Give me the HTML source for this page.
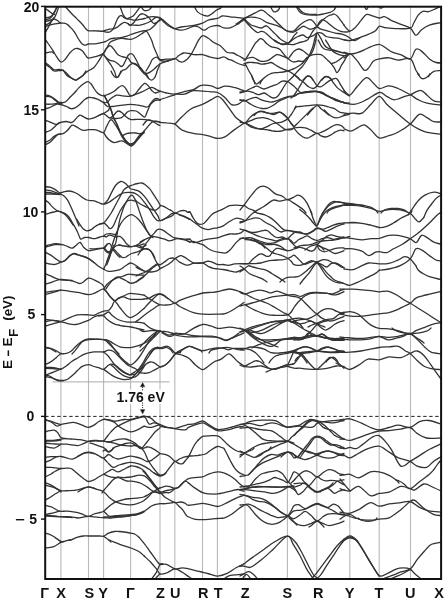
<!DOCTYPE html>
<html><head><meta charset="utf-8"><style>
html,body{margin:0;padding:0;background:#fff;-webkit-font-smoothing:antialiased;}
svg{display:block;filter:grayscale(1);}
text{font-family:"Liberation Sans",sans-serif;font-weight:bold;fill:#111;}
</style></head><body>
<svg width="445" height="605" viewBox="0 0 445 605" xmlns="http://www.w3.org/2000/svg">
<rect width="445" height="605" fill="#fff"/>
<g stroke="#b8b8b8" stroke-width="1.1"><line x1="60.9" y1="6.7" x2="60.9" y2="579.0"/><line x1="88.5" y1="6.7" x2="88.5" y2="579.0"/><line x1="103.6" y1="6.7" x2="103.6" y2="579.0"/><line x1="130.6" y1="6.7" x2="130.6" y2="579.0"/><line x1="160.0" y1="6.7" x2="160.0" y2="579.0"/><line x1="174.8" y1="6.7" x2="174.8" y2="579.0"/><line x1="202.5" y1="6.7" x2="202.5" y2="579.0"/><line x1="217.4" y1="6.7" x2="217.4" y2="579.0"/><line x1="245.0" y1="6.7" x2="245.0" y2="579.0"/><line x1="287.4" y1="6.7" x2="287.4" y2="579.0"/><line x1="316.8" y1="6.7" x2="316.8" y2="579.0"/><line x1="349.8" y1="6.7" x2="349.8" y2="579.0"/><line x1="379.2" y1="6.7" x2="379.2" y2="579.0"/><line x1="410.5" y1="6.7" x2="410.5" y2="579.0"/></g>
<line x1="52.5" y1="381.9" x2="169.5" y2="381.9" stroke="#aaa" stroke-width="1"/>
<defs><clipPath id="c"><rect x="45.2" y="6.7" width="395.90000000000003" height="572.3"/></clipPath></defs>
<g clip-path="url(#c)" fill="none" stroke="#333" stroke-width="1.3" stroke-linecap="round" stroke-linejoin="round">
<path d="M344.0 25.2 C344.9 26.2 347.7 30.5 349.6 30.8 C351.5 31.2 353.4 29.2 355.2 27.5 C357.1 25.8 359.0 22.9 360.9 20.7 C362.7 18.6 364.4 15.2 366.5 14.4 C368.5 13.7 371.1 15.6 373.2 16.2 C375.3 16.8 377.4 18.0 379.3 18.0 C381.2 18.1 382.5 16.3 384.4 16.7 C386.4 17.1 388.6 19.0 391.2 20.3 C393.8 21.5 397.0 22.8 400.2 24.1 C403.4 25.4 407.7 26.3 410.3 28.1 C412.9 30.0 414.0 35.1 415.9 35.3 C417.8 35.6 419.3 31.4 421.5 29.7 C423.8 28.0 426.6 26.3 429.4 25.2 C432.2 24.1 435.9 23.4 438.4 23.0 C440.8 22.5 443.1 22.6 444.0 22.5"/><path d="M344.0 39.8 C345.1 39.9 348.1 40.9 350.7 40.5 C353.4 40.1 356.7 38.6 359.7 37.6 C362.7 36.5 366.1 35.3 368.7 34.2 C371.3 33.1 373.7 32.2 375.5 30.8 C377.2 29.5 377.8 26.9 379.3 26.3 C380.8 25.8 381.7 27.1 384.4 27.5 C387.2 27.8 391.4 28.5 395.7 28.6 C400.0 28.7 407.3 29.1 410.3 28.1 C413.3 27.2 412.4 25.1 413.7 23.0 C415.0 20.8 416.7 17.1 418.2 15.1 C419.7 13.2 421.0 11.9 422.7 11.3 C424.3 10.7 426.4 12.0 428.3 11.7 C430.1 11.4 432.0 10.3 433.9 9.5 C435.8 8.7 438.6 7.2 439.5 6.8"/><path d="M344.0 52.2 C345.1 52.5 348.5 53.9 350.7 54.0 C353.0 54.1 355.2 53.3 357.5 52.6 C359.7 52.0 362.0 51.0 364.2 49.9 C366.5 48.9 368.5 47.5 371.0 46.6 C373.5 45.6 376.8 44.1 379.3 44.3 C381.7 44.5 383.4 46.4 385.6 47.7 C387.7 49.0 389.7 51.0 392.3 52.2 C394.9 53.4 398.3 53.8 401.3 54.9 C404.3 56.0 407.9 59.9 410.3 58.9 C412.7 58.0 414.0 50.6 415.9 49.3 C417.8 48.0 419.3 49.5 421.5 51.1 C423.8 52.7 427.0 57.0 429.4 58.9 C431.8 60.8 433.7 61.9 436.1 62.5 C438.6 63.2 442.7 62.9 444.0 63.0"/><path d="M344.0 57.8 C344.6 57.4 346.2 56.2 347.4 55.6 C348.5 54.9 349.1 53.1 350.7 54.0 C352.4 54.9 355.2 58.5 357.5 61.2 C359.7 63.9 362.4 69.0 364.2 70.2 C366.1 71.3 367.2 69.4 368.7 67.9 C370.2 66.4 371.5 62.7 373.2 61.2 C375.0 59.7 376.7 59.5 379.3 58.9 C381.9 58.4 385.8 57.6 388.9 57.8 C392.1 58.0 394.4 59.9 397.9 60.1 C401.5 60.2 407.3 57.2 410.3 58.9 C413.3 60.6 414.4 67.5 415.9 70.2 C417.4 72.9 418.7 74.3 419.3 75.1"/><path d="M428.3 76.5 C429.2 75.6 431.3 72.3 433.9 71.3 C436.5 70.2 442.3 70.4 444.0 70.2"/><path d="M363.8 5.0 C364.2 5.7 365.6 9.5 366.5 9.5 C367.4 9.5 368.7 5.7 369.2 5.0"/><path d="M377.3 5.0 C377.9 5.6 379.8 8.4 381.1 8.4 C382.4 8.4 384.3 5.6 384.9 5.0"/><path d="M160.0 91.2 C161.0 91.5 164.0 92.5 166.5 93.0 C169.0 93.5 172.2 94.3 175.0 94.1 C177.8 93.9 180.3 92.6 183.3 91.9 C186.4 91.1 190.8 90.5 193.4 89.6 C196.1 88.7 197.5 87.0 199.1 86.2 C200.6 85.5 200.8 85.2 202.9 85.1 C204.9 85.0 208.9 85.2 211.4 85.8 C213.9 86.3 215.5 88.4 217.7 88.5 C220.0 88.6 222.2 86.4 224.9 86.2 C227.6 86.0 230.7 86.6 233.9 87.4 C237.1 88.1 242.3 90.2 244.0 90.7"/><path d="M175.0 94.1 C176.6 94.1 181.4 94.7 184.4 94.1 C187.5 93.5 190.4 91.2 193.4 90.7 C196.5 90.2 199.9 91.0 202.9 91.2 C205.9 91.4 208.9 91.6 211.4 91.9 C213.9 92.1 215.5 91.6 217.7 92.5 C220.0 93.5 222.6 95.4 224.9 97.5 C227.2 99.5 229.4 103.5 231.6 104.7 C233.9 105.8 236.3 105.0 238.4 104.2 C240.4 103.4 243.1 100.5 244.0 99.7"/><path d="M160.0 99.7 C161.0 99.3 164.0 98.3 166.5 97.5 C169.0 96.6 173.6 95.2 175.0 94.8"/><path d="M160.0 122.6 C161.0 122.7 164.0 122.6 166.5 122.9 C169.0 123.1 173.6 123.8 175.0 124.0"/><path d="M144.0 131.2 C144.6 130.5 146.1 128.6 147.4 127.1 C148.7 125.6 150.4 123.2 151.9 122.2 C153.4 121.2 155.0 121.1 156.4 121.1 C157.7 121.1 159.4 122.0 160.0 122.2"/><path d="M175.0 124.0 C176.2 122.8 179.5 119.1 182.2 116.6 C184.9 114.0 187.7 110.8 191.2 108.7 C194.6 106.6 199.5 105.7 202.9 104.2 C206.2 102.7 208.9 101.0 211.4 99.7 C213.9 98.4 215.8 96.3 217.7 96.3 C219.6 96.3 220.7 97.7 222.7 99.7 C224.6 101.8 227.1 105.7 229.4 108.7 C231.6 111.7 233.7 115.3 236.1 117.7 C238.6 120.1 242.7 122.4 244.0 123.3"/><path d="M175.0 124.0 C176.2 125.0 179.1 128.5 182.2 130.1 C185.3 131.6 190.0 132.7 193.4 133.4 C196.9 134.2 199.9 134.0 202.9 134.6 C205.9 135.1 208.9 136.2 211.4 136.8 C213.9 137.4 215.5 138.4 217.7 138.4 C220.0 138.4 222.2 138.2 224.9 136.8 C227.6 135.4 230.7 132.3 233.9 130.1 C237.1 127.8 242.3 124.4 244.0 123.3"/><path d="M417.7 73.9 C418.3 74.6 420.3 77.6 421.5 78.4 C422.7 79.1 423.8 78.7 424.9 78.4 C426.0 78.0 427.4 76.9 428.3 76.1 C429.1 75.4 429.6 74.3 429.8 73.9"/><path d="M344.0 90.7 C344.9 91.5 347.4 96.0 349.6 95.2 C351.9 94.5 354.7 89.2 357.5 86.2 C360.3 83.3 363.9 78.3 366.5 77.7 C369.1 77.1 371.1 81.1 373.2 82.9 C375.3 84.7 376.7 88.0 379.3 88.5 C381.9 89.0 385.8 85.8 388.9 85.8 C392.1 85.8 394.4 87.0 397.9 88.5 C401.5 90.0 406.9 92.9 410.3 94.8 C413.7 96.6 415.3 98.3 418.2 99.7 C421.0 101.1 422.8 102.2 427.1 103.1 C431.5 104.0 441.2 105.0 444.0 105.3"/><path d="M344.0 103.1 C345.9 103.3 351.5 104.8 355.2 104.2 C359.0 103.7 362.5 101.7 366.5 99.7 C370.5 97.8 375.9 93.1 379.3 92.5 C382.7 92.0 384.3 95.1 386.7 96.3 C389.1 97.5 391.4 99.3 393.4 99.7 C395.5 100.1 397.2 99.2 399.1 98.6 C400.9 98.0 402.8 97.0 404.7 96.3 C406.5 95.7 407.7 95.8 410.3 94.8 C412.9 93.8 417.6 90.2 420.4 90.3 C423.2 90.4 424.9 93.5 427.1 95.2 C429.4 97.0 431.1 99.7 433.9 100.8 C436.7 102.0 442.3 101.8 444.0 102.0"/><path d="M344.0 114.3 C345.5 114.1 350.0 113.4 353.0 113.2 C356.0 113.0 359.0 114.7 362.0 113.2 C365.0 111.7 368.1 107.0 371.0 104.2 C373.9 101.4 376.7 96.3 379.3 96.3 C381.9 96.3 384.0 101.6 386.7 104.2 C389.4 106.8 393.1 109.8 395.7 112.1 C398.3 114.3 400.0 115.7 402.4 117.7 C404.9 119.7 407.7 122.1 410.3 124.0 C412.9 125.9 415.3 127.5 418.2 128.9 C421.0 130.3 422.8 131.4 427.1 132.3 C431.5 133.2 441.2 134.2 444.0 134.6"/><path d="M344.0 128.9 C345.1 129.3 348.5 131.4 350.7 131.2 C353.0 131.0 355.2 128.9 357.5 127.8 C359.7 126.8 362.0 124.5 364.2 124.9 C366.5 125.3 368.5 127.9 371.0 130.1 C373.5 132.2 376.3 137.0 379.3 137.9 C382.3 138.9 385.8 136.6 388.9 135.7 C392.1 134.7 394.4 134.3 397.9 132.3 C401.5 130.4 406.7 127.0 410.3 124.0 C413.9 121.0 416.5 115.4 419.3 114.3 C422.1 113.3 424.7 116.5 427.1 117.7 C429.6 118.9 431.1 121.1 433.9 121.7 C436.7 122.4 442.3 121.7 444.0 121.7"/><path d="M344.0 205.4 C345.5 205.4 350.0 205.3 353.0 205.4 C356.0 205.6 359.0 205.9 362.0 206.3 C365.0 206.8 368.1 207.5 371.0 208.4 C373.9 209.2 376.3 211.1 379.3 211.3 C382.3 211.5 385.5 209.7 388.9 209.5 C392.4 209.3 396.6 209.3 400.2 209.9 C403.7 210.6 407.7 211.9 410.3 213.5 C412.9 215.1 414.4 218.2 415.9 219.6 C417.4 221.0 418.0 222.2 419.3 221.9 C420.6 221.5 423.0 218.1 423.8 217.4"/><path d="M344.0 223.0 C345.5 222.9 350.0 222.5 353.0 222.5 C356.0 222.6 359.0 223.0 362.0 223.4 C365.0 223.9 368.1 224.6 371.0 225.2 C373.9 225.9 376.7 227.3 379.3 227.5 C381.9 227.7 384.3 227.1 386.7 226.3 C389.1 225.6 390.8 224.5 393.4 223.0 C396.1 221.5 399.6 218.9 402.4 217.4 C405.2 215.8 408.7 214.6 410.3 213.5 C411.9 212.5 411.6 211.3 411.9 210.8"/><path d="M344.0 237.6 C345.5 237.8 350.0 238.3 353.0 238.7 C356.0 239.1 359.0 239.8 362.0 239.8 C365.0 239.8 368.1 239.0 371.0 238.7 C373.9 238.4 376.3 238.8 379.3 238.3 C382.3 237.7 385.8 235.8 388.9 235.3 C392.1 234.9 395.3 235.1 397.9 235.3 C400.6 235.6 402.6 236.3 404.7 236.9 C406.7 237.5 408.6 237.8 410.3 238.7 C412.0 239.6 413.7 241.5 414.8 242.1 C415.9 242.6 415.9 243.2 417.0 242.1 C418.2 241.0 419.8 236.1 421.5 235.3 C423.2 234.6 425.1 236.5 427.1 237.6 C429.2 238.7 431.1 240.8 433.9 242.1 C436.7 243.3 442.3 244.5 444.0 245.0"/><path d="M344.0 248.8 C345.5 248.8 350.0 248.4 353.0 248.8 C356.0 249.2 359.4 249.9 362.0 251.1 C364.6 252.2 366.5 255.4 368.7 255.6 C371.0 255.7 373.7 252.8 375.5 252.2 C377.2 251.6 377.4 251.7 379.3 251.7 C381.2 251.8 384.3 253.1 386.7 252.6 C389.1 252.2 390.8 250.2 393.4 248.8 C396.1 247.4 399.6 246.0 402.4 244.3 C405.2 242.6 407.7 240.6 410.3 238.7 C412.9 236.8 415.0 235.7 418.2 233.1 C421.3 230.5 426.0 226.2 429.4 223.0 C432.8 219.8 435.9 215.8 438.4 214.0 C440.8 212.2 443.1 212.5 444.0 212.2"/><path d="M344.0 269.0 C345.5 269.2 350.4 270.1 353.0 269.7 C355.6 269.3 357.1 267.9 359.7 266.8 C362.4 265.7 365.5 263.5 368.7 263.0 C372.0 262.5 375.9 263.8 379.3 263.9 C382.7 264.0 385.8 264.1 388.9 263.4 C392.1 262.8 395.3 261.2 397.9 260.1 C400.6 258.9 402.6 256.9 404.7 256.7 C406.7 256.5 408.4 257.4 410.3 258.9 C412.2 260.4 415.0 264.6 415.9 265.7"/><path d="M379.3 270.2 C380.9 270.0 385.5 269.8 388.9 269.0 C392.4 268.3 396.6 267.4 400.2 265.7 C403.7 264.0 407.7 261.7 410.3 258.9 C412.9 256.1 414.0 250.3 415.9 248.8 C417.8 247.3 419.3 248.8 421.5 249.9 C423.8 251.1 427.0 253.9 429.4 255.6 C431.8 257.2 433.7 259.1 436.1 260.1 C438.6 261.0 442.7 261.0 444.0 261.2"/><path d="M270.4 6.5 C270.9 7.3 272.3 10.3 273.2 11.2 C274.1 12.1 275.1 12.0 276.0 11.7 C276.9 11.4 278.1 10.4 278.8 9.5 C279.5 8.6 279.8 7.0 280.0 6.5"/><path d="M236.0 24.0 C236.7 23.6 238.7 22.4 240.0 21.5 C241.3 20.6 242.4 19.5 244.0 18.5 C245.6 17.5 247.7 16.6 249.6 15.7 C251.5 14.8 253.3 13.8 255.2 12.9 C257.1 12.0 259.4 10.4 260.9 10.1 C262.4 9.8 262.9 10.4 264.2 11.2 C265.5 12.0 267.2 13.9 268.7 15.1 C270.2 16.3 271.7 17.2 273.2 18.5 C274.7 19.8 276.2 21.5 277.7 23.0 C279.2 24.5 280.9 26.3 282.2 27.5 C283.5 28.7 284.5 29.7 285.6 30.3 C286.7 30.9 287.5 31.3 288.9 31.4 C290.3 31.5 292.2 31.8 294.0 30.8 C295.8 29.8 297.7 26.8 299.6 25.2 C301.5 23.6 303.5 22.2 305.2 21.3 C306.9 20.4 308.5 19.7 309.7 19.6 C310.9 19.5 311.6 19.9 312.5 20.7 C313.4 21.4 314.6 23.2 315.4 24.1 C316.1 25.0 316.2 26.5 317.0 26.3 C317.8 26.1 319.0 24.1 320.0 23.0 C321.0 21.9 321.9 20.7 323.2 19.6 C324.5 18.5 326.2 17.0 327.7 16.2 C329.2 15.4 331.1 15.0 332.2 14.6 C333.3 14.2 333.2 13.7 334.1 14.0 C335.0 14.3 336.4 15.1 337.5 16.2 C338.6 17.3 339.7 19.2 340.8 20.7 C341.9 22.2 343.6 24.4 344.2 25.2"/><path d="M244.0 18.5 C244.9 18.3 247.7 17.3 249.6 17.1 C251.5 16.9 253.3 17.1 255.2 17.4 C257.1 17.7 259.0 18.2 260.9 19.0 C262.8 19.8 264.6 21.5 266.5 22.4 C268.4 23.2 270.2 23.5 272.1 24.1 C274.0 24.7 276.0 25.2 277.7 25.8 C279.4 26.4 280.7 27.2 282.2 28.0 C283.7 28.8 285.2 30.1 286.7 30.8 C288.2 31.5 290.0 31.8 291.2 32.0 C292.4 32.2 292.8 32.5 294.0 32.0 C295.2 31.5 297.0 30.1 298.5 29.2 C300.0 28.2 301.7 26.6 303.0 26.3 C304.3 26.0 305.3 27.0 306.4 27.5 C307.5 28.0 308.6 29.0 309.7 29.2 C310.8 29.4 311.9 29.0 313.1 28.6 C314.3 28.2 315.7 26.9 317.0 27.0 C318.3 27.1 319.4 28.6 320.8 29.2 C322.2 29.8 323.8 29.8 325.5 30.3 C327.2 30.8 329.5 31.5 331.1 32.0 C332.7 32.5 333.4 32.7 335.2 33.1 C337.0 33.5 339.9 33.6 342.0 34.2 C344.1 34.8 345.9 35.6 347.6 36.5 C349.3 37.4 350.8 39.1 352.1 39.8 C353.4 40.4 354.1 40.8 355.4 40.4 C356.7 40.0 359.2 38.1 360.0 37.6"/><path d="M238.0 24.0 C238.5 23.5 240.0 21.8 241.0 21.0 C242.0 20.2 242.9 18.9 244.0 19.0 C245.1 19.1 246.3 20.9 247.4 21.9 C248.5 22.8 249.4 24.0 250.7 24.7 C252.0 25.4 253.5 25.8 255.2 26.3 C256.9 26.9 259.5 27.9 260.9 28.0 C262.3 28.1 262.8 27.3 263.7 26.9 C264.6 26.5 265.5 25.5 266.5 25.8 C267.5 26.1 268.7 27.6 269.8 28.6 C270.9 29.6 272.1 30.9 273.2 32.0 C274.3 33.1 275.5 34.2 276.6 35.3 C277.7 36.4 278.7 37.7 280.0 38.7 C281.3 39.7 283.1 40.8 284.4 41.5 C285.7 42.2 286.7 43.5 287.8 43.2 C288.9 42.9 290.2 41.0 291.2 39.8 C292.2 38.6 293.0 37.1 294.0 35.9 C295.0 34.7 296.5 33.1 297.0 32.5"/><path d="M244.0 19.6 C244.8 20.5 247.0 23.1 248.5 24.7 C250.0 26.3 251.5 27.9 253.0 29.2 C254.5 30.5 256.2 32.1 257.5 32.5 C258.8 32.9 259.8 31.5 260.9 31.4 C262.0 31.3 263.1 31.4 264.2 32.0 C265.3 32.6 266.3 33.7 267.6 34.8 C268.9 35.9 270.6 37.5 272.1 38.7 C273.6 39.9 275.1 41.2 276.6 42.1 C278.1 43.0 279.6 43.5 281.1 43.8 C282.6 44.1 284.3 43.7 285.6 43.8 C286.9 43.9 287.5 44.2 288.9 44.3 C290.3 44.4 292.4 44.8 294.0 44.5 C295.6 44.2 297.0 43.3 298.5 42.8 C300.0 42.3 301.5 42.2 303.0 41.7 C304.5 41.2 306.3 41.0 307.5 40.0 C308.7 39.0 309.1 37.5 310.0 36.0 C310.9 34.5 311.8 32.6 313.0 31.0 C314.2 29.4 315.9 27.8 317.0 26.3 C318.1 24.8 318.6 23.1 319.5 22.0 C320.4 20.9 321.3 19.7 322.4 19.6 C323.4 19.5 324.4 20.4 325.8 21.3 C327.2 22.2 329.1 24.0 330.7 25.2 C332.3 26.4 333.5 27.6 335.2 28.6 C336.9 29.6 338.9 30.8 340.8 31.4 C342.7 32.0 345.0 32.0 346.5 32.0 C348.0 32.0 349.2 31.5 349.8 31.4"/><path d="M245.1 60.2 C245.7 59.3 247.4 56.5 248.5 54.6 C249.6 52.7 250.8 50.9 251.9 49.0 C253.0 47.1 254.3 44.7 255.2 43.4 C256.1 42.1 256.6 41.8 257.5 41.0 C258.4 40.2 259.4 38.9 260.3 38.7 C261.2 38.5 262.1 39.0 263.1 39.8 C264.1 40.6 265.2 42.2 266.5 43.4 C267.8 44.5 269.3 46.0 271.0 46.7 C272.7 47.5 275.1 47.4 276.6 47.9 C278.1 48.4 278.9 48.7 280.0 49.6 C281.1 50.5 282.0 52.0 283.3 53.5 C284.6 55.0 286.5 58.2 287.8 58.5 C289.1 58.8 290.0 56.2 291.0 55.0 C292.0 53.8 292.8 52.2 294.0 51.2 C295.2 50.2 297.0 49.1 298.5 49.0 C300.0 48.9 301.7 50.0 303.0 50.7 C304.3 51.5 305.3 52.7 306.4 53.5 C307.5 54.3 308.6 55.5 309.7 55.7 C310.8 55.9 311.9 54.8 313.1 54.6 C314.3 54.4 315.7 54.4 317.0 54.4 C318.3 54.4 319.8 54.2 321.0 54.6 C322.2 55.0 323.2 56.0 324.3 56.9 C325.4 57.8 326.6 59.1 327.7 60.2 C328.8 61.3 330.0 62.3 331.1 63.6 C332.2 64.9 333.5 66.6 334.4 68.1 C335.3 69.6 335.9 72.2 336.7 72.6 C337.5 73.0 338.2 71.4 339.0 70.3 C339.8 69.2 340.4 67.3 341.2 65.8 C342.0 64.3 343.1 62.8 344.0 61.3 C344.9 59.8 345.7 58.0 346.5 56.9 C347.3 55.8 348.3 54.8 348.7 54.4"/><path d="M244.0 60.2 C244.8 59.8 247.0 58.5 248.5 58.0 C250.0 57.5 251.7 57.2 253.0 57.4 C254.3 57.6 255.3 58.5 256.4 59.1 C257.5 59.7 258.4 60.4 259.7 60.8 C261.0 61.2 262.7 61.4 264.2 61.3 C265.7 61.2 267.2 60.9 268.7 60.2 C270.2 59.5 271.9 57.8 273.2 56.9 C274.5 56.0 275.5 54.9 276.6 54.6 C277.7 54.3 278.7 54.8 280.0 55.2 C281.3 55.6 283.1 56.4 284.4 56.9 C285.7 57.4 286.7 57.8 287.8 58.5 C288.9 59.2 290.0 60.4 291.0 61.0 C292.0 61.6 292.8 62.0 294.0 62.0 C295.2 62.0 297.0 61.1 298.5 61.0 C300.0 60.9 301.5 61.9 303.0 61.3 C304.5 60.7 306.4 58.3 307.5 57.4 C308.6 56.5 308.9 56.5 309.7 55.7 C310.4 54.9 311.2 53.9 312.0 52.4 C312.8 50.9 313.6 48.8 314.2 46.7 C314.8 44.6 315.4 42.3 315.9 40.0 C316.4 37.7 316.1 33.3 317.0 33.1 C317.9 32.9 319.8 36.7 321.0 38.7 C322.2 40.7 323.2 43.5 324.3 45.0 C325.4 46.5 326.6 47.3 327.7 48.0 C328.8 48.7 329.6 48.5 331.1 49.0 C332.6 49.5 335.0 50.6 336.7 51.2 C338.4 51.8 340.0 52.1 341.2 52.4 C342.4 52.7 343.5 52.8 344.0 52.9"/><path d="M244.0 63.6 C244.8 63.4 247.0 62.7 248.5 62.5 C250.0 62.3 251.5 62.4 253.0 62.5 C254.5 62.6 256.0 62.7 257.5 63.0 C259.0 63.3 260.5 64.1 262.0 64.2 C263.5 64.3 265.0 63.9 266.5 63.6 C268.0 63.3 269.7 62.4 271.0 62.5 C272.3 62.6 273.2 63.6 274.3 64.2 C275.4 64.9 276.4 65.7 277.7 66.4 C279.0 67.2 280.5 68.0 282.2 68.7 C283.9 69.5 286.3 70.3 287.8 70.9 C289.3 71.5 290.0 71.9 291.0 72.5 C292.0 73.1 292.8 73.5 294.0 74.5 C295.2 75.5 296.9 77.1 298.5 78.4 C300.1 79.7 301.9 80.9 303.6 82.3 C305.3 83.7 307.0 85.8 308.6 86.8 C310.2 87.8 311.7 88.6 313.1 88.5 C314.5 88.4 315.6 87.5 317.0 86.0 C318.4 84.5 320.2 81.0 321.7 79.5 C323.2 78.0 324.9 77.0 326.2 76.7 C327.5 76.4 328.5 76.9 329.6 77.8 C330.7 78.7 331.7 80.6 333.0 82.3 C334.3 84.0 335.8 86.3 337.5 87.9 C339.2 89.5 341.1 90.6 343.1 91.9 C345.1 93.2 348.3 95.2 349.3 95.8"/><path d="M245.1 63.6 C245.7 64.7 247.4 68.2 248.5 70.3 C249.6 72.4 251.1 74.4 251.9 76.0 C252.8 77.6 253.1 78.7 253.6 80.0 C254.1 81.3 254.8 83.3 255.0 84.0"/><path d="M260.0 84.0 C260.3 83.3 260.9 81.3 262.0 80.0 C263.1 78.7 264.8 77.2 266.5 76.0 C268.2 74.8 270.2 73.7 272.1 73.1 C274.0 72.5 275.8 72.8 277.7 72.6 C279.6 72.4 281.6 72.3 283.3 72.0 C285.0 71.7 286.5 71.3 287.8 70.9 C289.1 70.5 290.0 70.2 291.0 69.8 C292.0 69.4 292.9 69.1 294.0 68.6 C295.1 68.1 296.3 67.5 297.5 66.8 C298.7 66.1 299.9 65.4 301.0 64.5 C302.1 63.6 303.0 62.7 304.0 61.5 C305.0 60.3 306.5 58.2 307.0 57.5"/><path d="M274.3 40.0 C274.9 40.4 276.4 41.5 277.7 42.2 C279.0 43.0 280.5 44.3 282.2 44.5 C283.9 44.7 286.3 44.0 287.8 43.4 C289.3 42.8 290.2 41.9 291.2 41.1 C292.2 40.3 292.9 39.5 294.0 38.7 C295.1 37.9 296.5 37.1 298.0 36.5 C299.5 35.9 301.4 34.8 303.0 35.0 C304.6 35.2 305.7 37.6 307.5 37.6 C309.3 37.6 312.1 36.0 313.7 35.3 C315.3 34.5 315.7 33.5 317.0 33.1 C318.3 32.7 320.2 32.5 321.7 33.1 C323.2 33.7 324.5 35.8 326.2 36.5 C327.9 37.2 330.0 37.3 331.9 37.6 C333.8 37.9 335.4 37.8 337.5 38.2 C339.6 38.6 342.3 39.4 344.2 39.8 C346.1 40.2 347.9 40.3 348.7 40.4"/><path d="M296.2 6.5 C296.7 7.3 298.0 9.9 299.1 11.2 C300.2 12.4 301.4 13.4 303.0 14.0 C304.6 14.6 306.4 14.7 308.6 14.9 C310.9 15.1 314.1 15.2 316.5 15.1 C318.9 14.9 320.9 14.5 323.2 14.0 C325.4 13.5 328.2 13.0 330.0 12.3 C331.8 11.7 332.9 11.1 333.9 10.1 C334.9 9.1 335.7 7.1 336.1 6.5"/><path d="M297.5 6.5 C298.0 7.2 299.4 9.4 300.5 10.5 C301.6 11.6 302.6 12.4 304.0 13.0 C305.4 13.6 306.9 13.9 309.0 14.2 C311.1 14.4 315.2 14.4 316.5 14.5"/><path d="M318.2 40.0 C318.7 40.9 320.0 44.1 321.0 45.6 C322.0 47.1 322.8 48.2 324.3 49.0 C325.8 49.8 327.9 49.7 330.0 50.1 C332.1 50.5 334.8 50.8 336.7 51.2 C338.6 51.6 340.0 52.1 341.2 52.4 C342.4 52.7 342.8 52.6 344.0 52.9 C345.2 53.2 347.9 54.0 348.7 54.2"/><path d="M325.5 40.0 C325.9 40.6 326.8 41.9 327.7 43.4 C328.6 44.9 330.0 47.5 331.1 49.0 C332.2 50.5 333.1 51.5 334.4 52.4 C335.7 53.3 337.4 54.0 339.0 54.6 C340.6 55.2 342.4 55.7 344.0 55.7 C345.6 55.7 347.9 54.6 348.7 54.4"/><path d="M331.1 63.6 C331.9 63.3 334.4 62.9 336.0 62.0 C337.6 61.1 339.7 59.5 341.0 58.5 C342.3 57.5 343.1 56.6 344.0 56.0 C344.9 55.4 345.7 55.3 346.5 55.0 C347.3 54.7 348.3 54.5 348.7 54.4"/><path d="M303.0 80.0 C303.6 79.4 305.5 77.2 306.4 76.5 C307.3 75.8 307.9 75.9 308.6 76.0 C309.4 76.1 310.1 76.3 310.9 77.0 C311.6 77.7 312.7 79.5 313.1 80.0"/><path d="M322.0 80.0 C322.4 79.5 323.5 77.6 324.3 77.0 C325.1 76.4 325.7 76.3 326.6 76.5 C327.6 76.7 329.1 77.4 330.0 78.0 C330.9 78.6 331.8 79.7 332.2 80.0"/><path d="M294.0 74.8 C294.4 75.0 295.4 75.5 296.2 76.0 C296.9 76.5 297.9 77.3 298.5 78.0 C299.1 78.7 299.4 79.7 299.6 80.0"/><path d="M63.0 70.0 C63.6 70.8 65.2 73.7 66.5 75.0 C67.8 76.3 69.5 77.0 71.0 77.8 C72.5 78.6 74.2 80.0 75.5 80.1 C76.8 80.2 77.7 79.1 78.8 78.4 C79.9 77.7 81.5 76.7 82.2 76.1 C83.0 75.5 82.7 75.8 83.3 75.0 C83.9 74.2 85.5 71.7 86.0 71.0"/><path d="M111.0 71.0 C111.3 71.7 112.5 74.0 113.1 75.0 C113.7 76.0 114.2 76.3 114.8 76.7 C115.4 77.1 115.9 77.5 116.5 77.5 C117.1 77.5 117.7 77.1 118.2 76.7 C118.7 76.3 118.8 76.0 119.3 75.0 C119.8 74.0 120.7 71.7 121.0 71.0"/><path d="M45.0 95.0 C45.8 95.1 48.1 95.2 49.6 95.8 C51.1 96.4 52.6 97.6 54.1 98.6 C55.6 99.6 57.5 101.3 58.6 102.0 C59.7 102.7 59.8 102.5 60.9 102.5 C62.0 102.5 63.8 102.8 65.3 102.0 C66.8 101.2 68.3 99.0 69.8 97.5 C71.3 96.0 72.8 94.6 74.3 93.0 C75.8 91.4 77.3 89.4 78.8 87.9 C80.3 86.4 81.8 85.0 83.3 84.0 C84.8 83.0 86.5 81.7 87.8 81.7 C89.1 81.7 90.2 82.9 91.2 84.0 C92.2 85.1 93.0 87.0 94.0 88.5 C95.0 90.0 96.3 91.9 97.4 93.0 C98.5 94.1 99.6 94.7 100.7 95.2 C101.8 95.7 102.6 96.0 103.9 95.8 C105.2 95.6 106.9 94.8 108.6 94.1 C110.3 93.3 112.5 92.4 114.2 91.3 C115.9 90.2 117.4 88.3 118.7 87.4 C120.0 86.5 121.1 85.7 122.1 85.7 C123.1 85.7 124.0 86.4 124.9 87.4 C125.8 88.4 126.8 90.5 127.7 91.9 C128.6 93.3 129.3 95.4 130.5 95.8 C131.7 96.2 133.6 95.3 135.1 94.1 C136.6 92.9 138.0 90.3 139.6 88.5 C141.2 86.7 143.2 83.8 144.7 83.4 C146.2 83.0 147.4 85.0 148.6 86.2 C149.8 87.4 150.9 89.6 152.0 90.7 C153.1 91.8 154.0 92.9 155.3 93.0 C156.7 93.1 159.3 91.6 160.1 91.3"/><path d="M45.0 96.3 C46.0 96.4 49.0 96.2 50.7 96.9 C52.4 97.6 53.9 99.3 55.2 100.3 C56.5 101.3 57.5 102.3 58.6 103.1 C59.7 103.8 60.7 104.2 62.0 104.8 C63.3 105.4 65.0 105.8 66.5 106.5 C68.0 107.2 69.5 108.5 71.0 108.7 C72.5 108.9 74.0 108.3 75.5 107.6 C77.0 106.8 78.5 105.5 80.0 104.2 C81.5 102.9 83.0 100.8 84.4 99.7 C85.8 98.6 86.8 97.8 88.4 97.5 C90.0 97.2 92.3 97.6 94.0 98.0 C95.7 98.4 96.8 99.0 98.5 99.7 C100.2 100.5 102.4 102.1 103.9 102.5 C105.4 102.9 106.3 102.7 107.5 102.0 C108.7 101.3 109.4 99.7 110.9 98.6 C112.4 97.5 114.6 95.7 116.5 95.2 C118.4 94.7 120.2 95.6 122.1 95.8 C124.0 96.0 126.3 96.2 127.7 96.3 C129.1 96.3 129.1 96.5 130.5 96.1 C131.9 95.7 134.3 94.8 136.2 94.1 C138.1 93.4 140.0 92.8 141.9 91.9 C143.8 91.1 145.8 89.8 147.5 89.0 C149.2 88.2 150.5 87.3 152.0 87.4 C153.5 87.5 155.2 88.9 156.5 89.6 C157.8 90.2 159.5 91.0 160.1 91.3"/><path d="M45.0 104.2 C46.0 104.2 49.0 104.3 50.7 104.2 C52.4 104.1 53.7 103.9 55.2 103.7 C56.7 103.5 58.6 103.1 59.7 103.1 C60.8 103.1 61.6 103.4 62.0 103.5"/><path d="M45.0 108.7 C45.8 108.5 48.1 108.2 49.6 107.6 C51.1 107.0 52.8 105.9 54.1 105.3 C55.4 104.7 56.3 104.3 57.5 104.2 C58.7 104.1 60.5 104.7 61.1 104.8"/><path d="M103.9 95.2 C104.3 96.0 105.6 98.2 106.4 99.7 C107.2 101.2 107.8 102.5 108.6 104.2 C109.3 105.9 110.2 107.7 110.9 109.8 C111.7 111.9 112.2 114.4 113.1 116.7 C114.0 119.0 115.4 121.1 116.5 123.5 C117.6 125.9 118.7 129.1 119.8 131.3 C120.9 133.6 122.1 135.3 123.2 137.0 C124.3 138.7 125.4 140.2 126.6 141.5 C127.8 142.8 129.4 144.4 130.5 144.8 C131.6 145.2 132.3 144.6 133.3 143.7 C134.3 142.8 135.6 140.7 136.7 139.2 C137.8 137.7 138.9 136.0 140.1 134.7 C141.3 133.4 143.3 131.9 144.0 131.3"/><path d="M104.5 95.5 C104.9 96.3 106.2 98.9 107.0 100.5 C107.8 102.1 108.5 103.3 109.2 105.0 C109.9 106.7 110.7 108.5 111.4 110.5 C112.1 112.5 112.7 114.9 113.6 117.2 C114.5 119.5 115.9 121.7 117.0 124.2 C118.1 126.7 119.2 129.8 120.3 132.0 C121.4 134.2 122.5 135.9 123.6 137.6 C124.7 139.3 125.8 140.7 127.0 142.0 C128.2 143.3 129.9 144.8 130.5 145.4"/><path d="M103.9 103.1 C104.5 103.7 106.2 105.9 107.5 106.5 C108.8 107.1 110.1 106.7 112.0 106.5 C113.9 106.3 116.5 105.9 118.7 105.6 C121.0 105.3 123.5 105.0 125.5 104.8 C127.5 104.6 128.7 104.4 130.5 104.4 C132.3 104.4 134.3 104.5 136.2 104.8 C138.1 105.0 140.0 105.5 141.9 105.9 C143.8 106.3 146.0 107.5 147.5 107.0 C149.0 106.5 149.7 104.4 150.8 103.1 C151.9 101.8 153.1 100.0 154.2 99.2 C155.3 98.5 156.6 98.4 157.6 98.6 C158.6 98.8 159.7 100.0 160.1 100.3"/><path d="M45.0 120.1 C46.0 120.5 48.8 121.7 50.7 122.4 C52.6 123.1 54.7 124.4 56.4 124.4 C58.1 124.4 59.2 122.9 60.9 122.4 C62.6 121.9 64.6 121.5 66.5 121.5 C68.4 121.5 70.4 123.0 72.1 122.4 C73.8 121.8 75.3 119.1 76.6 117.9 C77.9 116.7 78.9 115.3 80.0 115.1 C81.1 114.9 81.9 116.0 83.3 116.7 C84.7 117.4 86.6 118.8 88.4 119.0 C90.2 119.2 92.3 118.5 94.0 117.9 C95.7 117.3 96.9 116.3 98.5 115.6 C100.1 114.8 102.3 114.1 103.6 113.4 C104.9 112.8 105.6 112.3 106.4 111.7 C107.2 111.1 108.0 110.8 108.6 110.0 C109.2 109.2 109.8 107.5 110.0 107.0"/><path d="M45.0 132.5 C46.0 132.1 49.0 131.2 50.7 130.2 C52.4 129.2 53.9 127.5 55.2 126.3 C56.5 125.1 57.7 123.6 58.6 122.9 C59.5 122.2 60.5 122.5 60.9 122.4"/><path d="M45.0 142.6 C45.8 142.2 48.1 141.3 49.6 140.3 C51.1 139.3 52.6 137.4 54.1 136.4 C55.6 135.4 57.1 134.7 58.6 134.2 C60.1 133.7 61.6 134.3 63.1 133.6 C64.6 132.9 66.1 131.6 67.6 130.2 C69.1 128.8 70.6 125.8 72.1 125.2 C73.6 124.7 74.9 126.1 76.6 126.9 C78.3 127.7 80.2 129.7 82.2 130.2 C84.2 130.7 86.4 129.8 88.4 129.7 C90.4 129.6 92.3 129.5 94.0 129.7 C95.7 129.9 96.9 130.3 98.5 130.8 C100.1 131.3 102.3 133.2 103.6 132.5 C104.9 131.8 105.4 128.9 106.4 126.9 C107.4 124.9 108.8 121.8 109.7 120.7 C110.6 119.6 111.1 119.4 112.0 120.1 C112.9 120.8 114.2 122.9 115.3 124.6 C116.4 126.3 117.6 128.1 118.7 130.2 C119.8 132.3 121.0 135.1 122.1 137.0 C123.2 138.9 124.4 140.4 125.5 141.5 C126.6 142.6 127.9 143.3 128.8 143.7 C129.7 144.1 130.2 143.9 131.1 143.7 C132.0 143.5 133.1 143.7 134.4 142.6 C135.7 141.5 137.4 138.7 139.0 137.0 C140.6 135.3 143.2 133.2 144.0 132.5"/><path d="M45.0 144.8 C45.8 144.4 48.1 143.7 49.6 142.6 C51.1 141.5 52.8 139.4 54.1 138.1 C55.4 136.8 56.4 135.3 57.5 134.7 C58.6 134.0 60.3 134.3 60.9 134.2"/><path d="M103.6 132.5 C104.1 133.2 105.4 135.7 106.4 137.0 C107.4 138.3 108.4 139.4 109.7 140.3 C111.0 141.2 112.7 142.4 114.2 142.6 C115.7 142.8 117.4 141.8 118.7 141.5 C120.0 141.2 121.0 140.7 122.1 140.9 C123.2 141.1 124.4 141.9 125.5 142.6 C126.6 143.2 127.9 144.2 128.8 144.8 C129.7 145.4 130.2 146.2 131.1 146.0 C132.0 145.8 133.1 145.0 134.4 143.7 C135.7 142.4 137.4 140.0 139.0 138.1 C140.6 136.2 143.2 133.4 144.0 132.5"/><path d="M123.2 135.3 C123.8 135.0 125.4 134.0 126.6 133.6 C127.8 133.2 129.0 133.1 130.5 133.0 C132.0 132.9 134.0 132.9 135.6 133.0 C137.2 133.1 138.7 133.7 140.1 133.6 C141.5 133.5 143.3 132.7 144.0 132.5"/><path d="M103.6 113.4 C104.1 113.8 105.4 114.8 106.4 115.6 C107.4 116.3 108.6 117.8 109.7 117.9 C110.8 118.0 111.9 117.0 113.0 116.0 C114.1 115.0 115.5 112.8 116.5 112.0 C117.5 111.2 117.8 110.9 118.7 111.0 C119.6 111.1 120.9 111.9 122.0 112.8 C123.1 113.7 124.1 115.1 125.5 116.2 C126.9 117.3 128.7 118.9 130.5 119.4 C132.3 119.9 134.3 119.4 136.2 119.4 C138.1 119.4 140.0 119.3 141.9 119.4 C143.8 119.5 145.6 119.6 147.5 119.9 C149.4 120.2 151.0 120.7 153.1 121.1 C155.2 121.5 158.9 122.0 160.1 122.2"/><path d="M109.7 117.9 C110.2 118.0 111.9 118.4 113.0 118.5 C114.1 118.6 115.2 118.6 116.5 118.5 C117.8 118.4 119.8 118.4 121.0 117.9 C122.2 117.4 122.9 116.6 124.0 115.6 C125.1 114.6 126.5 112.5 127.7 111.7 C128.9 110.9 129.7 110.7 131.1 110.6 C132.5 110.5 134.6 110.4 136.2 111.0 C137.8 111.6 139.3 113.3 140.7 114.3 C142.1 115.3 143.6 117.6 144.7 117.1 C145.8 116.5 146.5 113.2 147.5 111.0 C148.5 108.8 149.5 106.0 150.8 104.2 C152.1 102.4 153.8 101.0 155.3 100.3 C156.9 99.6 159.3 100.3 160.1 100.3"/><path d="M98.5 115.6 C98.9 115.4 99.9 114.9 100.7 114.5 C101.5 114.1 103.1 113.6 103.6 113.4"/><path d="M251.9 76.0 C252.1 76.6 252.2 78.2 253.0 79.5 C253.8 80.8 255.3 83.6 256.4 84.0 C257.5 84.4 258.8 82.4 259.7 81.7 C260.6 81.0 261.6 80.3 262.0 80.0"/><path d="M240.0 93.0 C240.9 92.7 243.7 92.0 245.3 91.3 C246.9 90.6 247.8 89.8 249.6 89.0 C251.4 88.2 254.5 86.4 256.4 86.2 C258.3 86.0 259.6 87.4 260.9 87.9 C262.2 88.4 262.9 89.1 264.2 89.0 C265.5 88.9 267.2 88.0 268.7 87.4 C270.2 86.9 271.7 86.3 273.2 85.7 C274.7 85.1 276.2 84.8 277.7 84.0 C279.2 83.2 280.5 81.6 282.2 81.2 C283.9 80.8 286.1 81.2 287.6 81.7 C289.1 82.2 290.1 83.2 291.2 84.0 C292.3 84.8 293.0 85.3 294.0 86.2 C295.0 87.1 296.3 88.5 297.4 89.6 C298.5 90.6 299.4 92.1 300.7 92.5 C302.0 92.9 303.5 92.2 305.2 92.0 C306.9 91.8 308.9 91.6 310.9 91.5 C312.9 91.4 315.1 91.3 317.0 91.5 C318.9 91.7 320.4 91.9 322.0 92.6 C323.6 93.2 325.1 94.6 326.6 95.4 C328.1 96.2 329.3 96.9 331.0 97.7 C332.7 98.5 335.0 99.3 336.7 100.0 C338.4 100.7 339.8 101.4 341.0 101.8 C342.2 102.2 342.6 102.4 344.0 102.6 C345.4 102.8 348.4 103.0 349.3 103.1"/><path d="M240.0 92.0 C240.9 91.9 243.7 91.4 245.3 91.3 C246.9 91.2 248.1 91.0 249.6 91.3 C251.1 91.6 252.6 92.4 254.1 93.0 C255.6 93.6 256.9 94.7 258.6 94.7 C260.3 94.7 262.5 92.8 264.2 93.0 C265.9 93.2 267.2 95.0 268.7 95.8 C270.2 96.6 271.7 97.9 273.2 98.0 C274.7 98.1 276.2 97.7 277.7 96.3 C279.2 94.9 280.9 91.6 282.2 89.6 C283.5 87.5 284.7 85.3 285.6 84.0 C286.5 82.7 286.9 82.5 287.6 81.7 C288.4 81.0 289.0 80.5 290.1 79.5 C291.2 78.5 292.8 76.8 294.0 75.5 C295.2 74.2 296.1 72.9 297.4 71.5 C298.7 70.1 300.6 68.5 301.9 67.0 C303.2 65.5 304.1 64.2 305.2 62.5 C306.3 60.8 307.5 59.1 308.6 56.9 C309.7 54.6 311.1 51.2 312.0 49.0 C312.9 46.8 313.2 45.2 313.7 43.4 C314.2 41.6 314.4 39.7 315.0 38.0 C315.6 36.3 316.7 33.9 317.0 33.1"/><path d="M291.0 98.0 C291.5 97.5 292.8 96.8 294.0 95.2 C295.2 93.6 297.0 90.8 298.5 88.5 C300.0 86.2 301.5 83.2 303.0 81.2 C304.5 79.2 306.2 77.0 307.5 76.3 C308.8 75.6 309.8 76.3 310.9 77.2 C312.0 78.1 313.2 80.3 314.2 81.7 C315.2 83.1 315.9 84.9 317.0 85.7 C318.1 86.5 319.2 87.1 320.6 86.8 C322.0 86.5 323.6 85.0 325.1 84.0 C326.6 83.0 327.9 81.5 329.6 80.6 C331.3 79.7 333.9 78.6 335.2 78.4 C336.5 78.2 336.6 78.4 337.5 79.5 C338.4 80.6 339.6 83.1 340.8 85.1 C342.0 87.1 343.4 89.5 344.8 91.3 C346.2 93.1 348.6 95.0 349.3 95.8"/><path d="M240.0 100.0 C240.9 100.1 243.5 101.0 245.3 100.8 C247.1 100.6 248.8 99.1 250.7 98.6 C252.5 98.0 254.7 97.3 256.4 97.5 C258.1 97.7 259.2 99.0 260.9 99.7 C262.6 100.4 264.6 101.0 266.5 101.4 C268.4 101.8 270.2 102.2 272.1 102.0 C274.0 101.8 275.8 101.0 277.7 100.3 C279.6 99.6 281.4 98.7 283.3 98.0 C285.2 97.3 287.1 96.7 288.9 96.3 C290.7 95.9 292.4 96.2 294.0 95.8 C295.6 95.3 297.0 94.2 298.5 93.6 C300.0 93.0 301.1 92.8 303.0 92.4 C304.9 92.1 307.7 91.7 310.0 91.5 C312.3 91.3 315.0 91.1 317.0 91.3 C319.0 91.5 320.4 91.8 322.0 92.4 C323.6 93.1 325.1 94.4 326.6 95.2 C328.1 96.0 329.3 96.8 331.0 97.5 C332.7 98.2 335.0 99.0 336.7 99.7 C338.4 100.4 339.8 101.0 341.0 101.5 C342.2 102.0 343.5 102.3 344.0 102.5"/><path d="M240.0 100.0 C240.9 100.1 243.5 100.1 245.3 100.8 C247.1 101.5 248.8 103.2 250.7 104.2 C252.5 105.2 254.5 106.3 256.4 107.0 C258.3 107.7 260.1 108.3 262.0 108.5 C263.9 108.7 265.7 108.6 267.6 108.1 C269.5 107.6 271.5 106.3 273.2 105.3 C274.9 104.3 276.0 103.0 277.7 102.0 C279.4 101.0 281.4 100.0 283.3 99.2 C285.2 98.4 287.1 97.4 288.9 96.9 C290.7 96.4 292.4 96.8 294.0 96.3 C295.6 95.8 297.0 94.1 298.5 93.6 C300.0 93.0 301.1 93.3 303.0 93.0 C304.9 92.7 307.7 92.2 310.0 92.0 C312.3 91.8 315.0 91.6 317.0 91.8 C319.0 92.0 320.3 92.7 322.0 93.4 C323.7 94.1 325.3 95.2 327.0 96.0 C328.7 96.8 330.3 97.7 332.0 98.5 C333.7 99.3 335.5 100.4 337.0 101.0 C338.5 101.6 339.8 101.8 341.0 102.0 C342.2 102.2 343.5 102.4 344.0 102.5"/><path d="M254.1 115.5 C254.8 114.8 257.1 112.2 258.6 111.5 C260.1 110.8 261.4 111.2 263.1 111.5 C264.8 111.8 266.8 112.9 268.7 113.2 C270.6 113.5 272.6 113.4 274.3 113.2 C276.0 113.0 277.3 112.0 278.8 112.1 C280.3 112.2 281.8 112.8 283.3 113.8 C284.8 114.8 286.3 116.8 287.6 118.4 C288.9 120.0 290.1 122.1 291.2 123.5 C292.3 124.9 293.5 126.3 294.0 126.9"/><path d="M294.5 108.5 C294.8 108.2 295.6 107.1 296.5 106.8 C297.4 106.5 298.2 106.7 299.6 106.5 C301.1 106.3 303.3 106.1 305.2 105.9 C307.1 105.7 309.0 105.5 311.0 105.3 C313.0 105.1 315.0 104.8 317.0 104.8 C319.0 104.8 321.0 104.9 323.0 105.3 C325.0 105.7 326.9 106.4 328.8 107.0 C330.7 107.6 332.6 107.9 334.4 108.7 C336.2 109.5 337.9 111.3 339.7 112.1 C341.5 112.8 343.7 112.9 345.3 113.2 C346.9 113.5 348.6 113.7 349.3 113.8"/><path d="M307.5 115.0 C308.2 114.1 310.4 111.4 312.0 109.8 C313.6 108.2 315.5 105.5 317.0 105.3 C318.5 105.1 319.6 107.5 321.0 108.7 C322.4 109.9 324.2 111.2 325.5 112.2 C326.8 113.2 328.4 114.5 329.0 115.0"/><path d="M240.0 122.0 C240.9 122.2 243.7 123.6 245.3 122.9 C246.9 122.2 247.9 119.5 249.6 117.9 C251.2 116.3 253.3 114.4 255.2 113.4 C257.1 112.4 259.0 111.8 260.9 111.7 C262.8 111.6 264.4 112.3 266.5 112.8 C268.6 113.3 271.5 114.4 273.2 114.5 C274.9 114.6 275.5 113.8 276.6 113.4 C277.7 113.0 278.9 112.0 280.0 112.2 C281.1 112.4 282.0 113.5 283.3 114.5 C284.6 115.5 286.3 116.9 287.6 118.4 C288.9 119.9 290.1 122.1 291.2 123.5 C292.3 124.9 293.5 126.3 294.0 126.9"/><path d="M245.3 122.9 C246.2 122.5 248.8 121.5 250.7 120.7 C252.5 120.0 254.3 118.9 256.4 118.4 C258.5 117.9 261.1 117.5 263.1 117.6 C265.2 117.7 266.8 118.3 268.7 119.0 C270.6 119.7 272.4 120.7 274.3 121.8 C276.2 122.9 278.3 124.5 280.0 125.7 C281.7 126.9 283.1 128.4 284.4 129.1 C285.7 129.8 286.5 129.6 287.6 129.7 C288.7 129.8 290.1 130.0 291.2 129.7 C292.3 129.4 292.6 128.4 294.0 128.0 C295.4 127.6 297.7 127.4 299.6 127.4 C301.5 127.4 303.3 127.3 305.2 127.8 C307.1 128.3 308.9 129.3 310.9 130.2 C312.9 131.1 315.1 133.1 317.0 133.4 C318.9 133.7 320.3 132.6 322.1 131.9 C323.9 131.2 326.0 130.0 327.7 129.1 C329.4 128.2 330.7 127.0 332.2 126.3 C333.7 125.5 335.2 124.7 336.7 124.6 C338.2 124.5 340.0 125.1 341.2 125.7 C342.4 126.3 343.5 127.6 344.0 128.0"/><path d="M245.3 122.9 C246.2 123.6 248.8 126.0 250.7 126.9 C252.5 127.8 254.7 128.2 256.4 128.5 C258.1 128.8 259.2 129.2 260.9 128.9 C262.6 128.6 264.6 127.7 266.5 126.9 C268.4 126.1 270.4 124.7 272.1 124.0 C273.8 123.3 274.9 123.3 276.6 122.9 C278.3 122.5 280.4 122.5 282.2 121.8 C284.0 121.1 286.1 120.2 287.6 119.0 C289.1 117.8 290.1 116.0 291.2 114.5 C292.3 113.0 293.2 111.4 294.0 110.0 C294.8 108.6 295.7 106.7 296.0 106.0"/><path d="M245.3 122.9 C246.2 123.4 248.8 124.9 250.7 125.7 C252.5 126.5 254.7 127.4 256.4 128.0 C258.1 128.6 259.2 128.8 260.9 129.1 C262.6 129.4 264.6 129.4 266.5 129.7 C268.4 130.0 270.2 130.5 272.1 130.8 C274.0 131.1 276.0 131.3 277.7 131.3 C279.4 131.3 280.9 131.1 282.2 130.8 C283.5 130.5 284.7 129.9 285.6 129.7 C286.5 129.4 286.7 129.4 287.6 129.3 C288.5 129.2 290.1 129.0 291.2 128.9 C292.3 128.8 292.8 127.7 294.0 128.5 C295.2 129.3 297.0 132.2 298.5 133.6 C300.0 135.0 301.5 136.2 303.0 137.0 C304.5 137.8 306.0 138.3 307.5 138.1 C309.0 137.9 310.4 136.6 312.0 135.8 C313.6 135.0 315.5 133.4 317.0 133.4 C318.5 133.4 319.6 135.2 321.0 135.8 C322.4 136.4 324.0 137.1 325.5 137.0 C327.0 136.9 328.3 136.2 330.0 135.3 C331.7 134.5 333.9 132.8 335.6 131.9 C337.3 131.1 338.7 130.4 340.1 130.2 C341.5 130.0 343.4 130.7 344.0 130.8"/><path d="M294.0 126.9 C294.8 126.2 297.0 123.9 298.5 122.4 C300.0 120.9 301.5 119.4 303.0 117.9 C304.5 116.4 306.2 114.7 307.5 113.4 C308.8 112.1 310.0 110.9 310.9 110.0 C311.8 109.1 312.6 108.3 313.0 108.0"/><path d="M324.3 110.0 C324.9 110.6 326.4 112.3 327.7 113.4 C329.0 114.5 330.7 116.0 332.2 116.7 C333.7 117.5 335.2 117.9 336.7 117.9 C338.2 117.9 340.0 117.1 341.2 116.7 C342.4 116.3 342.6 116.0 344.0 115.6 C345.4 115.2 348.5 114.5 349.4 114.3"/><path d="M45.0 186.7 C46.0 186.8 49.0 186.8 50.7 187.3 C52.4 187.8 53.7 188.7 55.2 189.6 C56.7 190.5 58.3 192.5 59.7 192.9 C61.1 193.3 62.2 192.1 63.7 191.8 C65.2 191.5 67.1 191.0 68.7 191.0 C70.3 191.0 71.7 191.3 73.2 191.8 C74.7 192.3 76.2 193.1 77.7 194.0 C79.2 194.9 80.7 196.4 82.2 197.4 C83.7 198.4 85.2 199.5 86.7 200.0 C88.2 200.5 90.0 200.5 91.2 200.6 C92.4 200.7 92.8 200.5 94.0 200.8 C95.2 201.1 96.9 201.9 98.5 202.5 C100.1 203.1 101.9 204.2 103.6 204.2 C105.3 204.2 106.8 203.4 108.6 202.5 C110.4 201.6 112.3 199.8 114.2 198.5 C116.1 197.2 118.0 195.6 119.8 194.6 C121.6 193.6 122.9 193.0 124.8 192.7 C126.7 192.3 129.3 192.4 131.0 192.5 C132.7 192.6 133.5 192.7 135.0 193.4 C136.5 194.1 138.2 195.3 139.9 196.9 C141.6 198.5 143.2 200.7 144.9 202.8 C146.6 205.0 148.3 207.5 149.8 209.8 C151.3 212.1 152.6 215.0 153.8 216.7 C155.0 218.4 155.8 219.5 156.8 220.2 C157.8 220.9 158.7 220.9 159.8 220.7 C161.0 220.5 162.4 219.9 163.7 219.2 C165.0 218.5 166.4 217.6 167.7 216.7 C169.0 215.8 170.5 214.3 171.7 213.7 C172.9 213.1 173.6 212.9 175.0 213.1 C176.4 213.3 178.6 214.1 180.4 214.8 C182.2 215.5 184.5 216.3 186.1 217.1 C187.7 217.8 189.3 218.9 190.0 219.3"/><path d="M45.0 190.1 C46.0 190.2 49.0 190.3 50.7 190.7 C52.4 191.1 53.7 191.8 55.2 192.4 C56.7 193.0 58.3 193.4 59.7 194.0 C61.1 194.6 62.4 194.7 63.7 195.7 C65.0 196.7 66.4 198.3 67.6 200.2 C68.8 202.1 69.9 204.6 71.0 207.0 C72.1 209.4 73.4 212.6 74.3 214.8 C75.2 217.0 75.8 218.1 76.6 220.0 C77.4 221.9 78.6 225.0 79.0 226.0"/><path d="M45.0 192.4 C45.8 192.4 48.3 192.2 49.6 192.4 C50.9 192.6 51.7 193.2 53.0 193.5 C54.3 193.8 56.1 194.2 57.5 194.4 C58.9 194.6 60.5 194.4 61.1 194.4"/><path d="M45.0 194.0 C46.0 194.0 49.0 194.0 50.7 194.0 C52.4 194.0 53.5 194.0 55.2 194.0 C56.9 194.0 60.0 194.2 61.0 194.2"/><path d="M45.0 200.2 C45.6 200.6 47.4 201.5 48.5 202.5 C49.6 203.5 50.6 205.1 51.9 206.4 C53.2 207.7 54.9 209.4 56.4 210.3 C57.9 211.2 59.4 211.2 60.9 212.0 C62.4 212.8 63.8 213.5 65.3 214.8 C66.8 216.1 68.5 218.3 69.8 220.0 C71.1 221.7 72.5 224.2 73.0 225.0"/><path d="M45.0 214.3 C45.8 214.1 48.1 213.5 49.6 213.1 C51.1 212.7 52.8 212.3 54.1 212.0 C55.4 211.7 56.4 211.2 57.5 211.2 C58.6 211.2 60.4 211.9 61.0 212.0"/><path d="M140.0 242.0 C140.9 241.5 143.7 240.0 145.6 239.2 C147.5 238.3 149.5 237.3 151.2 236.9 C152.9 236.5 154.2 236.7 155.7 236.9 C157.2 237.1 158.7 237.6 160.2 238.0 C161.7 238.4 163.2 238.7 164.7 239.2 C166.2 239.7 167.7 240.7 169.2 240.8 C170.7 240.9 172.4 240.1 173.7 239.7 C175.0 239.3 175.8 238.7 177.1 238.6 C178.4 238.5 180.1 238.9 181.6 239.2 C183.1 239.5 184.7 239.8 186.1 240.3 C187.5 240.8 189.3 241.7 190.0 242.0"/><path d="M136.0 246.0 C136.7 246.3 138.6 247.2 140.0 247.6 C141.4 248.0 143.0 248.3 144.5 248.7 C146.0 249.1 147.7 249.1 149.0 249.8 C150.3 250.6 151.7 252.3 152.4 253.2 C153.2 254.1 153.1 254.2 153.5 255.0 C153.9 255.8 154.8 257.5 155.0 258.0"/><path d="M138.0 255.0 C138.3 254.5 138.9 253.6 140.0 252.0 C141.1 250.4 143.0 247.4 144.5 245.3 C146.0 243.2 147.9 241.1 149.0 239.7 C150.1 238.3 150.5 237.5 151.2 236.9 C151.9 236.3 152.7 236.2 153.0 236.0"/><path d="M179.3 215.0 C180.2 215.4 183.2 216.4 185.0 217.2 C186.8 217.9 189.2 219.1 190.0 219.5"/><path d="M188.0 212.3 C188.3 212.2 189.2 211.1 190.0 212.0 C190.8 212.9 191.8 215.8 193.0 217.7 C194.2 219.6 195.8 222.3 197.4 223.4 C199.0 224.5 201.1 224.5 202.7 224.0 C204.3 223.5 205.4 221.8 206.9 220.2 C208.4 218.6 210.1 216.0 211.9 214.5 C213.7 213.0 215.7 212.3 217.6 211.4 C219.5 210.5 221.2 209.9 223.2 208.9 C225.2 207.9 227.4 206.3 229.5 205.7 C231.6 205.1 233.4 205.1 235.8 205.1 C238.2 205.1 242.6 205.6 244.0 205.7"/><path d="M188.0 218.5 C188.3 218.6 189.2 218.8 190.0 219.3 C190.8 219.8 191.8 220.6 193.0 221.5 C194.2 222.4 195.9 223.5 197.4 224.6 C198.9 225.7 200.0 227.0 201.8 227.8 C203.6 228.6 206.2 229.5 208.1 229.6 C210.0 229.7 211.6 228.7 213.2 228.4 C214.8 228.1 215.9 228.2 217.6 227.8 C219.3 227.4 221.2 227.0 223.2 225.9 C225.2 224.8 227.4 222.8 229.5 221.5 C231.6 220.2 233.9 218.7 235.8 218.3 C237.7 217.9 239.5 218.6 240.9 218.9 C242.3 219.2 243.5 220.0 244.0 220.2"/><path d="M188.0 241.2 C188.3 241.3 189.2 241.9 190.0 242.0 C190.8 242.1 191.8 241.3 193.0 241.5 C194.2 241.7 195.8 242.4 197.4 242.9 C199.0 243.4 200.9 243.8 202.7 244.7 C204.5 245.6 206.3 247.4 208.1 248.5 C209.8 249.6 211.3 250.4 213.2 251.0 C215.1 251.6 217.4 252.0 219.5 252.3 C221.6 252.6 223.9 253.4 225.8 252.9 C227.7 252.4 229.1 250.8 230.8 249.1 C232.5 247.4 234.1 244.7 235.8 242.9 C237.5 241.1 239.5 239.3 240.9 238.5 C242.3 237.7 243.5 237.9 244.0 237.8"/><path d="M188.0 239.5 C188.3 239.4 189.2 238.7 190.0 239.2 C190.8 239.7 191.8 241.8 193.0 242.3 C194.2 242.8 195.8 242.5 197.4 242.2 C199.0 241.9 200.9 240.8 202.7 240.3 C204.5 239.8 205.6 239.5 208.1 239.1 C210.6 238.7 215.1 238.3 217.6 237.8 C220.1 237.3 221.2 236.5 223.2 235.9 C225.2 235.3 227.4 234.3 229.5 234.0 C231.6 233.7 233.9 234.2 235.8 234.0 C237.7 233.8 239.5 233.4 240.9 232.8 C242.3 232.2 243.5 230.7 244.0 230.3"/><path d="M61.0 212.2 C61.6 212.4 63.5 212.7 64.8 213.4 C66.1 214.2 67.5 215.2 68.7 216.7 C69.9 218.2 71.0 220.5 72.1 222.4 C73.2 224.3 74.6 226.3 75.5 228.0 C76.4 229.7 77.0 230.8 77.7 232.5 C78.5 234.2 79.4 237.0 80.0 238.1 C80.6 239.2 80.4 239.3 81.1 239.2 C81.8 239.1 83.1 237.8 84.4 237.5 C85.7 237.2 87.3 237.3 88.9 237.5 C90.5 237.7 92.4 238.7 94.0 238.7 C95.6 238.7 96.9 237.9 98.5 237.5 C100.1 237.1 102.3 236.2 103.6 236.1 C104.9 236.0 105.6 237.1 106.4 237.0 C107.2 236.9 107.8 235.6 108.6 235.3 C109.3 235.0 110.0 235.1 110.9 235.3 C111.8 235.5 113.3 236.1 114.2 236.4 C115.1 236.7 115.6 237.0 116.5 237.0 C117.4 237.0 118.7 236.0 119.8 236.4 C120.9 236.8 122.1 238.0 123.2 239.2 C124.3 240.4 125.4 242.5 126.6 243.7 C127.8 244.9 129.2 246.1 130.5 246.5 C131.8 246.9 133.0 246.5 134.4 246.0 C135.8 245.5 137.4 244.6 139.0 243.7 C140.6 242.8 143.2 240.9 144.0 240.3"/><path d="M76.6 219.0 C77.2 219.9 78.9 222.9 80.0 224.6 C81.1 226.3 82.2 228.1 83.3 229.1 C84.4 230.1 85.4 230.7 86.7 230.8 C88.0 230.9 90.0 230.3 91.2 229.7 C92.4 229.1 92.8 228.2 94.0 227.4 C95.2 226.6 96.9 225.3 98.5 224.6 C100.1 223.9 102.8 223.5 103.6 223.3"/><path d="M103.6 236.1 C104.1 235.8 105.4 234.4 106.4 234.0 C107.4 233.6 108.6 233.6 109.7 233.6 C110.8 233.6 112.0 234.0 113.1 234.2 C114.2 234.3 115.9 234.4 116.5 234.5"/><path d="M45.0 246.0 C45.8 245.8 47.9 245.2 49.6 244.8 C51.3 244.4 53.2 243.8 55.2 243.7 C57.2 243.6 59.5 243.9 61.4 244.3 C63.3 244.7 64.7 245.3 66.5 246.0 C68.3 246.7 70.5 248.3 72.1 248.2 C73.7 248.1 74.8 246.1 76.2 245.2 C77.6 244.2 79.0 242.2 80.2 242.5 C81.4 242.8 82.2 245.8 83.6 247.2 C84.9 248.5 86.6 250.1 88.3 250.6 C90.0 251.1 91.7 250.2 93.7 249.9 C95.7 249.6 98.6 248.9 100.4 248.6 C102.2 248.3 103.4 248.6 104.5 247.9 C105.6 247.2 106.4 245.2 107.2 244.5 C108.0 243.8 108.8 243.2 109.5 243.5 C110.2 243.8 110.8 245.2 111.5 246.5 C112.2 247.8 113.1 249.7 114.0 251.0 C114.9 252.3 116.0 253.4 117.0 254.5 C118.0 255.6 119.5 256.9 120.0 257.4"/><path d="M45.0 247.2 C45.8 247.0 48.3 246.2 50.0 245.8 C51.7 245.4 53.3 244.8 55.2 244.6 C57.1 244.4 60.4 244.8 61.4 244.8"/><path d="M104.5 248.2 C105.0 248.8 106.5 251.0 107.5 251.5 C108.5 252.0 109.6 251.5 110.5 251.0 C111.4 250.5 112.1 249.3 113.0 248.5 C113.9 247.7 114.8 246.6 116.0 246.0 C117.2 245.4 119.3 245.2 120.0 245.0"/><path d="M118.7 244.8 C119.6 245.0 122.3 245.7 124.3 246.0 C126.3 246.3 128.8 246.8 130.5 246.8 C132.2 246.8 133.0 246.4 134.4 246.2 C135.8 246.0 137.4 245.8 139.0 245.4 C140.6 245.0 143.2 244.0 144.0 243.7"/><path d="M240.0 210.0 C240.7 209.2 242.2 207.5 244.0 205.2 C245.8 202.9 248.4 199.0 250.7 196.2 C252.9 193.4 255.4 190.0 257.5 188.3 C259.6 186.6 261.2 186.1 263.1 186.1 C265.0 186.1 266.6 187.0 268.7 188.3 C270.8 189.6 273.2 192.6 275.5 193.9 C277.8 195.2 280.2 195.2 282.2 196.2 C284.2 197.1 285.5 199.4 287.4 199.6 C289.3 199.8 291.6 198.1 293.4 197.3 C295.1 196.6 296.4 195.1 297.9 195.1 C299.4 195.1 300.9 196.0 302.4 197.3 C303.9 198.6 305.6 200.8 306.9 202.9 C308.2 205.0 309.4 208.2 310.3 210.1 C311.2 211.9 311.7 213.3 312.0 214.0"/><path d="M244.0 205.2 C244.8 205.8 247.0 207.7 248.5 208.5 C250.0 209.3 251.8 209.5 253.0 210.1 C254.2 210.7 255.5 211.7 256.0 212.0"/><path d="M254.0 212.0 C254.6 211.7 255.8 211.0 257.5 210.1 C259.2 209.2 261.6 208.0 264.2 206.3 C266.8 204.7 270.6 201.1 273.2 200.2 C275.8 199.3 277.6 201.2 280.0 201.1 C282.4 201.0 285.2 199.3 287.4 199.6 C289.6 199.9 291.3 201.6 293.4 202.9 C295.5 204.2 298.5 206.2 300.2 207.4 C301.9 208.6 302.6 209.2 303.6 210.1 C304.6 211.0 305.6 212.5 306.0 213.0"/><path d="M322.0 214.0 C322.5 213.3 323.7 211.6 324.9 210.1 C326.1 208.6 327.5 206.6 329.4 205.2 C331.3 203.8 333.7 202.2 336.1 201.8 C338.5 201.4 341.2 202.5 344.0 202.9 C346.8 203.3 350.0 203.6 353.0 204.0 C356.0 204.4 359.0 204.6 362.0 205.2 C365.0 205.8 368.8 206.6 371.0 207.4 C373.2 208.2 374.3 209.2 375.5 210.1 C376.7 211.0 377.6 212.5 378.0 213.0"/><path d="M327.0 213.0 C327.4 212.5 327.9 211.0 329.4 210.1 C330.9 209.2 333.7 208.2 336.1 207.4 C338.5 206.6 342.7 205.6 344.0 205.2"/><path d="M381.0 213.0 C381.6 212.5 382.7 210.8 384.4 210.1 C386.1 209.3 388.9 208.8 391.2 208.5 C393.4 208.2 395.6 208.2 397.9 208.5 C400.1 208.8 403.2 209.5 404.7 210.1 C406.2 210.7 406.6 211.7 407.0 212.0"/><path d="M408.0 215.0 C408.6 214.2 409.7 212.5 411.4 210.1 C413.1 207.7 415.9 203.2 418.2 200.7 C420.4 198.2 422.3 196.5 424.9 195.1 C427.5 193.7 431.2 192.3 433.9 192.1 C436.6 191.9 439.8 193.6 441.0 193.9"/><path d="M423.8 217.4 C424.4 216.2 425.8 212.3 427.1 210.1 C428.4 207.9 430.1 205.9 431.6 204.0 C433.1 202.1 434.5 199.9 436.1 198.4 C437.7 196.9 440.2 195.6 441.0 195.0"/><path d="M240.0 223.0 C240.9 222.6 243.7 221.8 245.3 220.7 C246.9 219.6 248.1 217.6 249.6 216.2 C251.1 214.8 252.6 212.8 254.1 212.3 C255.6 211.8 256.9 213.0 258.6 213.4 C260.3 213.8 262.3 213.9 264.2 214.6 C266.1 215.3 268.1 216.4 269.8 217.4 C271.5 218.4 272.8 219.4 274.3 220.7 C275.8 222.0 277.5 223.9 278.8 225.2 C280.1 226.5 281.1 227.8 282.2 228.6 C283.3 229.4 284.5 230.0 285.6 230.3 C286.7 230.6 287.5 230.4 288.9 230.6 C290.3 230.8 292.2 231.2 294.0 231.4 C295.8 231.6 297.5 231.5 299.6 232.0 C301.7 232.5 304.3 234.2 306.4 234.2 C308.5 234.2 310.2 232.9 312.0 232.0 C313.8 231.1 315.1 229.1 317.0 228.6 C318.9 228.1 321.4 229.4 323.2 229.2 C325.0 229.0 326.0 228.2 327.7 227.5 C329.4 226.8 331.4 225.9 333.3 225.2 C335.2 224.5 337.2 223.9 339.0 223.5 C340.8 223.1 343.2 223.1 344.0 223.0"/><path d="M240.0 222.0 C240.9 221.8 243.5 221.2 245.3 220.7 C247.1 220.2 249.0 219.5 250.7 219.0 C252.3 218.5 253.7 218.0 255.2 217.9 C256.7 217.8 258.4 218.0 259.7 218.5 C261.0 219.0 262.0 219.9 263.1 220.7 C264.2 221.4 265.2 222.2 266.5 223.0 C267.8 223.8 269.7 224.4 271.0 225.2 C272.3 225.9 273.2 226.7 274.3 227.5 C275.4 228.3 276.6 229.6 277.7 230.3 C278.8 231.1 280.0 231.9 281.1 232.0 C282.2 232.1 283.3 231.1 284.4 230.8 C285.5 230.5 286.7 230.3 287.8 230.3 C288.9 230.3 290.0 230.7 291.0 231.0 C292.0 231.3 292.4 231.7 294.0 232.0 C295.6 232.3 298.6 232.8 300.7 233.1 C302.8 233.4 304.5 234.3 306.4 234.0 C308.3 233.7 310.2 232.4 312.0 231.4 C313.8 230.4 315.5 228.4 317.0 228.0 C318.5 227.6 319.6 228.6 321.0 229.2 C322.4 229.8 324.0 231.3 325.5 231.4 C327.0 231.5 328.3 230.4 330.0 229.7 C331.7 228.9 333.7 227.7 335.6 226.9 C337.5 226.1 339.8 225.2 341.2 224.7 C342.6 224.2 343.5 224.2 344.0 224.1"/><path d="M240.0 229.0 C240.9 229.2 243.7 229.8 245.3 230.3 C246.9 230.8 248.1 231.6 249.6 232.0 C251.1 232.4 252.4 232.6 254.1 232.5 C255.8 232.4 258.0 231.8 259.7 231.4 C261.4 231.0 262.9 230.4 264.2 230.3 C265.5 230.2 266.5 230.2 267.6 230.8 C268.7 231.4 269.9 232.8 271.0 233.7 C272.1 234.6 273.2 235.8 274.3 236.5 C275.4 237.2 276.4 237.5 277.7 237.6 C279.0 237.7 280.9 236.8 282.2 237.0 C283.5 237.2 284.7 238.4 285.6 238.7 C286.5 239.0 286.9 239.3 287.8 238.7 C288.7 238.1 290.2 236.2 291.2 235.3 C292.2 234.4 293.5 233.5 294.0 233.1"/><path d="M245.3 230.3 C246.0 230.7 247.9 231.8 249.6 232.5 C251.2 233.2 253.3 234.1 255.2 234.8 C257.1 235.6 259.0 236.3 260.9 237.0 C262.8 237.7 264.6 238.2 266.5 238.7 C268.4 239.2 270.4 239.4 272.1 239.8 C273.8 240.2 274.9 241.2 276.6 241.0 C278.3 240.8 280.3 239.1 282.2 238.7 C284.1 238.3 286.3 238.1 287.8 238.7 C289.3 239.3 290.2 241.0 291.2 242.1 C292.2 243.2 293.0 244.0 294.0 245.0 C295.0 246.0 296.5 247.5 297.0 248.0"/><path d="M240.0 238.5 C240.9 238.4 243.7 238.2 245.3 238.1 C246.9 237.9 247.9 237.4 249.6 237.6 C251.2 237.8 253.3 238.7 255.2 239.3 C257.1 240.0 259.0 240.8 260.9 241.5 C262.8 242.2 264.6 242.9 266.5 243.2 C268.4 243.5 270.2 243.5 272.1 243.2 C274.0 242.9 276.0 242.1 277.7 241.5 C279.4 240.9 280.5 240.3 282.2 239.8 C283.9 239.3 286.3 238.6 287.8 238.7 C289.3 238.8 290.0 239.8 291.0 240.5 C292.0 241.2 292.8 243.3 294.0 243.2 C295.2 243.1 297.0 240.7 298.5 239.8 C300.0 238.9 301.5 238.2 303.0 237.6 C304.5 236.9 306.0 235.7 307.5 235.9 C309.0 236.1 310.4 237.9 312.0 238.7 C313.6 239.4 315.3 240.4 317.0 240.4 C318.7 240.4 320.3 239.2 322.1 238.7 C323.9 238.2 325.8 237.5 327.7 237.6 C329.6 237.7 331.4 239.2 333.3 239.3 C335.2 239.4 337.2 238.5 339.0 238.1 C340.8 237.7 343.2 237.2 344.0 237.0"/><path d="M245.3 238.1 C246.0 238.3 247.9 238.8 249.6 239.3 C251.2 239.8 253.5 240.2 255.2 241.0 C256.9 241.8 258.6 243.1 259.7 243.8 C260.8 244.5 261.1 244.3 262.0 245.0 C262.9 245.7 264.5 247.5 265.0 248.0"/><path d="M299.6 209.5 C300.5 210.2 303.5 212.5 305.2 214.0 C306.9 215.5 308.2 216.8 309.7 218.5 C311.2 220.2 313.0 222.9 314.2 224.1 C315.4 225.3 315.9 226.7 317.0 225.5 C318.1 224.3 319.2 219.7 320.6 216.9 C322.0 214.2 323.6 211.2 325.1 209.0 C326.6 206.8 328.1 204.7 329.6 203.4 C331.1 202.1 332.4 201.5 334.1 201.3 C335.8 201.1 337.6 201.8 339.7 202.2 C341.8 202.6 344.2 203.5 346.5 203.9 C348.8 204.3 351.0 204.3 353.2 204.5 C355.4 204.7 357.9 204.9 359.9 205.1 C361.9 205.3 364.1 205.5 365.0 205.6"/><path d="M310.3 210.1 C310.8 211.5 312.2 216.1 313.1 218.5 C314.0 220.9 315.2 223.4 315.9 224.7 C316.5 225.9 316.5 226.4 317.0 226.0 C317.5 225.6 318.2 223.5 319.0 222.0 C319.8 220.5 320.5 218.7 321.7 216.9 C322.9 215.1 324.5 212.7 326.2 211.2 C327.9 209.7 330.0 208.7 331.9 207.9 C333.8 207.1 335.6 206.7 337.5 206.2 C339.4 205.7 341.6 205.4 343.1 205.1 C344.6 204.8 345.4 204.4 346.5 204.3 C347.6 204.2 349.4 204.5 350.0 204.5"/><path d="M305.0 250.0 C305.8 249.4 308.0 247.4 310.0 246.5 C312.0 245.6 315.0 245.3 317.0 244.3 C319.0 243.3 320.4 241.8 322.0 240.5 C323.6 239.2 325.1 237.3 326.6 236.4 C328.1 235.5 329.4 234.8 331.1 234.8 C332.8 234.8 334.6 235.9 336.7 236.4 C338.8 236.9 342.8 237.4 344.0 237.6"/><path d="M317.0 244.3 C317.7 244.7 319.8 245.9 321.0 246.8 C322.2 247.8 323.5 249.5 324.0 250.0"/><path d="M245.0 239.5 C245.9 239.6 248.6 239.6 250.7 240.0 C252.8 240.4 254.9 241.4 257.5 242.2 C260.1 242.9 263.5 244.1 266.5 244.5 C269.5 244.9 273.1 244.1 275.5 244.5 C277.9 244.9 279.4 245.8 281.1 246.7 C282.8 247.6 284.5 249.4 285.6 250.1 C286.7 250.8 286.9 250.7 287.8 250.7 C288.7 250.7 290.2 250.4 291.2 250.1 C292.2 249.8 292.6 249.5 294.0 249.0 C295.4 248.5 297.7 247.3 299.6 247.3 C301.5 247.3 303.3 248.3 305.2 249.0 C307.1 249.7 309.4 251.0 310.9 251.2 C312.4 251.4 313.2 250.9 314.2 250.1 C315.2 249.3 316.1 246.2 317.0 246.2 C317.9 246.2 318.6 249.2 319.8 250.1 C321.0 251.0 322.6 251.8 324.3 251.8 C326.0 251.8 328.1 250.7 330.0 250.1 C331.9 249.5 333.7 248.8 335.6 248.4 C337.5 248.0 339.8 248.0 341.2 247.9 C342.6 247.8 343.5 247.9 344.0 247.9"/><path d="M252.0 238.0 C252.5 238.3 253.7 239.1 255.2 240.0 C256.7 240.9 259.0 242.1 260.9 243.4 C262.8 244.7 264.6 246.4 266.5 247.9 C268.4 249.4 270.4 251.4 272.1 252.4 C273.8 253.4 274.9 253.4 276.6 254.0 C278.3 254.6 280.3 254.9 282.2 255.7 C284.1 256.4 286.3 257.6 287.8 258.5 C289.3 259.4 290.2 260.3 291.2 261.3 C292.2 262.3 292.6 264.0 294.0 264.7 C295.4 265.4 297.7 265.5 299.6 265.3 C301.5 265.1 303.3 264.4 305.2 263.6 C307.1 262.9 308.9 261.1 310.9 260.8 C312.9 260.5 314.9 262.1 317.0 261.9 C319.1 261.7 321.4 260.0 323.2 259.7 C325.0 259.4 326.2 259.7 327.7 260.2 C329.2 260.7 330.7 261.8 332.2 262.5 C333.7 263.2 335.2 263.4 336.7 264.2 C338.2 264.9 340.0 266.4 341.2 267.0 C342.4 267.6 343.5 267.4 344.0 267.5"/><path d="M240.0 263.6 C240.7 263.6 242.6 263.6 244.0 263.6 C245.4 263.6 247.0 264.4 248.5 263.6 C250.0 262.9 251.3 260.6 253.0 259.1 C254.7 257.6 257.1 255.4 258.6 254.6 C260.1 253.8 260.7 253.7 262.0 254.0 C263.3 254.3 265.2 256.0 266.5 256.3 C267.8 256.6 268.7 256.6 269.8 255.7 C270.9 254.8 272.1 252.4 273.2 251.2 C274.3 250.0 275.3 248.8 276.6 248.4 C277.9 248.0 279.6 248.7 281.1 249.0 C282.6 249.3 284.5 249.8 285.6 250.1 C286.7 250.4 287.4 250.6 287.8 250.7"/><path d="M244.0 263.6 C244.9 263.6 247.7 263.6 249.6 263.6 C251.5 263.6 253.3 263.7 255.2 263.6 C257.1 263.5 259.0 263.4 260.9 263.0 C262.8 262.6 264.6 261.7 266.5 261.3 C268.4 260.9 270.2 260.6 272.1 260.4 C274.0 260.2 275.8 260.1 277.7 260.0 C279.6 259.9 281.6 259.9 283.3 259.7 C285.0 259.4 286.5 259.0 287.8 258.5 C289.1 258.0 290.2 257.4 291.2 256.9 C292.2 256.3 293.0 255.0 294.0 255.2 C295.0 255.4 296.3 257.0 297.4 258.0 C298.5 259.0 299.6 260.3 300.7 261.3 C301.8 262.3 302.6 264.0 304.1 264.2 C305.6 264.4 308.2 263.0 309.7 262.5 C311.2 262.0 311.9 261.3 313.1 261.3 C314.3 261.3 315.5 261.9 317.0 262.5 C318.5 263.1 320.5 263.9 322.1 264.7 C323.7 265.4 325.1 267.2 326.6 267.0 C328.1 266.8 329.6 264.3 331.1 263.6 C332.6 262.9 333.9 262.6 335.6 263.0 C337.3 263.4 339.8 264.9 341.2 265.8 C342.6 266.7 343.5 267.7 344.0 268.1"/><path d="M240.0 272.0 C240.7 271.5 242.6 270.2 244.0 269.2 C245.4 268.2 247.0 266.2 248.5 265.8 C250.0 265.4 251.1 266.5 253.0 267.0 C254.9 267.5 257.4 268.1 259.7 268.7 C261.9 269.2 264.4 269.5 266.5 270.3 C268.6 271.1 270.2 272.6 272.1 273.7 C274.0 274.8 276.0 276.1 277.7 277.1 C279.4 278.2 281.0 279.2 282.2 280.0 C283.4 280.8 284.5 281.7 285.0 282.0"/><path d="M240.0 266.0 C240.7 266.4 242.4 267.4 244.0 268.7 C245.6 270.0 247.7 272.5 249.6 273.7 C251.5 274.9 253.3 275.2 255.2 276.0 C257.1 276.8 259.4 277.5 260.9 278.2 C262.4 278.9 263.2 279.4 264.2 280.0 C265.2 280.6 266.5 281.7 267.0 282.0"/><path d="M280.0 282.0 C280.4 281.7 281.1 280.7 282.2 280.0 C283.3 279.3 285.2 278.1 286.7 277.6 C288.2 277.1 290.0 277.2 291.2 277.1 C292.4 277.0 292.6 277.3 294.0 277.1 C295.4 276.9 297.7 276.9 299.6 276.0 C301.5 275.1 303.3 273.5 305.2 272.0 C307.1 270.5 308.9 268.6 310.9 267.0 C312.9 265.4 315.1 262.5 317.0 262.5 C318.9 262.5 320.5 265.3 322.1 267.0 C323.7 268.7 325.1 270.9 326.6 272.6 C328.1 274.3 329.8 275.9 331.1 277.1 C332.4 278.3 332.9 279.1 334.4 280.0 C335.9 280.9 338.4 281.7 340.0 282.3 C341.6 282.9 343.3 283.3 344.0 283.5"/><path d="M300.0 284.0 C300.5 283.3 301.6 281.7 303.0 280.0 C304.4 278.3 306.9 275.9 308.6 273.7 C310.3 271.5 311.7 268.8 313.1 267.0 C314.5 265.2 315.7 262.8 317.0 263.0 C318.3 263.2 319.6 266.1 321.0 268.1 C322.4 270.1 324.0 272.9 325.5 274.8 C327.0 276.7 328.4 278.1 330.0 279.3 C331.6 280.5 333.3 281.4 335.0 282.0 C336.7 282.6 339.2 282.8 340.0 283.0"/><path d="M294.0 247.9 C295.1 247.5 298.4 246.1 300.7 245.6 C302.9 245.1 305.4 245.4 307.5 245.1 C309.6 244.8 311.5 244.4 313.1 243.9 C314.7 243.4 315.7 242.7 317.0 242.2 C318.3 241.7 319.4 241.4 321.0 241.1 C322.6 240.8 324.6 240.8 326.6 240.6 C328.7 240.4 331.2 240.5 333.3 240.2 C335.4 239.9 337.2 239.4 339.0 239.0 C340.8 238.6 342.2 238.2 344.0 237.8 C345.8 237.4 348.8 236.7 349.8 236.5"/><path d="M317.0 245.1 C317.9 245.5 320.3 246.6 322.1 247.3 C323.9 248.1 326.0 248.8 327.7 249.6 C329.4 250.4 330.9 251.8 332.2 252.4 C333.5 253.1 334.1 253.6 335.6 253.5 C337.1 253.4 339.8 252.3 341.2 251.8 C342.6 251.3 343.5 250.9 344.0 250.7"/><path d="M140.0 250.6 C140.6 250.3 142.1 249.2 143.4 248.9 C144.7 248.6 146.6 248.4 147.9 248.9 C149.2 249.4 150.1 250.1 151.2 251.7 C152.3 253.3 153.6 256.5 154.6 258.5 C155.6 260.5 156.5 262.5 157.4 263.5 C158.3 264.5 159.0 265.0 160.2 264.7 C161.4 264.4 163.2 262.9 164.7 261.9 C166.2 260.9 167.5 259.1 169.2 258.5 C170.9 257.9 173.3 257.9 175.0 258.5 C176.7 259.1 177.7 260.9 179.3 261.9 C181.0 262.9 183.5 264.2 184.9 264.7 C186.3 265.2 186.4 265.4 188.0 265.1 C189.6 264.9 191.9 263.5 194.3 263.2 C196.8 262.9 200.4 262.7 202.7 263.2 C205.0 263.7 206.3 265.5 208.1 266.4 C209.8 267.2 211.6 267.9 213.2 268.3 C214.8 268.7 215.9 268.7 217.6 268.9 C219.3 269.1 221.2 269.2 223.2 269.5 C225.2 269.8 227.4 270.4 229.5 270.8 C231.6 271.2 233.9 272.2 235.8 272.1 C237.7 272.0 239.5 270.7 240.9 270.2 C242.3 269.7 243.5 269.1 244.0 268.9"/><path d="M136.0 267.0 C136.7 267.4 138.4 268.5 140.0 269.2 C141.6 269.9 143.7 270.9 145.6 271.4 C147.5 271.9 149.3 272.1 151.2 272.0 C153.1 271.9 155.4 271.4 156.9 270.8 C158.4 270.2 158.7 269.4 160.2 268.6 C161.7 267.8 163.9 266.9 165.8 265.8 C167.7 264.7 170.0 263.1 171.5 261.9 C173.0 260.7 173.5 259.7 175.0 258.7 C176.5 257.7 178.8 255.9 180.4 255.7 C182.1 255.5 183.6 256.8 184.9 257.4 C186.2 258.0 186.4 258.5 188.0 259.5 C189.6 260.5 191.9 262.6 194.3 263.2 C196.8 263.8 200.4 263.2 202.7 262.9 C205.0 262.5 206.3 261.2 208.1 261.1 C209.8 261.1 211.6 262.0 213.2 262.6 C214.8 263.2 215.9 264.2 217.6 264.5 C219.3 264.8 221.4 264.4 223.2 264.5 C225.0 264.6 226.4 265.5 228.3 265.4 C230.2 265.3 232.5 264.2 234.6 263.9 C236.7 263.6 239.3 263.6 240.9 263.6 C242.5 263.6 243.5 263.8 244.0 263.9"/><path d="M136.0 276.0 C136.7 275.7 138.6 274.8 140.0 274.2 C141.4 273.6 143.0 273.2 144.5 272.5 C146.0 271.8 147.5 270.7 149.0 269.7 C150.5 268.7 152.2 267.2 153.5 266.3 C154.8 265.4 156.0 264.1 156.9 264.1 C157.8 264.1 158.6 265.6 159.1 266.3 C159.6 267.1 160.0 268.2 160.2 268.6"/><path d="M136.0 282.0 C136.7 281.4 138.8 279.6 140.0 278.7 C141.2 277.8 142.3 277.3 143.4 276.5 C144.5 275.7 145.4 274.9 146.7 273.7 C148.0 272.5 149.7 270.5 151.2 269.2 C152.7 267.9 154.6 266.6 155.7 265.8 C156.8 265.1 157.2 264.9 158.0 264.7 C158.8 264.5 159.8 264.7 160.2 264.7"/><path d="M140.0 246.1 C140.4 246.3 141.4 247.2 142.2 247.2 C142.9 247.2 143.8 246.5 144.5 246.1 C145.2 245.7 145.9 245.2 146.2 245.0"/><path d="M45.0 252.2 C46.0 252.7 49.0 254.1 50.7 255.1 C52.4 256.1 53.5 257.3 55.2 258.4 C56.9 259.5 59.2 261.5 60.9 261.8 C62.6 262.1 63.8 261.1 65.3 260.1 C66.8 259.1 68.4 256.7 69.8 255.6 C71.2 254.5 72.5 253.6 73.8 253.4 C75.1 253.2 76.1 254.0 77.7 254.5 C79.3 255.0 81.5 255.5 83.3 256.2 C85.1 256.8 86.6 257.4 88.4 258.4 C90.2 259.4 92.3 261.1 94.0 262.4 C95.7 263.7 96.9 265.2 98.5 266.3 C100.1 267.4 101.9 268.4 103.6 269.2 C105.3 270.0 106.8 271.1 108.6 271.4 C110.4 271.7 112.3 271.1 114.2 270.8 C116.1 270.5 117.9 270.5 119.8 269.7 C121.7 268.9 123.7 266.9 125.5 265.8 C127.3 264.7 128.8 263.1 130.5 263.0 C132.2 262.9 133.8 264.2 135.6 265.2 C137.4 266.2 139.8 268.3 141.2 269.2 C142.6 270.1 143.5 270.5 144.0 270.8"/><path d="M45.0 262.9 C45.8 263.1 47.9 263.8 49.6 264.0 C51.3 264.2 53.3 264.7 55.2 264.4 C57.1 264.1 59.2 262.8 60.9 262.1 C62.6 261.5 63.8 261.5 65.3 260.5 C66.8 259.5 68.4 257.1 69.8 256.0 C71.2 254.9 72.5 254.0 73.8 253.8 C75.1 253.6 76.1 254.5 77.7 255.0 C79.3 255.5 81.5 256.0 83.3 256.6 C85.1 257.2 86.6 257.8 88.4 258.8 C90.2 259.8 93.1 262.0 94.0 262.6"/><path d="M45.0 273.6 C46.0 274.0 49.0 275.1 50.7 275.8 C52.4 276.6 53.5 277.4 55.2 278.1 C56.9 278.8 59.0 279.4 60.9 279.8 C62.8 280.2 64.6 280.1 66.5 280.3 C68.4 280.5 70.6 280.6 72.1 280.9 C73.6 281.2 74.2 281.6 75.5 282.0 C76.8 282.4 78.7 283.5 80.0 283.5 C81.3 283.5 81.9 282.9 83.3 282.0 C84.7 281.1 86.6 278.5 88.4 278.1 C90.2 277.7 92.3 279.1 94.0 279.8 C95.7 280.5 97.2 281.4 98.5 282.1 C99.8 282.9 101.0 283.5 101.9 284.3 C102.8 285.1 103.7 286.6 104.0 287.0"/><path d="M45.0 284.3 C46.0 284.0 49.0 283.2 50.7 282.6 C52.4 282.0 53.5 281.4 55.2 280.9 C56.9 280.4 59.0 279.6 60.9 279.4 C62.8 279.2 64.6 279.7 66.5 279.9 C68.4 280.1 71.2 280.4 72.1 280.5"/><path d="M90.0 248.6 C90.7 248.7 92.6 248.9 94.0 248.9 C95.4 248.9 96.9 248.5 98.5 248.4 C100.1 248.3 102.5 248.0 103.6 248.4 C104.7 248.8 104.5 249.8 105.2 250.6 C105.9 251.3 107.0 252.8 108.0 252.9 C109.0 253.0 110.1 252.1 110.9 251.2 C111.8 250.2 112.5 248.2 113.1 247.2 C113.6 246.2 114.0 245.4 114.2 245.0"/><path d="M103.6 248.4 C103.9 248.0 104.9 246.7 105.5 246.0 C106.1 245.3 106.8 244.3 107.0 244.0"/><path d="M103.6 269.2 C104.1 268.2 105.5 265.2 106.4 263.0 C107.3 260.8 108.4 258.1 109.2 256.2 C110.0 254.3 110.7 252.9 111.4 251.7 C112.1 250.5 112.7 249.0 113.5 249.0 C114.3 249.0 115.1 250.6 116.0 251.5 C116.9 252.4 117.9 253.5 119.0 254.5 C120.1 255.5 121.3 257.1 122.5 257.5 C123.7 257.9 124.7 257.6 126.0 257.0 C127.3 256.4 128.9 254.8 130.5 254.0 C132.1 253.2 133.8 252.9 135.6 252.3 C137.4 251.7 139.8 251.2 141.2 250.6 C142.6 250.0 143.5 249.3 144.0 249.0"/><path d="M104.0 289.0 C104.4 288.3 105.2 286.3 106.4 285.0 C107.6 283.7 109.2 282.1 110.9 281.0 C112.6 279.9 114.6 278.9 116.5 278.1 C118.4 277.4 120.2 277.1 122.1 276.5 C124.0 275.9 126.3 274.8 127.7 274.4 C129.1 274.0 129.2 274.3 130.5 274.4 C131.8 274.5 133.8 274.7 135.6 274.8 C137.4 274.9 139.8 275.1 141.2 275.1 C142.6 275.2 143.5 275.1 144.0 275.1"/><path d="M106.0 289.0 C106.4 288.3 107.4 286.5 108.6 285.0 C109.8 283.5 111.6 281.1 113.1 279.8 C114.6 278.5 116.1 277.2 117.6 277.0 C119.1 276.8 120.6 278.0 122.1 278.7 C123.6 279.4 125.2 280.2 126.6 281.0 C128.0 281.8 129.0 283.0 130.5 283.2 C132.0 283.4 133.8 282.9 135.6 282.1 C137.4 281.4 139.8 279.6 141.2 278.7 C142.6 277.8 143.5 276.9 144.0 276.5"/><path d="M45.0 292.4 C46.3 292.2 50.4 291.6 53.0 291.2 C55.6 290.8 58.3 290.1 60.9 290.1 C63.5 290.1 65.9 290.8 68.7 291.2 C71.5 291.6 74.4 291.8 77.7 292.4 C81.0 293.0 85.6 294.4 88.3 294.6 C91.0 294.8 92.3 294.0 94.0 293.4 C95.7 292.8 96.9 291.9 98.5 291.2 C100.1 290.4 102.1 288.6 103.6 288.9 C105.1 289.2 106.3 291.5 107.5 292.9 C108.7 294.3 109.7 296.1 110.9 297.4 C112.1 298.7 113.5 300.5 114.8 300.7 C116.1 300.9 117.3 299.2 118.7 298.5 C120.1 297.8 121.7 296.9 123.2 296.2 C124.7 295.4 126.5 294.5 127.7 294.0 C128.9 293.5 129.2 293.4 130.5 293.4 C131.8 293.4 133.8 293.6 135.6 293.8 C137.4 294.0 139.8 294.4 141.2 294.6 C142.6 294.8 143.5 295.0 144.0 295.1"/><path d="M45.0 294.6 C46.3 294.2 50.4 293.1 53.0 292.4 C55.6 291.6 59.6 290.5 60.9 290.1"/><path d="M103.6 288.9 C104.1 289.4 105.4 290.5 106.4 291.7 C107.4 292.9 108.3 294.7 109.7 296.2 C111.1 297.7 113.3 300.4 114.8 300.7 C116.3 301.0 117.3 298.5 118.7 297.9 C120.1 297.2 121.7 296.7 123.2 296.8 C124.7 296.9 126.5 298.1 127.7 298.5 C128.9 298.9 129.2 299.2 130.5 299.4 C131.8 299.5 133.8 299.4 135.6 299.4 C137.4 299.4 139.8 299.5 141.2 299.4 C142.6 299.3 143.5 299.1 144.0 299.0"/><path d="M45.0 319.3 C46.3 319.5 50.4 320.0 53.0 320.4 C55.6 320.8 58.3 321.0 60.9 321.6 C63.5 322.2 66.3 323.3 68.7 323.8 C71.1 324.3 73.2 324.7 75.5 324.5 C77.8 324.3 80.1 323.4 82.2 322.7 C84.3 322.0 86.3 321.3 88.3 320.4 C90.3 319.4 92.3 317.9 94.0 317.0 C95.7 316.1 96.9 315.7 98.5 315.3 C100.1 314.9 101.9 315.4 103.6 314.8 C105.3 314.2 107.2 311.9 108.6 312.0 C110.0 312.1 110.7 314.2 112.0 315.3 C113.3 316.4 114.8 317.8 116.5 318.7 C118.2 319.6 120.2 320.4 122.1 321.0 C124.0 321.6 126.3 321.9 127.7 322.1 C129.1 322.3 129.2 322.1 130.5 322.1 C131.8 322.1 133.8 322.0 135.6 322.1 C137.4 322.2 139.8 322.4 141.2 322.6 C142.6 322.8 143.5 323.1 144.0 323.2"/><path d="M45.0 321.6 C46.3 321.4 50.4 320.4 53.0 320.4 C55.6 320.4 59.6 321.4 60.9 321.6"/><path d="M45.0 326.1 C46.3 325.7 50.4 324.6 53.0 323.8 C55.6 323.1 57.9 322.7 60.9 321.6 C63.9 320.5 68.2 318.2 71.0 317.1 C73.8 316.0 74.8 315.2 77.7 314.8 C80.6 314.4 85.6 314.7 88.3 314.8 C91.0 314.9 92.3 315.6 94.0 315.3 C95.7 315.0 96.9 313.8 98.5 313.1 C100.1 312.4 101.9 311.6 103.6 311.1 C105.3 310.6 107.2 311.1 108.6 310.3 C110.0 309.5 111.0 307.8 112.0 306.3 C113.0 304.8 113.5 301.1 114.8 301.3 C116.1 301.5 118.2 305.5 119.8 307.5 C121.4 309.5 123.0 311.6 124.3 313.1 C125.6 314.6 126.7 315.8 127.7 316.5 C128.7 317.2 129.2 317.8 130.5 317.6 C131.8 317.4 133.8 316.4 135.6 315.3 C137.4 314.2 139.8 311.9 141.2 310.8 C142.6 309.7 143.5 309.0 144.0 308.6"/><path d="M98.5 316.0 C99.3 316.0 102.3 315.4 103.6 315.9 C104.9 316.3 105.2 317.7 106.4 318.7 C107.6 319.7 109.4 321.2 110.9 322.1 C112.4 323.0 114.0 323.8 115.3 324.3 C116.6 324.8 117.4 324.7 118.7 325.0 C120.0 325.3 121.0 325.7 123.0 326.0 C125.0 326.3 128.2 326.6 130.5 327.0 C132.8 327.4 134.8 328.0 137.0 328.5 C139.2 329.0 142.8 329.8 144.0 330.0"/><path d="M72.0 354.0 C72.6 353.4 73.8 352.1 75.5 350.1 C77.2 348.1 80.0 343.6 82.2 341.8 C84.4 340.1 85.3 340.0 88.9 339.6 C92.5 339.2 100.2 338.9 103.6 339.6 C107.0 340.3 107.5 342.5 109.2 344.0 C110.9 345.5 112.6 347.3 113.7 348.5 C114.8 349.7 115.1 350.1 116.0 351.0 C116.9 351.9 118.5 353.5 119.0 354.0"/><path d="M45.0 347.4 C45.8 347.6 48.2 348.1 49.5 348.5 C50.8 348.9 51.9 349.5 53.0 350.1 C54.1 350.7 55.5 351.7 56.0 352.0"/><path d="M144.0 295.1 C144.8 295.7 147.4 297.5 149.0 298.5 C150.6 299.5 151.7 300.3 153.5 301.3 C155.3 302.3 157.6 304.1 159.7 304.7 C161.8 305.3 164.0 305.0 165.8 305.0 C167.6 305.0 168.8 305.0 170.3 304.7 C171.8 304.4 173.5 302.9 175.0 303.2 C176.5 303.5 177.7 305.4 179.3 306.3 C180.9 307.2 182.1 307.8 184.4 308.8 C186.8 309.9 190.3 311.7 193.4 312.6 C196.5 313.5 198.9 313.9 202.9 314.2 C206.9 314.5 214.0 314.3 217.7 314.2 C221.4 314.1 222.2 314.5 224.9 313.7 C227.6 312.9 230.7 311.1 233.9 309.2 C237.1 307.3 242.3 303.6 244.0 302.5"/><path d="M144.0 299.0 C144.8 298.9 147.2 298.9 149.0 298.3 C150.8 297.7 152.8 295.8 154.6 295.1 C156.4 294.4 158.2 294.0 159.7 294.0 C161.2 294.0 162.2 294.4 163.6 295.1 C165.0 295.9 166.6 297.4 168.1 298.5 C169.6 299.6 171.4 301.1 172.6 301.9 C173.8 302.7 173.9 303.4 175.0 303.2 C176.1 303.0 177.7 301.5 179.3 300.7 C180.9 299.9 182.1 299.4 184.4 298.6 C186.8 297.8 190.3 296.6 193.4 295.7 C196.5 294.8 199.9 293.6 202.9 293.0 C205.9 292.4 208.9 292.6 211.4 292.4 C213.9 292.2 214.7 292.3 217.7 291.7 C220.7 291.1 225.9 289.1 229.4 289.0 C232.9 288.9 236.0 290.4 238.4 291.2 C240.8 291.9 243.1 293.1 244.0 293.5"/><path d="M144.0 308.6 C144.8 307.7 147.4 304.7 149.0 303.0 C150.6 301.3 152.0 299.9 153.5 298.5 C155.0 297.1 157.0 295.4 158.0 294.6 C159.0 293.9 158.8 293.9 159.7 294.0 C160.6 294.1 162.2 294.6 163.6 295.4 C165.0 296.2 167.3 298.2 168.1 298.8"/><path d="M135.6 322.0 C136.3 321.4 138.3 320.0 140.0 318.7 C141.7 317.4 143.7 315.6 145.6 314.2 C147.5 312.8 149.3 311.6 151.2 310.3 C153.1 309.0 155.5 307.2 156.9 306.3 C158.3 305.4 159.2 305.0 159.7 304.7"/><path d="M144.0 323.2 C145.1 324.1 148.0 327.0 150.7 328.3 C153.4 329.6 157.4 330.6 160.0 331.2 C162.6 331.8 164.0 331.2 166.5 331.7 C169.0 332.1 172.0 333.5 175.0 333.9 C178.0 334.3 181.3 334.8 184.4 333.9 C187.5 333.0 190.3 329.9 193.4 328.3 C196.5 326.7 199.9 324.9 202.9 324.5 C205.9 324.1 208.9 325.5 211.4 326.1 C213.9 326.7 214.7 328.1 217.7 328.3 C220.7 328.5 225.9 327.2 229.4 327.2 C232.9 327.2 236.0 327.9 238.4 328.3 C240.8 328.7 243.1 329.2 244.0 329.4"/><path d="M140.0 330.0 C140.7 330.3 142.2 331.6 144.0 331.7 C145.8 331.8 148.0 330.7 150.7 330.6 C153.4 330.5 157.0 330.4 160.0 331.2 C163.0 331.9 166.2 334.7 168.7 335.1 C171.2 335.5 172.4 333.7 175.0 333.5 C177.6 333.3 181.3 333.5 184.4 333.9 C187.5 334.3 190.3 335.3 193.4 335.7 C196.5 336.1 199.9 336.1 202.9 336.2 C205.9 336.3 208.9 336.0 211.4 336.2 C213.9 336.4 215.4 336.6 217.7 337.3 C219.9 338.0 222.2 340.2 224.9 340.2 C227.6 340.2 230.7 338.5 233.9 337.3 C237.1 336.1 242.3 333.6 244.0 332.8"/><path d="M140.0 347.0 C140.7 346.3 142.2 344.7 144.0 342.9 C145.8 341.1 148.4 338.1 150.7 336.2 C152.9 334.2 155.9 332.1 157.5 331.2 C159.1 330.3 159.6 330.7 160.0 330.6"/><path d="M140.0 351.0 C140.7 350.4 141.8 349.5 144.0 347.4 C146.2 345.3 150.3 341.1 153.0 338.4 C155.7 335.7 158.8 332.4 160.0 331.2"/><path d="M150.0 354.0 C150.5 353.4 151.8 351.2 153.0 350.1 C154.2 349.0 156.0 347.7 157.5 347.4 C159.0 347.1 160.5 348.5 162.0 348.5 C163.5 348.5 165.0 347.1 166.5 347.4 C168.0 347.7 169.9 349.2 171.0 350.1 C172.1 351.0 172.7 352.5 173.0 353.0"/><path d="M180.0 353.0 C180.4 352.5 180.7 351.2 182.2 350.1 C183.7 349.0 186.7 346.6 188.9 346.3 C191.2 346.0 193.8 347.9 195.7 348.5 C197.6 349.1 199.1 349.5 200.2 350.1 C201.2 350.7 201.7 351.7 202.0 352.0"/><path d="M209.0 353.0 C209.4 352.5 209.9 350.9 211.4 350.1 C212.9 349.4 215.6 348.9 218.2 348.5 C220.8 348.1 223.7 347.2 227.1 347.4 C230.5 347.6 235.6 349.2 238.4 349.7 C241.2 350.1 243.1 350.0 244.0 350.1"/><path d="M240.0 292.5 C240.9 292.8 243.3 294.1 245.3 294.0 C247.3 293.9 249.5 292.3 251.9 291.7 C254.3 291.1 257.3 290.1 259.7 290.1 C262.1 290.1 264.6 291.2 266.5 291.7 C268.4 292.2 269.3 293.0 271.0 292.9 C272.7 292.8 274.7 291.2 276.6 291.2 C278.5 291.2 280.3 292.2 282.2 292.9 C284.1 293.5 286.3 294.6 287.8 295.1 C289.3 295.7 290.2 296.0 291.2 296.2 C292.2 296.4 293.0 296.3 294.0 296.5 C295.0 296.7 296.2 296.8 297.4 297.2 C298.6 297.6 300.0 298.0 301.3 299.0 C302.6 300.0 303.8 301.6 305.2 303.0 C306.6 304.4 308.2 306.0 309.7 307.5 C311.2 309.0 313.0 310.9 314.2 312.0 C315.4 313.1 315.9 313.3 317.0 314.2 C318.1 315.1 319.6 316.7 321.0 317.6 C322.4 318.5 324.0 319.2 325.5 319.8 C327.0 320.4 328.3 321.0 330.0 321.0 C331.7 321.0 333.7 320.4 335.6 319.8 C337.5 319.2 339.8 318.2 341.2 317.6 C342.6 317.1 343.5 316.7 344.0 316.5"/><path d="M245.3 294.0 C246.2 294.5 249.0 296.0 250.7 296.8 C252.3 297.6 253.6 298.4 255.2 299.0 C256.8 299.6 258.4 300.0 260.3 300.7 C262.2 301.4 264.5 302.1 266.5 303.0 C268.5 303.9 270.2 304.8 272.1 305.8 C274.0 306.8 275.8 308.1 277.7 309.2 C279.6 310.3 281.6 311.6 283.3 312.5 C285.0 313.4 286.5 313.9 287.8 314.8 C289.1 315.7 290.2 316.7 291.2 317.6 C292.2 318.6 292.8 319.6 294.0 320.5 C295.2 321.4 297.4 322.4 298.5 323.2 C299.6 323.9 299.9 324.2 300.7 325.0 C301.4 325.8 302.6 327.5 303.0 328.0"/><path d="M240.0 306.0 C240.9 305.8 243.3 305.2 245.3 304.7 C247.3 304.2 249.4 303.7 251.9 303.0 C254.4 302.3 257.9 301.4 260.3 300.7 C262.7 299.9 264.5 299.1 266.5 298.5 C268.5 297.9 270.2 297.2 272.1 296.8 C274.0 296.4 276.0 296.4 277.7 296.2 C279.4 296.0 280.5 295.9 282.2 295.7 C283.9 295.5 285.8 295.3 287.8 295.1 C289.8 294.9 291.9 294.4 294.0 294.6 C296.1 294.8 298.8 296.4 300.7 296.4 C302.6 296.3 303.5 294.9 305.2 294.3 C306.9 293.7 308.9 292.9 310.9 292.6 C312.9 292.3 315.1 292.5 317.0 292.5 C318.9 292.5 320.3 292.7 322.1 292.8 C323.9 292.9 326.0 293.1 327.7 293.4 C329.4 293.7 330.7 294.4 332.2 294.6 C333.7 294.8 335.2 294.9 336.7 294.6 C338.2 294.3 340.0 293.4 341.2 292.9 C342.4 292.4 343.5 291.9 344.0 291.7"/><path d="M245.3 304.7 C246.0 305.2 247.9 306.6 249.6 307.5 C251.2 308.4 253.1 309.4 255.2 310.3 C257.3 311.2 259.8 312.4 262.0 313.1 C264.2 313.9 266.4 314.4 268.7 314.8 C270.9 315.2 273.2 315.2 275.5 315.3 C277.8 315.4 280.1 315.4 282.2 315.3 C284.2 315.2 286.3 315.4 287.8 314.8 C289.3 314.2 290.2 313.2 291.2 312.0 C292.2 310.8 293.0 309.0 294.0 307.5 C295.0 306.0 296.2 304.4 297.4 303.0 C298.6 301.6 300.0 300.2 301.3 299.0 C302.6 297.8 303.6 296.6 305.2 295.7 C306.8 294.8 308.9 293.9 310.9 293.4 C312.9 292.9 315.1 292.9 317.0 292.9 C318.9 292.8 320.3 293.0 322.1 293.1 C323.9 293.2 326.0 293.2 327.7 293.4 C329.4 293.5 330.7 294.2 332.2 294.0 C333.7 293.8 335.2 292.9 336.7 292.3 C338.2 291.7 340.0 290.6 341.2 290.1 C342.4 289.6 343.5 289.6 344.0 289.5"/><path d="M240.0 332.0 C240.7 331.7 241.8 331.0 244.0 330.1 C246.2 329.2 250.0 327.6 253.0 326.7 C256.0 325.8 259.0 325.1 262.0 324.4 C265.0 323.6 268.0 322.8 271.0 322.2 C274.0 321.6 277.2 321.5 280.0 321.1 C282.8 320.7 285.5 320.2 287.8 319.8 C290.1 319.4 292.0 319.0 294.0 318.7 C296.0 318.4 297.7 318.0 299.6 318.1 C301.5 318.2 303.3 319.4 305.2 319.3 C307.1 319.2 308.9 318.5 310.9 317.6 C312.9 316.8 315.1 315.4 317.0 314.2 C318.9 313.0 320.3 311.2 322.1 310.3 C323.9 309.4 326.0 308.8 327.7 308.6 C329.4 308.4 330.7 308.7 332.2 309.2 C333.7 309.7 335.2 310.8 336.7 311.4 C338.2 312.0 340.0 312.7 341.2 313.1 C342.4 313.5 343.5 313.6 344.0 313.7"/><path d="M244.0 330.1 C245.5 330.5 250.0 332.3 253.0 332.3 C256.0 332.3 259.0 331.2 262.0 330.1 C265.0 329.0 268.4 326.8 271.0 325.6 C273.6 324.4 275.8 323.6 277.7 323.0 C279.6 322.4 280.5 322.5 282.2 322.1 C283.9 321.7 286.3 320.4 287.8 320.4 C289.3 320.4 290.2 322.0 291.2 322.1 C292.2 322.2 292.6 321.4 294.0 321.0 C295.4 320.6 297.7 320.1 299.6 319.8 C301.5 319.5 303.3 319.1 305.2 319.3 C307.1 319.5 308.9 320.2 310.9 321.0 C312.9 321.8 315.3 323.1 317.0 323.8 C318.7 324.6 319.7 325.0 321.0 325.5 C322.3 326.0 324.3 326.8 325.0 327.0"/><path d="M308.0 327.0 C308.7 326.7 310.5 325.6 312.0 325.0 C313.5 324.4 315.3 323.9 317.0 323.2 C318.7 322.5 320.3 321.6 322.1 321.0 C323.9 320.4 325.8 319.7 327.7 319.3 C329.6 318.9 331.4 319.6 333.3 318.7 C335.2 317.8 337.2 315.3 339.0 314.2 C340.8 313.1 343.2 312.4 344.0 312.0"/><path d="M240.0 328.0 C240.7 328.4 242.2 329.2 244.0 330.1 C245.8 331.0 248.4 332.1 250.7 333.4 C252.9 334.7 254.9 336.4 257.5 337.9 C260.1 339.4 263.9 341.2 266.5 342.4 C269.1 343.6 271.3 344.3 273.2 345.1 C275.1 345.9 277.2 346.7 278.0 347.0"/><path d="M252.0 348.0 C252.9 347.5 255.1 346.0 257.5 345.1 C259.9 344.2 263.1 343.2 266.5 342.4 C269.9 341.6 274.2 340.8 277.7 340.2 C281.2 339.6 283.6 339.4 287.4 339.0 C291.1 338.6 296.2 338.4 300.2 337.9 C304.2 337.3 308.6 336.0 311.4 335.7 C314.2 335.4 314.8 335.7 317.0 336.1 C319.2 336.5 322.1 337.2 324.9 337.9 C327.7 338.6 330.7 339.8 333.9 340.2 C337.1 340.6 342.3 340.2 344.0 340.2"/><path d="M240.0 332.0 C240.9 331.8 243.5 331.2 245.3 330.7 C247.1 330.2 248.7 329.7 250.7 329.0 C252.7 328.3 255.2 327.4 257.5 326.7 C259.8 325.9 261.9 325.2 264.2 324.5 C266.4 323.8 268.9 322.8 271.0 322.2 C273.1 321.6 274.7 321.4 276.6 321.1 C278.5 320.8 280.3 320.8 282.2 320.6 C284.1 320.4 285.8 319.7 287.8 320.0 C289.8 320.3 292.0 321.6 294.0 322.2 C296.0 322.8 297.7 323.8 299.6 323.9 C301.5 324.0 303.3 323.3 305.2 322.8 C307.1 322.3 308.9 320.8 310.9 321.1 C312.9 321.4 315.1 323.3 317.0 324.5 C318.9 325.7 320.7 327.5 322.1 328.4 C323.5 329.3 324.2 330.2 325.5 330.1 C326.8 330.0 328.5 328.8 330.0 327.9 C331.5 327.0 332.9 325.4 334.4 324.5 C335.9 323.6 337.4 322.8 339.0 322.2 C340.6 321.6 343.2 320.9 344.0 320.6"/><path d="M245.3 330.7 C246.2 330.6 249.0 329.8 250.7 330.1 C252.3 330.4 253.7 331.8 255.2 332.4 C256.7 333.0 258.2 333.4 259.7 333.5 C261.2 333.6 262.5 333.5 264.2 332.9 C265.9 332.3 267.9 331.1 269.8 330.1 C271.7 329.1 273.6 327.8 275.5 326.7 C277.4 325.6 279.1 324.4 281.1 323.4 C283.2 322.4 285.7 320.7 287.8 320.6 C289.9 320.5 291.9 321.9 294.0 323.0 C296.1 324.1 298.4 325.9 300.7 327.3 C302.9 328.7 305.6 330.2 307.5 331.2 C309.4 332.2 310.4 332.8 312.0 333.5 C313.6 334.2 315.3 335.6 317.0 335.7 C318.7 335.8 320.5 333.8 322.1 334.0 C323.7 334.2 325.1 336.0 326.6 336.9 C328.1 337.8 329.4 338.6 331.1 339.1 C332.8 339.6 334.6 339.7 336.7 339.7 C338.8 339.7 342.8 339.2 344.0 339.1"/><path d="M245.3 330.7 C246.2 331.4 249.0 333.4 250.7 334.6 C252.3 335.8 253.5 337.1 255.2 338.0 C256.9 338.9 259.0 339.4 260.9 339.7 C262.8 340.0 264.4 340.0 266.5 340.0 C268.6 340.0 270.9 339.8 273.2 339.7 C275.4 339.6 277.6 339.5 280.0 339.3 C282.4 339.1 285.5 338.8 287.8 338.5 C290.1 338.2 292.0 337.5 294.0 337.4 C296.0 337.3 297.7 337.9 299.6 338.0 C301.5 338.1 303.3 338.2 305.2 338.0 C307.1 337.8 308.9 337.3 310.9 336.9 C312.9 336.5 315.1 335.7 317.0 335.7 C318.9 335.7 320.3 336.5 322.1 336.9 C323.9 337.3 325.8 337.7 327.7 338.0 C329.6 338.3 331.4 338.4 333.3 338.5 C335.2 338.6 337.2 338.5 339.0 338.5 C340.8 338.5 343.2 338.5 344.0 338.5"/><path d="M245.3 330.7 C246.2 331.5 249.0 334.3 250.7 335.7 C252.3 337.1 253.5 338.0 255.2 339.1 C256.9 340.2 259.0 341.5 260.9 342.5 C262.8 343.5 264.6 344.7 266.5 345.3 C268.4 345.9 270.4 346.7 272.1 346.4 C273.8 346.1 275.1 344.6 276.6 343.6 C278.1 342.6 279.2 340.9 281.1 340.2 C283.0 339.4 285.7 339.3 287.8 339.1 C289.9 338.9 291.9 339.0 294.0 339.1 C296.1 339.2 298.8 339.9 300.7 339.7 C302.6 339.5 303.9 339.0 305.2 338.0 C306.5 337.0 307.5 334.8 308.6 333.5 C309.7 332.2 310.6 331.6 312.0 330.1 C313.4 328.6 315.3 325.8 317.0 324.5 C318.7 323.2 320.3 322.8 322.1 322.2 C323.9 321.6 326.8 320.9 327.7 320.6"/><path d="M240.0 349.5 C240.9 349.4 243.5 349.1 245.3 348.7 C247.1 348.3 248.7 347.2 250.7 347.0 C252.7 346.8 255.2 347.1 257.5 347.5 C259.8 347.9 261.9 348.3 264.2 349.2 C266.4 350.1 268.8 352.0 271.0 352.6 C273.2 353.2 275.6 353.1 277.7 353.1 C279.8 353.1 281.6 352.8 283.3 352.6 C285.0 352.4 286.0 352.4 287.8 352.0 C289.6 351.6 292.0 350.9 294.0 350.3 C296.0 349.7 297.7 348.7 299.6 348.1 C301.5 347.5 303.3 346.7 305.2 346.7 C307.1 346.7 308.9 347.5 310.9 348.1 C312.9 348.8 315.1 350.6 317.0 350.6 C318.9 350.6 320.3 348.7 322.1 348.1 C323.9 347.5 325.8 346.9 327.7 347.0 C329.6 347.1 331.4 348.1 333.3 348.7 C335.2 349.3 337.2 350.4 339.0 350.9 C340.8 351.4 343.2 351.4 344.0 351.5"/><path d="M245.3 348.7 C246.2 348.9 249.0 349.1 250.7 349.8 C252.3 350.5 253.7 351.4 255.2 352.6 C256.7 353.8 258.6 355.9 259.7 357.1 C260.8 358.3 261.3 359.0 262.0 360.0 C262.7 361.0 263.7 362.5 264.0 363.0"/><path d="M269.0 363.0 C269.3 362.5 269.9 361.2 271.0 360.0 C272.1 358.8 273.8 356.9 275.5 356.0 C277.2 355.1 279.1 354.8 281.1 354.3 C283.2 353.8 285.7 353.5 287.8 353.1 C289.9 352.7 292.0 352.1 294.0 352.0 C296.0 351.9 297.7 352.6 299.6 352.6 C301.5 352.6 303.3 352.2 305.2 352.0 C307.1 351.8 308.9 351.7 310.9 351.5 C312.9 351.3 315.1 350.9 317.0 350.9 C318.9 350.9 320.3 351.3 322.1 351.5 C323.9 351.7 325.8 351.9 327.7 352.0 C329.6 352.1 331.4 352.1 333.3 352.0 C335.2 351.9 337.2 351.6 339.0 351.5 C340.8 351.4 343.2 351.5 344.0 351.5"/><path d="M294.0 352.6 C294.8 352.8 297.2 353.1 298.5 353.7 C299.8 354.3 300.8 354.9 301.9 356.0 C303.0 357.1 304.3 358.8 305.2 360.0 C306.1 361.2 306.7 362.5 307.0 363.0"/><path d="M295.0 361.0 C295.3 360.5 296.2 358.8 297.0 358.0 C297.8 357.2 298.8 356.8 299.6 356.0 C300.4 355.2 301.6 353.9 302.0 353.5"/><path d="M326.0 362.0 C326.3 361.7 326.8 360.7 327.7 360.0 C328.6 359.3 330.0 358.0 331.1 357.6 C332.2 357.2 333.5 357.2 334.4 357.6 C335.3 358.0 336.1 359.3 336.7 360.0 C337.3 360.7 337.8 361.7 338.0 362.0"/><path d="M340.0 282.0 C340.7 282.2 342.4 282.9 344.0 283.5 C345.6 284.1 347.4 285.5 349.6 285.3 C351.9 285.1 354.7 283.6 357.5 282.4 C360.3 281.2 363.5 279.4 366.5 277.9 C369.5 276.4 373.4 274.7 375.5 273.4 C377.6 272.1 378.7 270.7 379.3 270.2"/><path d="M340.0 289.0 C340.7 289.0 341.8 289.1 344.0 289.1 C346.2 289.1 350.0 289.0 353.0 289.1 C356.0 289.2 359.0 289.5 362.0 289.8 C365.0 290.1 368.1 290.4 371.0 290.7 C373.9 291.0 376.3 291.7 379.3 291.8 C382.3 291.9 385.8 290.6 388.9 291.3 C392.0 292.0 395.3 294.3 397.9 295.8 C400.5 297.3 402.6 299.1 404.7 300.3 C406.8 301.6 408.1 302.0 410.3 303.3 C412.6 304.6 415.4 306.4 418.2 308.2 C421.0 309.9 424.5 312.1 427.1 313.8 C429.7 315.5 431.6 316.8 433.9 318.3 C436.2 319.8 439.8 322.1 441.0 322.8"/><path d="M340.0 314.0 C340.7 314.1 342.2 314.5 344.0 314.9 C345.8 315.2 347.7 315.9 350.7 316.1 C353.7 316.3 358.6 316.3 362.0 316.1 C365.4 315.9 368.1 315.3 371.0 314.9 C373.9 314.5 376.3 314.2 379.3 313.8 C382.3 313.4 385.8 313.4 388.9 312.7 C392.0 311.9 395.3 310.4 397.9 309.3 C400.5 308.2 402.6 307.0 404.7 306.0 C406.8 305.0 408.4 304.6 410.3 303.3 C412.2 302.0 413.8 299.4 415.9 298.1 C418.0 296.9 420.1 296.6 422.7 295.8 C425.3 295.1 428.6 294.4 431.6 293.6 C434.7 292.9 439.4 291.7 441.0 291.3"/><path d="M340.0 313.0 C340.7 312.9 342.3 312.9 344.0 312.7 C345.7 312.5 347.8 311.4 350.0 311.6 C352.2 311.8 355.1 312.5 357.5 313.8 C359.9 315.1 361.9 317.5 364.2 319.4 C366.4 321.3 368.5 323.6 371.0 325.1 C373.5 326.6 376.3 327.8 379.3 328.4 C382.3 329.0 385.8 328.5 388.9 328.9 C392.0 329.3 395.3 330.0 397.9 330.7 C400.5 331.4 402.6 332.3 404.7 332.9 C406.8 333.4 408.4 334.4 410.3 334.0 C412.2 333.6 413.5 331.8 415.9 330.7 C418.3 329.6 421.9 328.4 424.9 327.3 C427.9 326.2 431.2 324.6 433.9 323.9 C436.6 323.1 439.8 323.0 441.0 322.8"/><path d="M340.0 337.0 C340.7 337.1 341.1 337.1 344.0 337.4 C346.9 337.6 353.0 338.5 357.5 338.5 C362.0 338.5 367.4 337.8 371.0 337.4 C374.6 337.0 376.3 336.3 379.3 336.3 C382.3 336.3 385.8 337.4 388.9 337.4 C392.0 337.4 394.3 336.9 397.9 336.3 C401.5 335.7 407.3 333.8 410.3 334.0 C413.3 334.2 414.2 336.4 415.9 337.4 C417.6 338.4 419.0 339.2 420.4 340.1 C421.8 341.0 423.4 342.5 424.0 343.0"/><path d="M415.9 265.7 C416.3 266.4 417.1 268.7 418.2 270.0 C419.3 271.3 420.8 272.3 422.7 273.4 C424.6 274.5 426.8 275.8 429.4 276.7 C432.0 277.6 436.5 278.6 438.4 279.0 C440.3 279.4 440.6 279.3 441.0 279.4"/><path d="M45.0 347.3 C46.0 347.5 48.8 347.8 50.7 348.4 C52.6 349.0 54.7 349.8 56.4 350.7 C58.1 351.6 59.2 353.1 60.9 353.5 C62.6 353.9 64.8 353.7 66.5 353.3 C68.2 352.9 69.5 352.3 71.0 351.2 C72.5 350.1 74.0 348.1 75.5 346.7 C77.0 345.3 78.5 343.9 80.0 342.8 C81.5 341.7 83.0 340.6 84.4 340.0 C85.8 339.4 86.7 339.2 88.3 339.0 C89.9 338.8 92.1 338.8 94.0 338.9 C95.9 338.9 97.7 339.2 99.6 339.3 C101.5 339.4 103.5 339.4 105.2 339.7 C106.9 340.0 108.2 340.5 109.7 341.2 C111.2 341.9 112.5 343.1 114.2 344.0 C115.9 344.9 117.9 346.2 119.8 346.8 C121.7 347.4 123.7 347.5 125.5 347.6 C127.3 347.7 128.6 347.8 130.5 347.6 C132.4 347.4 134.9 346.7 136.7 346.2 C138.5 345.7 139.5 345.4 141.2 344.6 C142.9 343.9 145.2 342.8 146.9 341.7 C148.6 340.6 150.0 338.9 151.3 337.8 C152.6 336.7 153.8 336.0 154.7 335.0 C155.6 334.0 156.6 332.5 157.0 332.0"/><path d="M45.0 364.7 C46.0 364.2 48.8 363.1 50.7 361.9 C52.6 360.7 54.7 358.8 56.4 357.4 C58.1 356.0 60.1 354.1 60.9 353.5"/><path d="M45.0 367.5 C46.0 367.5 48.8 367.4 50.7 367.5 C52.6 367.6 54.7 367.8 56.4 368.1 C58.1 368.4 59.2 369.6 60.9 369.2 C62.6 368.8 64.6 367.1 66.5 365.8 C68.4 364.5 70.2 362.6 72.1 361.3 C74.0 360.0 75.8 359.1 77.7 358.0 C79.6 356.9 81.5 355.5 83.3 354.6 C85.1 353.8 86.6 353.3 88.4 352.9 C90.2 352.4 92.1 352.1 94.0 351.9 C95.9 351.7 98.0 351.9 99.6 351.9 C101.2 351.9 102.1 352.2 103.6 351.9 C105.1 351.6 107.0 350.3 108.6 350.2 C110.2 350.1 111.6 350.5 113.1 351.3 C114.6 352.1 116.1 353.8 117.6 355.2 C119.1 356.6 120.6 358.2 122.1 359.7 C123.6 361.2 125.2 363.1 126.6 364.2 C128.0 365.3 129.0 365.8 130.5 366.5 C132.0 367.2 134.2 367.8 135.6 368.7 C137.0 369.6 137.7 371.4 139.0 372.1 C140.3 372.9 141.8 373.1 143.5 373.2 C145.2 373.3 147.2 373.2 149.1 372.6 C151.0 372.0 152.9 370.7 154.7 369.8 C156.5 368.9 158.4 367.8 160.1 367.0 C161.8 366.2 163.3 366.2 164.8 365.3 C166.3 364.4 167.5 363.4 169.3 361.4 C171.1 359.4 173.7 355.3 175.5 353.5 C177.3 351.7 179.2 351.2 180.0 350.7"/><path d="M45.0 368.3 C46.2 368.3 49.4 368.4 52.0 368.5 C54.6 368.6 59.4 369.1 60.9 369.2"/><path d="M45.0 375.4 C46.0 375.0 48.8 373.9 50.7 373.1 C52.6 372.4 54.7 371.5 56.4 370.9 C58.1 370.2 60.1 369.5 60.9 369.2"/><path d="M45.0 375.4 C45.8 375.5 48.1 375.4 49.6 376.0 C51.1 376.6 52.6 378.1 54.1 378.8 C55.6 379.5 57.1 379.9 58.6 380.2 C60.1 380.5 61.6 380.5 63.1 380.4 C64.6 380.2 65.9 380.2 67.6 379.3 C69.3 378.4 71.5 376.3 73.2 374.8 C74.9 373.3 76.2 371.7 77.7 370.3 C79.2 368.9 80.4 367.3 82.2 366.4 C84.0 365.5 86.4 364.7 88.4 364.7 C90.4 364.7 92.3 366.0 94.0 366.5 C95.7 367.0 96.9 367.1 98.5 367.6 C100.1 368.1 102.1 369.6 103.6 369.3 C105.1 369.0 106.3 366.8 107.5 365.9 C108.7 365.0 109.6 364.3 110.9 364.2 C112.2 364.1 113.8 364.6 115.3 365.3 C116.8 366.1 118.3 367.6 119.8 368.7 C121.3 369.8 122.8 371.2 124.3 372.1 C125.8 373.0 127.8 373.9 128.8 374.3 C129.8 374.7 129.6 375.0 130.5 374.6 C131.4 374.2 133.1 373.1 134.5 372.1 C135.9 371.1 137.5 370.4 139.0 368.7 C140.5 367.0 142.0 364.4 143.5 362.0 C145.0 359.6 146.5 356.3 148.0 354.1 C149.5 351.9 151.0 350.1 152.5 349.0 C154.0 347.9 155.7 347.6 157.0 347.4 C158.3 347.2 159.2 348.0 160.3 347.9 C161.4 347.8 162.6 347.1 163.7 346.8 C164.8 346.5 166.0 346.0 167.1 346.2 C168.2 346.4 169.0 346.7 170.4 347.9 C171.8 349.1 173.9 352.8 175.5 353.5 C177.1 354.2 179.2 352.2 180.0 351.9"/><path d="M45.0 376.5 C46.2 376.8 49.8 377.3 52.0 378.0 C54.2 378.7 56.2 380.1 58.0 380.6 C59.8 381.1 62.2 380.8 63.0 380.9"/><path d="M105.2 339.7 C106.0 340.2 108.4 341.6 109.7 342.9 C111.0 344.2 112.0 345.9 113.1 347.4 C114.2 348.9 115.4 350.4 116.5 351.9 C117.6 353.4 118.5 354.8 119.8 356.3 C121.1 357.8 122.8 359.5 124.3 360.8 C125.8 362.1 127.7 363.5 128.8 364.2 C129.9 364.9 130.2 365.1 131.1 364.8 C132.0 364.5 133.2 363.7 134.5 362.5 C135.8 361.3 137.5 359.5 139.0 357.5 C140.5 355.5 142.0 353.1 143.5 350.7 C145.0 348.3 146.7 344.9 148.0 342.9 C149.3 340.8 150.3 339.7 151.3 338.4 C152.3 337.1 153.3 336.1 154.2 335.0 C155.1 333.9 156.1 332.5 156.5 332.0"/><path d="M103.6 351.9 C104.2 352.4 106.3 353.9 107.5 355.2 C108.7 356.5 109.8 358.2 110.9 359.7 C112.0 361.2 112.9 362.7 114.2 364.2 C115.5 365.7 117.2 367.4 118.7 368.7 C120.2 370.0 121.7 371.2 123.2 372.1 C124.7 373.0 126.5 373.8 127.7 374.3 C128.9 374.8 129.2 375.0 130.5 374.9 C131.8 374.8 133.8 374.8 135.6 373.8 C137.4 372.8 139.5 370.3 141.2 368.7 C142.9 367.1 144.2 365.3 145.7 364.2 C147.2 363.1 148.7 362.2 150.2 362.0 C151.7 361.8 153.0 362.3 154.7 363.1 C156.3 363.9 158.4 366.6 160.1 367.0 C161.8 367.4 163.3 366.2 164.8 365.3 C166.3 364.4 167.5 363.4 169.3 361.4 C171.1 359.4 174.5 354.8 175.5 353.5"/><path d="M103.6 369.3 C104.2 369.8 106.1 371.1 107.5 372.1 C108.9 373.1 110.5 374.5 112.0 375.4 C113.5 376.3 114.8 377.0 116.5 377.7 C118.2 378.4 120.2 379.1 122.1 379.4 C124.0 379.7 126.3 379.5 127.7 379.4 C129.1 379.3 129.2 379.6 130.5 378.8 C131.8 378.0 133.8 376.2 135.6 374.3 C137.4 372.4 139.5 369.9 141.2 367.6 C142.9 365.4 144.2 363.1 145.7 360.8 C147.2 358.6 148.7 356.1 150.2 354.1 C151.7 352.1 153.0 349.9 154.7 349.0 C156.3 348.1 159.2 348.6 160.1 348.5"/><path d="M110.9 364.8 C111.5 365.3 112.9 366.4 114.2 367.6 C115.5 368.8 117.2 370.8 118.7 372.1 C120.2 373.4 121.7 374.6 123.2 375.4 C124.7 376.2 126.2 376.7 127.7 377.1 C129.2 377.5 130.7 377.9 132.2 377.7 C133.7 377.5 135.2 377.1 136.7 376.0 C138.2 374.9 139.8 372.8 141.2 371.0 C142.6 369.2 144.4 366.0 145.0 365.0"/><path d="M162.0 333.0 C162.7 333.3 165.0 334.5 166.0 335.0 C167.0 335.5 167.3 335.9 168.2 336.1 C169.1 336.3 170.7 336.3 171.6 336.1 C172.5 335.9 173.1 335.5 173.8 335.0 C174.5 334.5 175.6 333.3 176.0 333.0"/><path d="M172.0 333.0 C172.5 333.3 173.2 334.4 175.0 335.0 C176.8 335.6 180.3 336.0 182.9 336.3 C185.5 336.6 187.4 336.8 190.7 336.9 C194.0 336.9 198.0 336.5 202.5 336.6 C207.0 336.7 214.2 337.0 217.5 337.4 C220.8 337.8 220.8 338.4 222.2 338.9 C223.6 339.4 224.8 340.5 226.1 340.5 C227.4 340.5 228.4 339.8 230.1 338.9 C231.8 338.0 234.9 336.0 236.4 335.0 C237.9 334.0 238.6 333.3 239.0 333.0"/><path d="M175.5 353.5 C176.5 352.9 179.0 351.1 181.3 349.9 C183.6 348.7 186.8 346.6 189.2 346.3 C191.5 346.1 193.2 347.7 195.4 348.4 C197.6 349.1 200.1 350.6 202.5 350.7 C204.9 350.8 207.1 349.7 209.6 349.2 C212.1 348.7 215.1 348.0 217.5 347.9 C219.9 347.8 222.0 348.1 223.8 348.4 C225.6 348.7 226.9 349.9 228.5 349.9 C230.1 349.9 231.4 348.6 233.2 348.4 C235.0 348.1 237.5 348.4 239.5 348.4 C241.5 348.4 244.1 348.4 245.0 348.4"/><path d="M175.5 353.5 C176.7 353.8 180.6 354.5 182.9 355.4 C185.2 356.2 187.1 357.0 189.2 358.6 C191.3 360.2 193.2 363.1 195.4 364.9 C197.6 366.7 200.4 369.3 202.5 369.6 C204.6 369.9 206.0 367.8 208.0 366.5 C210.0 365.2 212.2 362.9 214.3 361.7 C216.4 360.5 218.2 360.7 220.6 359.4 C223.0 358.1 226.4 354.3 228.5 353.9 C230.6 353.5 231.6 355.7 233.2 357.0 C234.8 358.3 235.9 360.1 237.9 361.7 C239.9 363.3 243.8 365.7 245.0 366.5"/><path d="M240.0 365.0 C240.7 365.2 242.4 366.7 244.0 366.5 C245.6 366.3 247.7 364.6 249.6 363.7 C251.5 362.8 253.5 361.3 255.2 360.9 C256.9 360.5 258.2 360.9 259.7 361.5 C261.2 362.1 262.7 363.7 264.2 364.8 C265.7 365.9 267.2 367.4 268.7 368.2 C270.2 368.9 271.6 369.2 273.2 369.3 C274.8 369.4 276.3 369.1 278.0 368.5 C279.7 367.9 281.7 366.6 283.3 366.0 C284.9 365.4 286.0 365.2 287.8 364.8 C289.6 364.4 292.2 364.8 294.0 363.7 C295.8 362.6 297.2 359.6 298.5 358.0 C299.8 356.4 300.8 355.0 301.9 354.2 C303.0 353.4 303.8 353.3 305.2 353.0 C306.6 352.7 308.0 352.8 310.0 352.5 C312.0 352.2 314.7 351.5 317.0 351.4 C319.3 351.3 321.8 351.7 324.0 351.9 C326.2 352.1 327.8 352.4 330.0 352.5 C332.2 352.6 334.7 352.6 337.0 352.5 C339.3 352.4 342.8 352.0 344.0 351.9"/><path d="M244.0 366.5 C244.9 366.6 247.7 367.1 249.6 367.1 C251.5 367.1 253.3 366.7 255.2 366.5 C257.1 366.3 259.0 365.8 260.9 366.0 C262.8 366.2 264.6 367.1 266.5 367.6 C268.4 368.2 270.2 369.2 272.1 369.3 C274.0 369.4 275.8 368.8 277.7 368.2 C279.6 367.6 281.6 366.6 283.3 366.0 C285.0 365.4 286.0 365.2 287.8 364.8 C289.6 364.4 293.0 363.9 294.0 363.7"/><path d="M266.0 372.0 C267.0 371.6 270.1 370.1 272.0 369.5 C273.9 368.9 275.8 368.6 277.7 368.2 C279.6 367.8 281.6 367.3 283.3 367.0 C285.0 366.7 286.0 366.3 287.8 366.5 C289.6 366.7 292.0 367.9 294.0 368.2 C296.0 368.5 297.7 368.1 299.6 368.2 C301.5 368.3 303.3 368.6 305.2 368.8 C307.1 369.0 308.9 369.2 310.9 369.3 C312.9 369.4 314.9 369.4 317.0 369.3 C319.1 369.2 321.0 369.1 323.2 368.8 C325.4 368.5 327.8 368.1 330.0 367.6 C332.2 367.1 334.4 366.2 336.7 366.0 C339.0 365.8 342.8 366.4 344.0 366.5"/><path d="M287.8 364.8 C288.3 363.7 290.0 360.1 291.0 358.0 C292.0 355.9 292.8 352.7 294.0 351.9 C295.2 351.1 297.2 352.6 298.5 353.0 C299.8 353.4 300.8 353.3 301.9 354.2 C303.0 355.1 303.9 356.5 305.2 358.1 C306.5 359.7 308.2 362.0 309.7 363.7 C311.2 365.4 313.0 367.3 314.2 368.2 C315.4 369.1 315.9 369.7 317.0 369.3 C318.1 368.9 319.6 367.3 321.0 366.0 C322.4 364.7 324.0 362.9 325.5 361.5 C327.0 360.1 328.5 357.9 330.0 357.5 C331.5 357.1 332.9 358.2 334.4 359.2 C335.9 360.2 337.4 362.2 339.0 363.7 C340.6 365.2 343.2 367.4 344.0 368.2"/><path d="M287.8 353.0 C288.8 352.7 292.0 352.1 294.0 351.3 C296.0 350.6 297.7 349.2 299.6 348.5 C301.5 347.8 303.3 347.0 305.2 346.9 C307.1 346.8 308.9 347.4 310.9 348.0 C312.9 348.6 315.1 350.6 317.0 350.8 C318.9 351.0 320.3 349.7 322.1 349.1 C323.9 348.5 325.8 347.5 327.7 347.4 C329.6 347.3 331.4 347.9 333.3 348.5 C335.2 349.1 337.2 350.3 339.0 350.8 C340.8 351.3 343.2 351.2 344.0 351.3"/><path d="M287.8 339.0 C288.8 338.7 292.0 337.5 294.0 337.3 C296.0 337.1 297.7 338.0 299.6 337.9 C301.5 337.8 303.3 337.1 305.2 336.7 C307.1 336.3 308.9 335.7 310.9 335.6 C312.9 335.5 315.1 335.9 317.0 336.2 C318.9 336.5 320.3 336.9 322.1 337.3 C323.9 337.7 325.8 338.1 327.7 338.4 C329.6 338.7 331.4 338.8 333.3 339.0 C335.2 339.2 337.2 339.4 339.0 339.6 C340.8 339.8 343.2 340.0 344.0 340.1"/><path d="M294.0 340.0 C294.9 339.9 298.1 339.8 299.6 339.5 C301.1 339.2 301.9 339.1 303.0 338.4 C304.1 337.6 305.5 335.9 306.4 335.0 C307.3 334.1 307.8 332.9 308.6 332.8 C309.4 332.7 309.6 333.9 311.0 334.5 C312.4 335.1 315.3 336.2 317.0 336.2 C318.7 336.2 319.8 334.7 321.0 334.5 C322.2 334.3 323.2 334.4 324.3 335.0 C325.4 335.6 326.4 337.0 327.7 337.9 C329.0 338.8 330.3 339.7 332.2 340.1 C334.1 340.5 337.0 340.2 339.0 340.1 C341.0 340.0 343.2 339.7 344.0 339.6"/><path d="M392.0 328.0 C392.5 328.3 393.4 329.3 394.9 330.0 C396.4 330.7 398.3 331.7 400.8 332.3 C403.3 332.9 407.0 333.4 410.1 333.5 C413.2 333.6 416.8 333.2 419.5 332.8 C422.2 332.4 424.9 331.7 426.5 331.2 C428.1 330.7 428.1 330.5 428.8 330.0 C429.6 329.5 430.6 328.3 431.0 328.0"/><path d="M336.0 339.0 C336.7 339.1 337.7 339.2 340.0 339.3 C342.3 339.4 346.5 339.7 350.0 339.8 C353.5 339.9 357.6 340.0 361.0 339.8 C364.4 339.6 367.4 339.4 370.4 338.9 C373.4 338.3 376.1 336.4 379.0 336.5 C381.9 336.6 385.0 339.5 387.9 339.8 C390.8 340.1 393.4 338.9 396.1 338.2 C398.8 337.5 402.0 336.6 404.3 335.8 C406.6 335.0 408.0 332.9 410.1 333.5 C412.2 334.1 414.8 337.2 417.1 339.3 C419.4 341.4 421.8 344.2 424.1 346.4 C426.4 348.5 428.3 351.0 431.1 352.2 C433.9 353.4 439.4 353.5 441.0 353.8"/><path d="M336.0 352.0 C336.7 352.0 337.7 352.2 340.0 352.2 C342.3 352.2 346.5 352.4 350.0 352.2 C353.5 352.0 357.6 351.5 361.0 351.0 C364.4 350.5 367.4 349.8 370.4 349.2 C373.4 348.6 375.9 347.9 379.0 347.5 C382.1 347.1 385.9 347.0 389.1 346.8 C392.3 346.6 395.7 345.7 398.4 346.4 C401.1 347.1 403.4 349.8 405.4 351.0 C407.3 352.2 408.2 351.8 410.1 353.4 C412.1 355.0 414.8 358.3 417.1 360.4 C419.4 362.5 421.8 364.8 424.1 366.2 C426.4 367.6 428.3 368.0 431.1 368.6 C433.9 369.2 439.4 369.5 441.0 369.7"/><path d="M336.0 363.0 C336.7 363.4 338.6 364.4 340.0 365.1 C341.4 365.8 343.0 366.7 344.7 367.4 C346.4 368.1 347.7 369.7 350.0 369.3 C352.3 368.9 355.7 366.8 358.7 365.1 C361.7 363.4 364.6 360.1 368.0 359.2 C371.4 358.3 375.5 360.3 379.0 359.9 C382.5 359.5 385.5 357.3 389.1 356.9 C392.7 356.5 397.3 358.2 400.8 357.6 C404.3 357.0 407.4 354.5 410.1 353.4 C412.8 352.3 414.8 350.6 417.1 351.0 C419.4 351.4 421.8 353.3 424.1 355.7 C426.4 358.1 428.3 361.2 431.1 365.1 C433.9 369.0 439.4 376.8 441.0 379.1"/><path d="M45.0 419.5 C46.0 419.9 49.0 420.8 50.7 421.7 C52.4 422.6 54.1 424.4 55.2 425.1 C56.3 425.9 56.5 426.3 57.5 426.2 C58.5 426.1 59.4 425.1 60.9 424.6 C62.4 424.1 64.5 423.8 66.5 423.4 C68.5 423.0 71.3 422.3 73.2 422.3 C75.1 422.3 76.0 422.8 77.7 423.4 C79.4 424.0 81.5 425.0 83.3 425.7 C85.1 426.4 86.6 427.5 88.4 427.4 C90.2 427.3 92.3 426.1 94.0 425.1 C95.7 424.2 96.9 422.7 98.5 421.7 C100.1 420.7 101.9 419.6 103.6 419.3 C105.3 419.0 106.8 419.6 108.6 420.1 C110.4 420.6 112.5 421.3 114.2 422.3 C115.9 423.3 117.0 425.0 118.7 426.2 C120.4 427.4 122.3 428.7 124.3 429.6 C126.3 430.6 128.4 431.8 130.5 431.9 C132.6 432.0 134.4 431.1 136.7 430.2 C138.9 429.2 142.8 426.9 144.0 426.2"/><path d="M45.0 420.1 C46.0 420.3 49.0 420.7 50.7 421.2 C52.4 421.7 53.5 422.3 55.2 422.9 C56.9 423.5 60.0 424.3 60.9 424.6"/><path d="M103.6 419.3 C104.4 419.4 106.8 419.4 108.6 419.7 C110.4 420.0 112.5 421.0 114.2 421.2 C115.9 421.4 117.0 420.9 118.7 420.6 C120.4 420.3 122.3 419.7 124.3 419.5 C126.3 419.3 128.4 419.8 130.5 419.5 C132.6 419.2 134.9 418.3 136.7 417.8 C138.5 417.3 140.0 417.0 141.2 416.7 C142.4 416.4 143.5 416.2 144.0 416.1"/><path d="M45.0 431.9 C45.8 431.7 48.1 431.0 49.6 430.7 C51.1 430.4 52.8 429.9 54.1 430.2 C55.4 430.5 56.4 431.2 57.5 432.4 C58.6 433.6 59.4 436.5 60.9 437.5 C62.4 438.5 64.5 438.3 66.5 438.6 C68.5 438.9 71.0 439.0 73.2 439.2 C75.5 439.4 77.5 439.3 80.0 439.7 C82.5 440.1 86.1 441.2 88.4 441.4 C90.7 441.6 92.3 441.1 94.0 441.0 C95.7 440.9 96.9 441.0 98.5 441.0 C100.1 441.0 102.3 441.4 103.6 440.8 C104.9 440.2 105.2 439.0 106.4 437.5 C107.6 436.0 109.4 433.6 110.9 431.9 C112.4 430.2 113.8 428.5 115.3 427.4 C116.8 426.3 118.3 425.9 119.8 425.1 C121.3 424.4 122.5 423.7 124.3 422.9 C126.1 422.1 128.4 420.9 130.5 420.1 C132.6 419.4 134.4 419.0 136.7 418.4 C138.9 417.8 142.8 417.0 144.0 416.7"/><path d="M45.0 440.3 C46.3 440.3 50.4 440.5 53.0 440.3 C55.6 440.1 58.6 439.5 60.9 439.2 C63.1 438.9 65.6 438.7 66.5 438.6"/><path d="M45.0 441.3 C46.3 441.2 50.4 441.2 53.0 441.0 C55.6 440.8 59.6 440.2 60.9 440.0"/><path d="M45.0 443.1 C46.0 443.2 49.0 443.6 50.7 443.7 C52.4 443.8 53.5 443.9 55.2 444.0 C56.9 444.1 59.0 444.2 60.9 444.2 C62.8 444.2 64.6 444.1 66.5 444.2 C68.4 444.3 70.2 444.6 72.1 444.8 C74.0 445.0 75.8 445.8 77.7 445.6 C79.6 445.4 81.5 444.4 83.3 443.7 C85.1 443.0 86.6 442.0 88.4 441.4 C90.2 440.8 92.3 440.4 94.0 440.3 C95.7 440.2 96.9 440.5 98.5 440.6 C100.1 440.7 101.9 440.9 103.6 441.1 C105.3 441.3 106.8 441.7 108.6 442.0 C110.4 442.3 112.3 442.6 114.2 443.1 C116.1 443.6 117.9 444.4 119.8 444.8 C121.7 445.2 123.8 445.5 125.6 445.7 C127.4 445.9 129.2 446.0 130.7 446.0 C132.2 446.0 133.4 445.6 134.6 445.7 C135.8 445.8 136.7 445.9 138.0 446.3 C139.3 446.7 141.0 448.2 142.5 448.3 C144.0 448.4 146.2 447.1 147.0 446.9"/><path d="M45.0 446.5 C45.8 446.7 48.1 447.3 49.6 447.6 C51.1 447.9 52.8 448.3 54.1 448.1 C55.4 447.9 56.4 447.1 57.5 446.5 C58.6 445.9 60.3 444.6 60.9 444.2"/><path d="M103.6 441.1 C104.4 441.2 106.8 442.1 108.6 442.0 C110.4 441.9 112.3 440.8 114.2 440.3 C116.1 439.8 117.9 439.4 119.8 439.2 C121.7 439.0 123.8 438.8 125.6 439.0 C127.4 439.2 129.2 440.1 130.7 440.7 C132.2 441.3 133.4 442.1 134.6 442.9 C135.8 443.7 136.9 444.8 138.0 445.7 C139.1 446.6 140.2 446.9 141.3 448.0 C142.4 449.1 143.6 450.4 144.7 452.5 C145.8 454.6 146.8 457.9 148.1 460.3 C149.4 462.7 151.1 465.0 152.6 467.1 C154.1 469.2 155.9 471.3 157.1 472.7 C158.3 474.1 159.4 475.0 159.9 475.5"/><path d="M90.0 443.0 C90.7 443.2 92.6 443.7 94.0 444.2 C95.4 444.7 96.9 445.3 98.5 445.9 C100.1 446.5 102.3 447.0 103.6 447.6 C104.9 448.2 105.6 449.1 106.4 449.8 C107.2 450.6 107.8 451.9 108.6 452.1 C109.3 452.3 110.0 451.8 110.9 451.0 C111.8 450.2 112.9 448.5 114.2 447.6 C115.5 446.8 116.8 446.6 118.7 445.9 C120.6 445.2 123.6 444.0 125.6 443.5 C127.6 443.0 129.2 442.7 130.7 442.9 C132.2 443.1 133.4 443.9 134.6 444.6 C135.8 445.3 136.9 446.2 138.0 446.9 C139.1 447.5 140.0 449.1 141.3 448.5 C142.6 447.9 144.3 445.3 145.8 443.5 C147.3 441.7 148.8 439.8 150.3 437.9 C151.8 436.0 153.5 433.6 154.8 432.2 C156.1 430.8 157.1 430.4 158.0 429.6 C158.9 428.8 159.8 427.8 160.2 427.4"/><path d="M78.0 456.0 C78.3 455.8 78.9 455.5 80.0 455.0 C81.1 454.5 83.0 453.6 84.4 453.2 C85.8 452.8 87.1 452.6 88.4 452.6 C89.7 452.6 91.4 453.0 92.3 453.2 C93.2 453.4 93.7 453.7 94.0 453.8"/><path d="M45.0 457.3 C46.0 457.2 49.0 456.8 50.7 456.7 C52.4 456.6 53.5 456.7 55.2 456.7 C56.9 456.7 59.0 456.3 60.9 456.5 C62.8 456.7 64.6 457.4 66.5 457.9 C68.4 458.3 70.2 459.4 72.1 459.2 C74.0 459.0 75.8 457.7 77.7 456.7 C79.6 455.7 81.5 454.1 83.3 453.4 C85.1 452.6 86.6 452.2 88.4 452.2 C90.2 452.2 92.3 452.8 94.0 453.4 C95.7 454.0 96.9 454.8 98.5 455.6 C100.1 456.4 101.9 458.3 103.6 458.1 C105.3 457.9 107.0 454.6 108.6 454.5 C110.2 454.4 111.6 456.6 113.1 457.3 C114.6 458.1 115.9 458.9 117.6 459.0 C119.3 459.1 121.0 458.4 123.2 457.9 C125.4 457.4 128.6 456.2 130.7 456.1 C132.8 456.0 133.9 456.6 135.7 457.0 C137.5 457.4 139.4 457.9 141.3 458.7 C143.2 459.4 145.3 461.2 147.0 461.5 C148.7 461.8 150.0 461.1 151.5 460.3 C153.0 459.6 154.6 458.1 156.0 457.0 C157.4 455.9 159.2 454.2 159.9 453.6"/><path d="M45.0 462.4 C46.0 462.0 49.0 461.0 50.7 460.1 C52.4 459.2 54.0 457.9 55.2 457.3 C56.4 456.7 57.5 456.7 58.0 456.6"/><path d="M103.6 458.1 C104.2 458.8 105.9 460.8 107.5 462.4 C109.1 463.9 111.2 466.9 113.1 467.4 C115.0 467.9 116.8 465.8 118.7 465.2 C120.6 464.6 122.3 464.0 124.3 463.5 C126.3 463.0 128.8 462.5 130.7 462.4 C132.6 462.3 133.9 462.7 135.7 463.1 C137.5 463.5 139.6 464.1 141.3 464.8 C143.0 465.5 144.5 466.4 145.8 467.1 C147.1 467.9 147.9 468.4 149.2 469.3 C150.5 470.2 152.2 471.8 153.7 472.7 C155.2 473.6 157.1 474.4 158.2 474.9 C159.3 475.4 160.0 475.4 160.4 475.5"/><path d="M103.0 451.0 C103.4 450.8 104.5 449.9 105.2 450.0 C106.0 450.1 106.8 451.5 107.5 451.7 C108.2 451.9 109.0 451.4 109.7 451.1 C110.5 450.8 111.5 450.5 112.0 450.0 C112.5 449.5 112.8 448.3 113.0 448.0"/><path d="M45.0 467.4 C46.0 467.4 49.0 467.3 50.7 467.4 C52.4 467.5 53.5 467.6 55.2 467.8 C56.9 468.0 59.0 468.4 60.9 468.5 C62.8 468.6 64.8 468.2 66.5 468.2 C68.2 468.2 69.5 467.9 71.0 468.5 C72.5 469.1 74.0 470.7 75.5 471.9 C77.0 473.1 78.5 474.6 80.0 475.8 C81.5 477.0 83.0 478.2 84.4 479.2 C85.8 480.1 86.8 481.4 88.4 481.5 C90.0 481.6 92.3 480.6 94.0 479.8 C95.7 479.1 96.9 477.9 98.5 477.0 C100.1 476.1 101.9 475.1 103.6 474.2 C105.3 473.2 107.1 472.1 108.6 471.3 C110.1 470.5 111.0 469.2 112.5 469.3 C114.0 469.4 115.8 471.8 117.6 471.9 C119.4 472.0 121.0 470.7 123.2 469.7 C125.4 468.7 128.6 466.5 130.7 466.0 C132.8 465.5 133.9 466.0 135.7 466.5 C137.5 467.0 139.8 467.9 141.3 468.8 C142.9 469.7 144.0 470.9 145.0 472.0 C146.0 473.1 146.6 474.3 147.5 475.5 C148.4 476.7 149.3 477.7 150.3 479.0 C151.3 480.3 152.8 482.2 153.7 483.5 C154.6 484.8 155.2 486.1 156.0 486.9 C156.8 487.7 157.5 488.3 158.2 488.5 C158.8 488.7 159.6 488.1 159.9 488.0"/><path d="M45.0 477.0 C46.0 476.5 49.0 475.1 50.7 474.2 C52.4 473.2 53.5 472.2 55.2 471.3 C56.9 470.4 60.0 469.0 60.9 468.5"/><path d="M103.6 474.2 C104.4 474.6 106.8 475.8 108.6 476.4 C110.4 476.9 112.3 477.3 114.2 477.5 C116.1 477.7 117.9 477.5 119.8 477.5 C121.7 477.5 123.7 477.6 125.5 477.5 C127.3 477.4 129.1 477.2 130.7 477.0 C132.3 476.8 133.6 476.3 135.0 476.0 C136.4 475.7 137.5 475.1 139.1 475.1 C140.7 475.1 142.8 475.2 144.7 476.2 C146.6 477.2 148.6 479.4 150.3 481.2 C152.0 483.0 153.5 485.4 154.8 486.9 C156.1 488.4 157.3 489.3 158.2 490.2 C159.1 491.1 160.0 492.1 160.4 492.5"/><path d="M102.0 493.0 C102.3 492.5 103.0 491.4 104.1 490.0 C105.2 488.6 107.1 486.5 108.6 484.8 C110.1 483.1 111.6 481.1 113.1 479.8 C114.6 478.5 116.1 477.1 117.6 477.0 C119.1 476.9 120.6 478.5 122.1 479.2 C123.6 479.9 125.2 480.7 126.6 481.0 C128.0 481.3 129.2 481.1 130.7 481.2 C132.2 481.3 133.9 481.4 135.7 481.8 C137.5 482.2 139.4 482.6 141.3 483.5 C143.2 484.4 145.3 485.8 147.0 486.9 C148.7 488.0 150.2 489.4 151.5 490.2 C152.8 491.0 153.7 491.4 154.8 491.9 C155.9 492.4 157.3 492.7 158.2 493.0 C159.0 493.3 158.8 493.7 159.9 493.6 C161.0 493.5 163.2 492.7 164.9 492.5 C166.6 492.3 168.3 493.2 170.0 492.5 C171.7 491.8 174.2 489.2 175.0 488.5"/><path d="M45.0 482.6 C46.0 483.0 49.0 484.0 50.7 484.8 C52.4 485.6 53.9 486.7 55.2 487.6 C56.5 488.5 57.6 489.3 58.6 490.0 C59.6 490.7 60.6 491.7 61.0 492.0"/><path d="M78.0 492.0 C78.5 491.7 80.0 490.6 81.1 490.0 C82.2 489.4 83.2 488.7 84.4 488.2 C85.6 487.7 86.8 487.1 88.4 487.1 C90.0 487.1 92.6 487.8 94.0 488.2 C95.4 488.6 96.5 489.3 97.0 489.5"/><path d="M45.0 485.0 C45.2 485.1 44.9 484.9 46.2 485.3 C47.5 485.7 50.5 486.3 53.0 487.2 C55.5 488.1 58.3 490.0 60.9 490.6 C63.5 491.2 65.9 490.7 68.7 490.6 C71.5 490.5 74.4 490.5 77.7 489.9 C81.0 489.3 85.3 486.9 88.3 486.8 C91.3 486.7 93.2 488.2 95.7 489.0 C98.2 489.8 101.3 490.3 103.6 491.7 C105.8 493.1 107.2 495.7 109.2 497.4 C111.2 499.1 113.7 500.8 115.9 501.9 C118.2 503.0 120.2 503.6 122.7 504.1 C125.2 504.6 128.3 504.9 130.7 504.8 C133.1 504.7 134.9 504.2 136.9 503.7 C138.9 503.1 140.6 502.6 142.5 501.5 C144.4 500.4 146.4 498.5 148.1 497.0 C149.8 495.5 151.1 493.4 152.6 492.5 C154.1 491.6 155.9 491.8 157.1 491.9 C158.3 492.0 159.4 492.8 159.9 493.0"/><path d="M45.0 500.0 C45.8 499.6 48.3 498.5 50.0 497.5 C51.7 496.5 53.2 495.1 55.0 494.0 C56.8 492.9 59.9 491.2 60.9 490.6"/><path d="M45.0 505.1 C46.0 505.4 49.0 506.1 50.7 506.7 C52.4 507.3 53.7 508.2 55.2 509.0 C56.7 509.8 57.8 510.8 59.7 511.2 C61.6 511.6 64.2 511.1 66.5 511.2 C68.8 511.3 71.2 511.5 73.2 511.8 C75.2 512.1 77.1 512.4 78.8 512.9 C80.5 513.4 81.7 514.0 83.3 514.6 C84.9 515.2 86.6 516.4 88.4 516.3 C90.2 516.2 92.3 514.6 94.0 514.0 C95.7 513.4 96.9 513.4 98.5 512.9 C100.1 512.4 101.9 512.2 103.6 511.2 C105.3 510.2 107.0 508.0 108.6 506.7 C110.2 505.4 111.8 504.2 113.1 503.4 C114.4 502.6 115.0 502.3 116.5 501.7 C118.0 501.1 120.5 500.4 122.1 500.0 C123.7 499.6 124.6 499.2 126.0 499.0 C127.4 498.8 128.9 498.8 130.7 498.7 C132.5 498.6 134.8 498.4 136.9 498.1 C139.1 497.8 141.7 497.6 143.6 497.0 C145.5 496.4 146.6 495.6 148.1 494.7 C149.6 493.8 151.3 492.6 152.6 491.9 C153.9 491.1 154.8 490.8 156.0 490.2 C157.2 489.6 159.2 488.4 159.9 488.0"/><path d="M45.0 514.6 C46.0 514.4 49.0 513.9 50.7 513.5 C52.4 513.1 53.7 512.8 55.2 512.4 C56.7 512.0 59.0 511.4 59.7 511.2"/><path d="M45.0 515.2 C46.0 515.3 48.6 515.5 50.7 515.7 C52.8 515.9 55.2 516.1 57.5 516.3 C59.8 516.4 62.0 516.5 64.2 516.6 C66.5 516.7 68.8 516.7 71.0 516.9 C73.2 517.1 75.8 517.9 77.7 518.0 C79.6 518.1 80.4 517.7 82.2 517.4 C84.0 517.1 86.4 516.4 88.4 516.3 C90.4 516.2 92.1 516.7 94.0 516.9 C95.9 517.1 97.7 517.2 99.6 517.4 C101.5 517.5 103.3 517.7 105.2 517.8 C107.1 517.9 109.0 518.1 110.9 518.0 C112.8 517.9 114.5 517.6 116.5 517.4 C118.5 517.2 120.8 517.2 123.2 516.9 C125.6 516.6 128.4 515.9 130.7 515.5 C133.0 515.1 134.9 515.1 136.9 514.6 C138.9 514.1 140.8 513.6 142.5 512.7 C144.2 511.8 145.5 510.4 147.0 509.3 C148.5 508.2 150.0 506.8 151.5 506.0 C153.0 505.2 154.6 504.7 156.0 504.3 C157.4 503.9 159.2 503.8 159.9 503.7"/><path d="M45.0 516.2 C46.7 516.2 51.7 516.4 55.0 516.5 C58.3 516.6 62.2 516.8 65.0 517.0 C67.8 517.2 70.8 517.5 72.0 517.6"/><path d="M103.6 511.2 C104.1 511.7 105.4 513.1 106.4 514.0 C107.4 514.9 108.0 516.0 109.7 516.3 C111.4 516.6 114.2 515.9 116.5 515.7 C118.8 515.5 120.9 515.4 123.2 515.2 C125.5 515.0 128.2 514.8 130.5 514.6 C132.8 514.4 134.9 514.4 136.7 514.0 C138.5 513.6 140.0 512.9 141.2 512.4 C142.4 511.9 143.5 511.4 144.0 511.2"/><path d="M103.6 517.0 C105.0 517.0 108.7 517.1 112.0 516.9 C115.3 516.7 120.1 516.2 123.2 516.0 C126.3 515.8 128.2 515.8 130.5 515.5 C132.8 515.2 134.8 515.1 137.0 514.5 C139.2 513.9 142.8 512.2 144.0 511.8"/><path d="M45.0 533.1 C46.0 533.4 49.0 534.0 50.7 534.8 C52.4 535.5 53.9 536.7 55.2 537.6 C56.5 538.5 57.6 539.4 58.6 540.0 C59.6 540.6 60.6 541.2 61.0 541.5"/><path d="M68.7 540.1 C69.1 540.1 69.5 540.5 71.0 540.0 C72.5 539.5 75.7 537.8 77.7 537.1 C79.8 536.4 81.5 536.2 83.3 536.0 C85.1 535.8 86.6 536.0 88.4 536.0 C90.2 536.0 92.1 536.0 94.0 536.0 C95.9 536.0 98.0 536.0 99.6 536.0 C101.2 536.0 102.1 536.7 103.6 536.2 C105.1 535.7 106.8 533.9 108.6 533.1 C110.4 532.3 112.5 531.8 114.2 531.5 C115.9 531.2 117.0 531.4 118.7 531.5 C120.4 531.6 122.3 531.7 124.3 532.0 C126.3 532.3 128.8 532.8 130.5 533.1 C132.2 533.4 133.2 533.3 134.6 534.0 C136.0 534.7 138.3 536.8 139.1 537.4"/><path d="M103.6 536.2 C104.1 536.5 105.6 537.6 106.4 538.2 C107.2 538.8 107.8 539.4 108.6 540.0 C109.4 540.6 110.6 541.7 111.0 542.0"/><path d="M58.6 540.0 C59.0 540.3 60.0 541.5 60.9 541.7 C61.8 542.0 62.7 541.8 64.0 541.5 C65.3 541.2 67.5 540.4 68.7 540.1 C69.9 539.9 70.6 540.0 71.0 540.0"/><path d="M45.0 548.0 C46.3 547.8 50.4 547.8 53.0 546.9 C55.6 546.0 59.2 543.2 60.9 542.4 C62.6 541.5 62.6 541.9 63.0 541.8"/><path d="M108.6 540.0 C109.1 540.2 109.4 540.2 111.4 541.0 C113.4 541.8 117.1 543.4 120.4 544.6 C123.7 545.8 128.0 546.9 131.0 548.0 C134.0 549.1 136.2 550.0 138.4 551.3 C140.6 552.6 143.1 555.0 144.0 555.8"/><path d="M144.0 416.1 C144.4 416.2 145.5 416.3 146.7 416.7 C147.9 417.1 149.7 417.5 151.2 418.4 C152.7 419.3 154.2 421.3 155.7 422.3 C157.2 423.3 158.5 423.9 160.2 424.6 C161.9 425.4 164.1 426.2 165.8 426.8 C167.5 427.4 168.8 427.6 170.3 427.9 C171.8 428.2 173.3 428.7 175.0 428.5 C176.7 428.3 178.6 427.4 180.4 426.8 C182.2 426.2 184.8 425.5 186.1 425.1 C187.4 424.7 186.6 424.6 188.0 424.4 C189.4 424.2 191.9 424.4 194.3 423.8 C196.8 423.2 200.2 420.8 202.7 421.0 C205.2 421.2 206.9 423.7 209.4 425.1 C211.9 426.5 215.1 428.9 217.6 429.5 C220.1 430.1 222.1 429.2 224.5 428.8 C226.9 428.4 229.7 427.6 232.0 427.0 C234.3 426.4 236.3 425.6 238.3 425.1 C240.3 424.6 243.1 424.0 244.0 423.8"/><path d="M144.0 426.2 C144.8 426.4 147.4 427.3 149.0 427.4 C150.6 427.5 152.0 427.2 153.5 426.8 C155.0 426.4 156.9 425.5 158.0 425.1 C159.1 424.7 159.8 424.7 160.2 424.6"/><path d="M144.0 416.7 C144.3 417.0 145.2 417.3 146.0 418.5 C146.8 419.7 147.8 423.3 149.0 424.0 C150.2 424.7 152.0 422.9 153.5 422.9 C155.0 422.9 156.9 423.4 158.0 424.0 C159.1 424.6 158.9 425.6 160.2 426.2 C161.5 426.8 163.9 427.1 165.8 427.4 C167.7 427.7 170.0 427.7 171.5 427.9 C173.0 428.1 173.5 428.4 175.0 428.7 C176.5 429.0 178.6 429.5 180.4 429.6 C182.2 429.8 184.8 429.9 186.1 429.6 C187.4 429.3 186.6 428.4 188.0 427.6 C189.4 426.9 191.9 425.9 194.3 425.1 C196.8 424.3 200.2 422.6 202.7 422.8 C205.2 423.0 206.9 425.0 209.4 426.3 C211.9 427.6 215.1 430.0 217.6 430.7 C220.1 431.4 222.1 430.7 224.5 430.4 C226.9 430.1 229.7 429.4 232.0 428.8 C234.3 428.2 236.3 427.4 238.3 427.0 C240.3 426.6 243.1 426.2 244.0 426.1"/><path d="M198.1 440.2 C198.9 439.6 200.8 437.1 202.7 436.4 C204.6 435.7 206.9 435.9 209.4 435.8 C211.9 435.7 215.5 435.3 217.6 435.8 C219.7 436.3 220.4 437.5 222.0 438.9 C223.6 440.2 225.1 442.2 227.0 443.9 C228.9 445.6 231.4 447.7 233.3 449.0 C235.2 450.3 236.5 450.9 238.3 451.5 C240.1 452.1 243.1 452.6 244.0 452.8"/><path d="M199.3 455.2 C200.4 455.0 203.7 454.8 205.6 454.0 C207.5 453.2 208.7 451.4 210.7 450.2 C212.7 448.9 215.7 446.9 217.6 446.5 C219.5 446.1 220.9 447.4 222.0 447.7 C223.1 448.0 223.2 447.5 224.0 448.5 C224.8 449.5 225.7 451.6 226.7 453.5 C227.7 455.4 228.8 457.8 230.1 460.2 C231.4 462.6 233.1 466.0 234.6 468.1 C236.1 470.2 237.3 471.4 239.1 472.6 C240.9 473.8 244.3 474.9 245.3 475.4"/><path d="M147.0 446.9 C147.6 447.0 149.0 446.9 150.3 447.4 C151.6 447.8 152.9 448.6 154.6 449.6 C156.2 450.6 158.3 452.7 160.2 453.5 C162.1 454.3 164.1 454.0 165.8 454.6 C167.5 455.2 168.8 455.8 170.3 456.9 C171.8 458.0 173.5 460.9 175.0 461.3 C176.5 461.7 177.7 459.8 179.3 459.1 C181.0 458.4 183.1 457.4 184.9 456.9 C186.7 456.4 188.2 456.2 190.0 456.0 C191.8 455.8 194.2 455.8 195.8 455.7 C197.4 455.6 198.7 455.3 199.3 455.2"/><path d="M159.9 475.5 C160.7 475.2 163.1 474.9 164.7 473.7 C166.2 472.5 167.7 470.0 169.2 468.1 C170.7 466.2 172.7 463.6 173.7 462.5 C174.7 461.4 174.1 461.1 175.0 461.3 C175.9 461.5 178.0 463.2 179.3 463.6 C180.6 464.0 181.6 464.2 182.7 463.6 C183.8 463.0 184.7 461.3 185.7 460.2 C186.7 459.1 187.6 458.4 188.5 456.9 C189.4 455.4 190.3 453.3 191.3 451.2 C192.3 449.1 193.6 446.3 194.7 444.5 C195.8 442.7 197.5 440.9 198.1 440.2"/><path d="M159.9 488.0 C160.9 487.7 164.1 486.4 165.8 486.2 C167.5 486.0 168.8 486.4 170.3 486.8 C171.8 487.2 173.7 488.4 175.0 488.5 C176.3 488.6 177.1 488.1 178.2 487.4 C179.3 486.6 180.5 485.0 181.6 484.0 C182.7 483.0 183.8 482.1 184.9 481.2 C186.0 480.3 186.4 479.4 188.0 478.8 C189.6 478.2 191.9 477.9 194.3 477.6 C196.8 477.3 200.2 477.5 202.7 476.9 C205.2 476.3 206.9 474.6 209.4 473.8 C211.9 473.0 215.1 472.0 217.6 471.9 C220.1 471.8 222.3 472.4 224.5 473.1 C226.7 473.8 228.9 475.1 230.8 476.3 C232.7 477.5 234.3 478.9 235.8 480.1 C237.3 481.4 238.2 482.7 239.6 483.8 C241.0 484.9 243.3 486.5 244.0 487.0"/><path d="M143.0 471.0 C143.6 471.7 145.5 473.6 146.7 475.0 C147.9 476.4 149.0 478.0 150.1 479.5 C151.2 481.0 152.4 482.7 153.5 484.0 C154.6 485.3 155.8 486.1 156.9 487.4 C158.0 488.7 158.7 491.3 160.2 491.9 C161.7 492.4 163.9 491.1 165.8 490.7 C167.7 490.3 170.0 490.0 171.5 489.6 C173.0 489.2 173.8 488.9 175.0 488.5 C176.2 488.1 177.3 488.2 179.0 487.0 C180.7 485.8 183.4 481.9 184.9 481.2 C186.4 480.5 186.4 481.5 188.0 482.6 C189.6 483.7 191.9 485.9 194.3 487.6 C196.8 489.3 200.2 491.6 202.7 492.7 C205.2 493.8 206.9 493.7 209.4 493.9 C211.9 494.1 215.1 494.1 217.6 493.9 C220.1 493.7 222.1 493.2 224.5 492.7 C226.9 492.2 229.7 491.3 232.0 490.8 C234.3 490.3 236.3 489.4 238.3 489.5 C240.3 489.6 243.1 491.1 244.0 491.4"/><path d="M160.4 492.5 C161.1 493.2 163.2 495.7 164.7 496.9 C166.2 498.1 167.5 498.8 169.2 499.7 C170.9 500.6 173.1 502.1 175.0 502.5 C176.9 502.9 178.8 501.9 180.4 502.0 C182.1 502.1 183.6 502.6 184.9 503.1 C186.2 503.6 186.4 504.9 188.0 505.2 C189.6 505.4 191.9 504.9 194.3 504.6 C196.8 504.3 200.2 503.4 202.7 503.4 C205.2 503.4 206.9 504.1 209.4 504.6 C211.9 505.1 215.1 506.6 217.6 506.5 C220.1 506.4 222.1 505.1 224.5 504.0 C226.9 502.9 229.7 501.3 232.0 500.2 C234.3 499.1 236.3 497.9 238.3 497.1 C240.3 496.3 243.1 495.5 244.0 495.2"/><path d="M159.9 503.7 C160.9 503.7 163.9 503.8 165.8 503.7 C167.7 503.6 170.0 503.1 171.5 502.9 C173.0 502.7 173.7 501.9 175.0 502.5 C176.3 503.1 178.0 505.3 179.3 506.5 C180.6 507.7 181.6 508.4 182.7 509.8 C183.8 511.2 185.2 513.9 186.1 515.0 C187.0 516.1 186.6 515.9 188.0 516.6 C189.4 517.3 191.9 518.6 194.3 519.1 C196.8 519.6 200.0 519.7 202.7 519.7 C205.4 519.7 208.2 519.3 210.7 519.1 C213.2 518.9 215.3 518.7 217.6 518.5 C219.9 518.3 222.1 518.5 224.5 517.8 C226.9 517.0 229.7 515.5 232.0 514.0 C234.3 512.5 236.3 510.5 238.3 509.0 C240.3 507.5 243.1 505.8 244.0 505.2"/><path d="M154.0 473.0 C154.5 473.3 155.9 474.5 156.9 475.0 C157.9 475.5 159.1 476.1 160.2 476.1 C161.3 476.1 162.6 475.5 163.6 475.0 C164.6 474.5 165.6 473.3 166.0 473.0"/><path d="M139.1 537.4 C140.0 538.5 142.8 541.7 144.7 544.1 C146.6 546.5 148.4 549.4 150.3 552.0 C152.2 554.6 154.4 557.8 156.0 559.8 C157.6 561.8 158.2 563.5 159.9 564.3 C161.7 565.1 164.0 563.6 166.5 564.4 C169.0 565.2 172.4 568.3 175.0 568.9 C177.6 569.5 179.9 567.8 182.2 567.8 C184.5 567.8 186.3 568.3 188.9 568.9 C191.5 569.5 195.6 570.6 197.9 571.2 C200.2 571.8 200.7 571.7 202.9 572.3 C205.2 572.9 208.9 574.0 211.4 574.6 C213.9 575.2 215.1 576.3 217.7 576.1 C220.3 575.9 224.0 574.8 227.1 573.4 C230.2 572.0 233.3 569.4 236.1 567.8 C238.9 566.2 242.7 564.6 244.0 564.0"/><path d="M144.0 555.8 C145.1 556.9 148.6 560.0 150.7 562.2 C152.8 564.4 154.8 567.0 156.4 568.9 C158.0 570.8 158.3 573.2 160.0 573.9 C161.7 574.6 164.0 573.8 166.5 573.0 C169.0 572.2 172.4 569.0 175.0 568.9 C177.6 568.8 179.9 571.0 182.2 572.3 C184.5 573.6 187.0 575.5 188.9 576.8 C190.8 578.1 192.2 579.1 193.4 580.0 C194.6 580.9 195.6 581.7 196.0 582.0"/><path d="M153.0 581.0 C153.3 580.6 153.7 580.1 154.8 578.9 C156.0 577.7 159.1 574.7 159.9 573.9"/><path d="M148.0 583.0 C148.4 582.5 149.3 581.8 150.7 580.0 C152.1 578.2 154.8 574.9 156.4 572.3 C158.0 569.7 158.9 565.8 160.0 564.4 C161.1 563.0 162.5 563.9 163.0 563.8"/><path d="M220.0 583.0 C220.4 582.5 221.1 581.2 222.7 580.0 C224.3 578.8 226.8 576.6 229.4 575.7 C232.0 574.8 236.0 574.9 238.4 574.6 C240.8 574.3 243.1 574.0 244.0 573.9"/><path d="M240.0 424.5 C240.7 424.4 242.4 424.5 244.0 424.0 C245.6 423.5 247.7 422.3 249.6 421.7 C251.5 421.1 253.1 420.9 255.2 420.6 C257.3 420.3 259.8 420.2 262.0 420.1 C264.2 420.0 266.4 420.0 268.7 420.1 C270.9 420.2 273.4 420.0 275.5 420.6 C277.6 421.2 279.4 423.0 281.1 424.0 C282.8 425.0 284.5 426.3 285.6 426.8 C286.7 427.3 286.4 427.2 287.8 427.1 C289.2 427.0 292.0 426.5 294.0 426.2 C296.0 425.9 297.7 425.9 299.6 425.1 C301.5 424.4 303.3 422.6 305.2 421.7 C307.1 420.8 308.9 419.6 310.9 419.5 C312.9 419.4 315.1 420.8 317.0 421.2 C318.9 421.6 320.3 421.7 322.1 421.7 C323.9 421.7 325.8 421.4 327.7 421.2 C329.6 421.0 331.4 420.8 333.3 420.6 C335.2 420.4 337.2 420.3 339.0 420.1 C340.8 419.9 343.2 419.6 344.0 419.5"/><path d="M244.0 424.0 C244.9 423.9 247.7 423.3 249.6 423.4 C251.5 423.5 253.3 424.2 255.2 424.6 C257.1 425.0 259.0 425.8 260.9 425.7 C262.8 425.6 264.6 424.5 266.5 424.0 C268.4 423.5 270.2 422.9 272.1 422.9 C274.0 422.9 275.8 423.4 277.7 424.0 C279.6 424.6 281.6 425.7 283.3 426.2 C285.0 426.7 286.0 427.0 287.8 427.1 C289.6 427.2 292.0 426.8 294.0 426.6 C296.0 426.5 297.7 426.2 299.6 426.2 C301.5 426.2 303.3 426.6 305.2 426.8 C307.1 427.0 309.4 427.5 310.9 427.4 C312.4 427.3 313.2 426.9 314.2 426.2 C315.2 425.5 315.9 424.1 317.0 423.4 C318.1 422.6 319.2 421.9 321.0 421.7 C322.8 421.5 325.6 422.1 327.7 422.3 C329.8 422.5 331.4 423.0 333.3 422.9 C335.2 422.8 337.2 422.1 339.0 421.7 C340.8 421.3 343.2 420.8 344.0 420.6"/><path d="M240.0 428.0 C240.7 428.0 242.4 428.0 244.0 427.9 C245.6 427.8 247.7 427.3 249.6 427.4 C251.5 427.5 253.3 428.1 255.2 428.5 C257.1 428.9 259.0 429.3 260.9 429.6 C262.8 429.9 264.8 430.0 266.5 430.2 C268.2 430.4 269.5 430.2 271.0 430.7 C272.5 431.2 274.0 432.1 275.5 433.0 C277.0 433.9 278.5 435.2 280.0 436.3 C281.5 437.4 283.1 438.9 284.4 439.7 C285.7 440.5 286.7 441.5 287.8 441.1 C288.9 440.7 290.2 438.5 291.2 437.5 C292.2 436.5 292.8 436.3 294.0 435.2 C295.2 434.1 297.0 432.3 298.5 431.0 C300.0 429.7 301.5 428.8 303.0 427.4 C304.5 426.0 306.0 424.0 307.5 422.9 C309.0 421.8 310.4 420.8 312.0 420.6 C313.6 420.4 315.7 421.1 317.0 421.7 C318.3 422.3 318.8 423.1 319.8 424.0 C320.8 424.9 321.9 426.5 323.2 427.4 C324.5 428.2 326.2 428.6 327.7 429.1 C329.2 429.7 330.7 429.9 332.2 430.7 C333.7 431.5 335.2 433.0 336.7 434.1 C338.2 435.2 340.0 436.6 341.2 437.5 C342.4 438.4 343.5 438.9 344.0 439.2"/><path d="M244.0 424.6 C244.8 425.1 247.0 426.4 248.5 427.4 C250.0 428.4 251.5 429.5 253.0 430.7 C254.5 431.9 256.0 433.4 257.5 434.7 C259.0 436.0 260.5 437.7 262.0 438.6 C263.5 439.5 264.8 439.9 266.5 440.3 C268.2 440.7 270.2 440.7 272.1 440.8 C274.0 440.9 275.8 441.1 277.7 441.1 C279.6 441.2 281.6 441.1 283.3 441.1 C285.0 441.1 286.0 440.8 287.8 441.1 C289.6 441.4 293.0 442.8 294.0 443.1"/><path d="M294.0 435.5 C294.8 434.7 297.0 432.2 298.5 430.7 C300.0 429.1 301.5 427.6 303.0 426.2 C304.5 424.8 306.0 423.0 307.5 422.0 C309.0 421.0 310.4 420.2 312.0 420.0 C313.6 419.8 315.5 420.1 317.0 420.6 C318.5 421.1 319.6 422.0 321.0 422.9 C322.4 423.8 324.0 424.9 325.5 426.2 C327.0 427.5 328.5 429.2 330.0 430.7 C331.5 432.2 332.9 434.1 334.4 435.2 C335.9 436.3 337.4 436.9 339.0 437.5 C340.6 438.1 343.2 438.4 344.0 438.6"/><path d="M240.0 457.0 C240.7 456.5 242.4 455.0 244.0 453.8 C245.6 452.6 247.7 451.0 249.6 449.8 C251.5 448.6 253.3 447.4 255.2 446.5 C257.1 445.6 259.0 444.8 260.9 444.2 C262.8 443.6 264.6 443.4 266.5 443.1 C268.4 442.8 270.2 442.5 272.1 442.3 C274.0 442.1 275.8 441.9 277.7 441.7 C279.6 441.5 281.6 441.5 283.3 441.4 C285.0 441.3 287.1 441.2 287.8 441.1"/><path d="M256.0 457.0 C256.4 456.7 257.2 455.8 258.6 455.0 C260.0 454.2 262.1 453.2 264.2 452.1 C266.3 451.1 268.8 449.8 271.0 448.7 C273.2 447.6 275.6 446.2 277.7 445.3 C279.8 444.4 281.6 443.8 283.3 443.1 C285.0 442.5 287.1 441.7 287.8 441.4"/><path d="M281.0 457.0 C281.4 456.7 282.2 455.8 283.3 455.0 C284.4 454.2 286.3 452.4 287.8 452.1 C289.3 451.8 291.3 452.7 292.3 453.2 C293.3 453.7 293.4 454.4 294.0 455.0 C294.6 455.6 295.7 456.7 296.0 457.0"/><path d="M287.8 441.1 C288.3 441.4 290.0 442.3 291.0 442.8 C292.0 443.3 292.8 443.5 294.0 444.2 C295.2 444.9 297.0 446.1 298.5 447.0 C300.0 447.9 301.5 448.9 303.0 449.8 C304.5 450.7 306.0 451.5 307.5 452.1 C309.0 452.7 310.4 452.9 312.0 453.2 C313.6 453.5 315.3 454.0 317.0 453.8 C318.7 453.6 320.3 452.6 322.1 452.1 C323.9 451.6 325.8 451.0 327.7 451.0 C329.6 451.0 331.4 451.6 333.3 452.1 C335.2 452.6 337.2 453.3 339.0 453.8 C340.8 454.3 343.2 454.8 344.0 455.0"/><path d="M298.0 458.0 C298.3 457.5 298.6 456.6 299.6 455.0 C300.6 453.4 302.6 450.7 304.1 448.7 C305.6 446.7 307.3 444.8 308.6 443.1 C309.9 441.4 310.6 439.8 312.0 438.6 C313.4 437.4 315.3 436.3 317.0 436.1 C318.7 435.9 320.5 436.7 322.1 437.5 C323.7 438.3 325.1 439.7 326.6 440.8 C328.1 441.9 329.4 443.5 331.1 444.2 C332.8 444.9 335.0 444.4 336.7 444.8 C338.4 445.2 340.0 446.0 341.2 446.5 C342.4 447.0 343.5 447.4 344.0 447.6"/><path d="M300.0 458.0 C300.3 457.5 300.8 456.6 301.9 455.0 C303.0 453.4 304.9 450.8 306.4 448.7 C307.9 446.6 309.6 444.3 310.9 442.5 C312.2 440.7 313.2 438.9 314.2 438.0 C315.2 437.1 315.9 437.0 317.0 437.0 C318.1 437.0 319.6 437.2 321.0 438.0 C322.4 438.8 324.0 440.8 325.5 441.9 C327.0 443.0 328.5 444.2 330.0 444.8 C331.5 445.4 332.9 444.8 334.4 445.3 C335.9 445.8 337.4 447.0 339.0 447.6 C340.6 448.2 343.2 448.5 344.0 448.7"/><path d="M240.0 451.0 C240.7 451.3 242.6 452.1 244.0 452.8 C245.4 453.5 246.8 454.4 248.5 455.1 C250.2 455.9 252.2 457.2 254.1 457.3 C256.0 457.4 258.0 456.5 259.7 455.6 C261.4 454.8 262.7 453.1 264.2 452.2 C265.7 451.3 267.6 450.9 268.7 450.0 C269.8 449.1 270.6 447.5 271.0 447.0"/><path d="M240.0 455.0 C240.7 454.7 242.6 454.0 244.0 453.4 C245.4 452.8 247.2 451.7 248.5 451.1 C249.8 450.5 251.0 450.5 251.9 450.0 C252.8 449.5 253.7 448.3 254.0 448.0"/><path d="M240.0 476.5 C240.7 476.4 242.6 476.1 244.0 475.8 C245.4 475.5 247.0 475.6 248.5 474.7 C250.0 473.8 251.3 472.1 253.0 470.2 C254.7 468.3 256.7 465.6 258.6 463.5 C260.5 461.4 262.1 459.4 264.2 457.9 C266.3 456.4 268.8 455.0 271.0 454.5 C273.2 454.0 275.8 455.3 277.7 455.1 C279.6 454.9 280.5 453.9 282.2 453.4 C283.9 452.9 286.3 452.3 287.8 452.2 C289.3 452.1 290.2 452.4 291.2 452.8 C292.2 453.2 293.0 453.9 294.0 454.5 C295.0 455.1 296.3 456.1 297.4 456.7 C298.5 457.3 299.4 457.9 300.7 458.4 C302.0 458.9 303.5 459.7 305.2 459.6 C306.9 459.5 308.9 458.6 310.9 457.9 C312.9 457.1 314.9 456.1 317.0 455.1 C319.1 454.2 321.2 452.9 323.2 452.2 C325.2 451.5 326.9 451.0 328.8 451.1 C330.7 451.2 332.7 452.1 334.4 452.8 C336.1 453.5 337.4 454.6 339.0 455.1 C340.6 455.6 343.2 455.5 344.0 455.6"/><path d="M248.5 474.7 C249.4 473.8 252.2 470.8 254.1 469.1 C256.0 467.4 257.6 465.9 259.7 464.6 C261.8 463.3 264.2 462.2 266.5 461.2 C268.8 460.2 270.9 459.3 273.2 458.4 C275.4 457.5 278.1 456.4 280.0 455.6 C281.9 454.8 283.1 454.0 284.4 453.4 C285.7 452.8 286.7 452.1 287.8 452.2 C288.9 452.3 290.0 453.1 291.0 454.0 C292.0 454.9 292.9 457.4 294.0 457.9 C295.1 458.3 296.3 457.4 297.4 456.7 C298.5 455.9 299.6 454.4 300.7 453.4 C301.8 452.4 302.4 450.8 304.1 450.6 C305.8 450.4 308.8 451.4 310.9 452.2 C313.0 452.9 314.9 454.2 317.0 455.1 C319.1 456.0 321.2 456.8 323.2 457.3 C325.2 457.8 326.9 458.1 328.8 458.1 C330.7 458.1 332.7 457.8 334.4 457.3 C336.1 456.8 337.4 455.8 339.0 455.1 C340.6 454.5 343.2 453.7 344.0 453.4"/><path d="M240.0 487.0 C240.7 486.9 242.4 486.7 244.0 486.5 C245.6 486.3 247.7 487.2 249.6 486.0 C251.5 484.8 253.3 481.2 255.2 479.2 C257.1 477.2 259.0 475.3 260.9 474.2 C262.8 473.1 264.4 473.0 266.5 472.5 C268.6 472.0 271.3 471.6 273.2 471.3 C275.1 471.0 276.2 470.4 277.7 470.8 C279.2 471.2 280.9 472.4 282.2 473.6 C283.5 474.8 284.7 476.8 285.6 478.1 C286.5 479.4 286.9 480.4 287.8 481.5 C288.7 482.6 290.2 483.7 291.2 484.8 C292.2 485.9 293.2 487.2 294.0 488.2 C294.8 489.2 295.7 490.5 296.0 491.0"/><path d="M244.0 486.5 C245.1 486.3 248.4 485.9 250.7 485.4 C252.9 484.9 255.2 484.3 257.5 483.7 C259.8 483.1 262.1 482.6 264.2 482.0 C266.2 481.4 268.1 480.6 269.8 479.8 C271.5 479.1 272.8 477.7 274.3 477.5 C275.8 477.3 277.3 478.2 278.8 478.7 C280.3 479.2 281.8 479.6 283.3 480.3 C284.8 481.0 286.5 483.2 287.8 482.6 C289.1 482.1 290.2 478.8 291.2 477.0 C292.2 475.2 292.8 472.4 294.0 471.9 C295.2 471.4 297.0 472.8 298.5 474.2 C300.0 475.6 301.5 478.5 303.0 480.3 C304.5 482.1 306.2 483.5 307.5 484.8 C308.8 486.1 310.0 487.3 310.9 488.2 C311.8 489.1 312.4 489.4 313.1 490.0 C313.8 490.6 314.7 491.7 315.0 492.0"/><path d="M240.0 489.5 C240.7 489.4 242.2 489.2 244.0 488.8 C245.8 488.4 248.3 487.5 250.7 487.1 C253.1 486.7 256.0 486.5 258.6 486.5 C261.2 486.5 263.9 486.8 266.5 486.9 C269.1 487.0 271.9 487.1 274.3 487.1 C276.7 487.1 278.9 487.2 281.1 487.1 C283.4 487.0 285.7 486.7 287.8 486.5 C289.9 486.3 293.0 486.1 294.0 486.0"/><path d="M291.0 483.0 C291.5 482.6 292.6 481.8 294.0 480.3 C295.4 478.8 297.7 475.8 299.6 474.2 C301.5 472.6 303.3 471.1 305.2 470.8 C307.1 470.5 308.9 471.5 310.9 472.5 C312.9 473.5 314.9 477.0 317.0 477.0 C319.1 477.0 321.2 473.7 323.2 472.5 C325.2 471.3 326.9 470.0 328.8 469.7 C330.7 469.4 332.7 470.1 334.4 470.8 C336.1 471.5 337.4 473.0 339.0 473.6 C340.6 474.2 343.2 474.5 344.0 474.7"/><path d="M294.0 483.7 C294.9 483.6 297.7 483.1 299.6 483.1 C301.5 483.1 303.7 483.2 305.2 483.7 C306.7 484.2 307.5 486.2 308.6 486.0 C309.7 485.8 310.6 484.1 312.0 482.6 C313.4 481.1 315.5 477.6 317.0 477.0 C318.5 476.4 319.6 478.6 321.0 479.2 C322.4 479.8 323.8 480.7 325.5 480.9 C327.2 481.1 329.2 480.3 331.1 480.3 C333.0 480.3 335.2 480.5 336.7 480.9 C338.2 481.3 338.9 482.0 340.1 482.6 C341.3 483.2 343.4 484.4 344.0 484.8"/><path d="M320.0 492.0 C320.4 491.7 320.8 490.6 322.1 490.0 C323.4 489.4 325.8 489.1 327.7 488.2 C329.6 487.3 331.8 485.9 333.3 484.8 C334.8 483.7 335.4 482.2 336.7 481.5 C338.0 480.8 340.0 480.6 341.2 480.3 C342.4 480.0 343.5 479.9 344.0 479.8"/><path d="M240.0 490.0 C240.7 489.9 242.4 489.9 244.0 489.5 C245.6 489.1 247.3 488.2 249.6 487.8 C251.8 487.4 254.7 487.2 257.5 487.0 C260.3 486.8 263.5 486.7 266.5 486.7 C269.5 486.7 272.7 486.9 275.5 487.0 C278.3 487.1 281.2 487.2 283.3 487.2 C285.4 487.1 286.5 486.6 287.8 486.7 C289.1 486.8 290.2 487.3 291.2 487.8 C292.2 488.3 293.2 488.9 294.0 489.5 C294.8 490.1 295.2 490.6 296.0 491.5 C296.8 492.4 297.3 494.6 298.5 494.6 C299.7 494.6 301.5 493.0 303.0 491.7 C304.5 490.4 306.2 487.2 307.5 486.7 C308.8 486.2 309.3 488.0 310.9 488.9 C312.5 489.8 314.9 492.1 317.0 492.3 C319.1 492.5 321.4 490.8 323.2 490.1 C325.0 489.5 326.4 488.3 327.7 488.4 C329.0 488.5 330.0 489.8 331.1 490.6 C332.2 491.4 333.1 493.3 334.4 493.4 C335.7 493.5 337.4 491.8 339.0 491.2 C340.6 490.6 343.2 489.8 344.0 489.5"/><path d="M244.0 489.5 C244.9 489.6 247.3 489.8 249.6 490.1 C251.8 490.4 254.7 490.8 257.5 491.2 C260.3 491.6 263.9 491.9 266.5 492.3 C269.1 492.7 270.9 493.5 273.2 493.4 C275.4 493.3 277.6 492.7 280.0 491.7 C282.4 490.7 286.0 488.1 287.8 487.2 C289.6 486.3 290.0 486.3 291.0 486.3 C292.0 486.3 292.8 487.3 294.0 487.2 C295.2 487.1 297.4 486.0 298.5 485.6 C299.6 485.2 299.9 485.4 300.7 485.0 C301.4 484.6 302.6 483.3 303.0 483.0"/><path d="M305.0 483.0 C305.4 483.3 306.5 484.1 307.5 485.0 C308.5 485.9 309.3 487.3 310.9 488.4 C312.5 489.5 314.9 491.5 317.0 491.7 C319.1 491.9 321.2 490.3 323.2 489.5 C325.2 488.7 327.5 487.4 328.8 486.7 C330.1 485.9 330.4 485.6 331.1 485.0 C331.8 484.4 332.7 483.3 333.0 483.0"/><path d="M240.0 494.5 C240.7 494.6 242.6 494.8 244.0 495.1 C245.4 495.4 247.0 495.8 248.5 496.2 C250.0 496.6 251.3 497.1 253.0 497.4 C254.7 497.7 256.7 497.5 258.6 497.9 C260.5 498.3 262.3 498.8 264.2 499.6 C266.1 500.5 267.9 501.7 269.8 503.0 C271.7 504.3 273.6 506.0 275.5 507.5 C277.4 509.0 279.1 510.6 281.1 512.0 C283.2 513.4 286.1 515.7 287.8 515.9 C289.5 516.1 290.2 514.0 291.2 513.1 C292.2 512.2 292.6 511.3 294.0 510.8 C295.4 510.3 297.7 510.6 299.6 510.3 C301.5 510.0 303.3 509.9 305.2 509.2 C307.1 508.5 308.9 507.1 310.9 506.3 C312.9 505.5 315.1 504.2 317.0 504.1 C318.9 504.0 320.3 505.2 322.1 505.8 C323.9 506.4 325.8 507.2 327.7 508.0 C329.6 508.8 331.4 509.8 333.3 510.8 C335.2 511.8 337.2 513.5 339.0 514.2 C340.8 514.9 343.2 514.7 344.0 514.8"/><path d="M244.0 495.1 C244.8 495.4 247.0 496.1 248.5 496.8 C250.0 497.6 251.3 498.9 253.0 499.6 C254.7 500.4 256.7 500.9 258.6 501.3 C260.5 501.7 262.3 501.4 264.2 501.9 C266.1 502.4 267.9 503.1 269.8 504.1 C271.7 505.1 273.6 506.6 275.5 508.0 C277.4 509.4 279.1 511.2 281.1 512.5 C283.2 513.8 286.1 514.9 287.8 515.9 C289.5 516.9 290.2 517.7 291.2 518.7 C292.2 519.7 293.0 521.1 294.0 522.1 C295.0 523.1 296.5 524.5 297.0 525.0"/><path d="M240.0 505.0 C240.7 504.9 242.6 504.8 244.0 504.7 C245.4 504.6 247.0 503.9 248.5 504.1 C250.0 504.3 251.3 505.0 253.0 505.8 C254.7 506.6 256.7 508.2 258.6 509.2 C260.5 510.2 262.1 511.0 264.2 512.0 C266.3 513.0 268.8 514.4 271.0 515.3 C273.2 516.2 275.6 517.3 277.7 517.6 C279.8 517.9 281.6 517.3 283.3 517.0 C285.0 516.7 286.5 516.9 287.8 515.9 C289.1 514.9 290.2 512.5 291.2 510.8 C292.2 509.1 292.8 506.8 294.0 505.8 C295.2 504.8 296.6 504.2 298.5 504.7 C300.4 505.2 303.1 508.4 305.2 508.6 C307.3 508.8 308.9 506.7 310.9 505.8 C312.9 504.9 315.1 503.6 317.0 503.5 C318.9 503.4 320.3 504.5 322.1 505.2 C323.9 505.9 325.8 507.7 327.7 507.5 C329.6 507.3 331.6 504.4 333.3 504.1 C335.0 503.8 336.5 504.9 337.8 505.8 C339.1 506.7 340.2 508.5 341.2 509.7 C342.2 510.9 343.5 512.5 344.0 513.1"/><path d="M244.0 504.7 C244.6 504.8 246.3 504.5 247.4 505.2 C248.5 505.9 249.4 507.1 250.7 508.6 C252.0 510.1 253.5 512.3 255.2 514.2 C256.9 516.1 259.0 518.3 260.9 519.8 C262.8 521.3 264.6 522.5 266.5 523.2 C268.4 524.0 270.2 524.3 272.1 524.3 C274.0 524.3 275.8 524.0 277.7 523.2 C279.6 522.5 281.6 520.9 283.3 519.8 C285.0 518.7 286.5 516.9 287.8 516.5 C289.1 516.1 290.0 517.1 291.0 517.5 C292.0 517.9 292.6 519.1 294.0 518.7 C295.4 518.3 297.7 516.5 299.6 515.3 C301.5 514.1 303.3 511.4 305.2 511.4 C307.1 511.4 308.9 513.7 310.9 515.3 C312.9 516.9 314.9 520.8 317.0 521.0 C319.1 521.2 321.4 517.6 323.2 516.5 C325.0 515.4 326.0 514.7 327.7 514.2 C329.4 513.7 331.4 513.6 333.3 513.6 C335.2 513.6 337.2 514.0 339.0 514.2 C340.8 514.4 343.2 514.7 344.0 514.8"/><path d="M309.0 527.0 C309.5 526.7 310.7 526.0 312.0 525.0 C313.3 524.0 315.5 521.2 317.0 521.0 C318.5 520.8 319.8 523.0 321.0 524.0 C322.2 525.0 323.5 526.5 324.0 527.0"/><path d="M289.0 518.0 C289.4 518.3 289.7 518.9 291.2 520.0 C292.7 521.1 295.6 523.6 297.9 524.5 C300.1 525.4 302.4 525.8 304.7 525.6 C306.9 525.4 309.3 524.1 311.4 523.4 C313.4 522.6 315.1 521.1 317.0 521.1 C318.9 521.1 320.6 522.6 322.7 523.4 C324.8 524.1 326.8 525.6 329.4 525.6 C332.0 525.6 336.0 524.1 338.4 523.4 C340.8 522.6 343.1 521.5 344.0 521.1"/><path d="M240.0 566.5 C240.7 566.0 241.8 565.4 244.0 563.8 C246.2 562.2 249.6 559.5 253.0 557.1 C256.4 554.7 260.4 551.8 264.2 549.2 C267.9 546.6 271.6 543.5 275.5 541.3 C279.4 539.1 284.0 536.0 287.4 536.2 C290.8 536.4 293.2 539.6 295.7 542.5 C298.2 545.4 300.1 549.6 302.4 553.7 C304.6 557.8 307.3 563.6 309.2 567.2 C311.1 570.8 312.4 573.3 313.7 575.1 C315.0 576.9 316.1 577.2 317.0 578.0 C317.9 578.8 318.7 579.7 319.0 580.0"/><path d="M240.0 566.0 C240.7 566.0 242.2 565.9 244.0 566.1 C245.8 566.3 247.7 568.3 250.7 567.2 C253.7 566.1 258.2 562.3 262.0 559.3 C265.8 556.3 269.0 553.1 273.2 549.2 C277.4 545.4 284.0 537.0 287.4 536.2 C290.8 535.5 291.3 541.4 293.4 544.7 C295.5 548.0 297.9 551.9 300.2 556.0 C302.4 560.1 305.0 566.0 306.9 569.4 C308.8 572.8 310.3 574.6 311.4 576.2 C312.5 577.8 313.3 578.5 313.7 578.9"/><path d="M309.0 582.0 C309.4 581.5 310.2 580.2 311.4 578.9 C312.5 577.5 314.0 576.2 315.9 573.9 C317.8 571.6 320.4 567.9 322.7 564.9 C324.9 561.9 327.2 559.0 329.4 556.0 C331.6 553.0 333.7 549.8 336.1 547.0 C338.5 544.2 342.7 540.4 344.0 539.1"/><path d="M315.0 582.0 C315.3 581.5 315.9 580.2 317.0 578.9 C318.1 577.5 319.8 576.2 321.5 573.9 C323.2 571.6 325.0 568.1 327.1 564.9 C329.2 561.7 331.6 558.2 333.9 554.8 C336.1 551.4 338.9 547.1 340.6 544.7 C342.3 542.3 343.4 541.0 344.0 540.2"/><path d="M240.0 576.0 C240.7 575.6 242.6 574.6 244.0 573.9 C245.4 573.2 247.0 571.7 248.5 571.7 C250.0 571.7 251.5 572.7 253.0 573.9 C254.5 575.1 256.5 577.7 257.5 578.9 C258.5 580.1 258.8 580.6 259.0 581.0"/><path d="M242.0 580.0 C242.3 579.4 243.2 577.4 244.0 576.5 C244.8 575.6 246.0 574.2 247.0 574.5 C248.0 574.8 249.2 576.9 250.0 578.0 C250.8 579.1 251.7 580.5 252.0 581.0"/><path d="M340.0 420.3 C340.7 420.2 342.3 419.7 344.0 419.5 C345.7 419.3 347.2 418.3 350.0 418.9 C352.8 419.5 357.6 421.5 361.0 422.9 C364.4 424.3 367.4 426.3 370.4 427.5 C373.4 428.7 375.9 429.9 379.0 429.9 C382.1 429.9 385.9 428.3 389.1 427.5 C392.3 426.7 394.9 425.2 398.4 425.2 C401.9 425.2 406.6 428.1 410.1 427.5 C413.6 426.9 416.4 422.9 419.5 421.7 C422.6 420.5 425.2 420.1 428.8 420.5 C432.4 420.9 439.0 423.4 441.0 424.0"/><path d="M340.0 439.2 C340.7 439.2 342.3 439.0 344.0 439.2 C345.7 439.4 347.2 440.8 350.0 440.4 C352.8 440.0 357.6 438.1 361.0 436.9 C364.4 435.7 367.4 434.4 370.4 433.4 C373.4 432.4 375.9 431.5 379.0 431.0 C382.1 430.5 385.5 430.9 389.1 430.6 C392.7 430.3 397.3 429.7 400.8 429.2 C404.3 428.7 407.4 426.8 410.1 427.5 C412.8 428.2 414.4 431.6 417.1 433.4 C419.8 435.1 422.5 437.2 426.5 438.0 C430.5 438.8 438.6 438.0 441.0 438.0"/><path d="M340.0 447.4 C340.8 447.6 343.0 448.6 344.7 448.6 C346.4 448.6 348.1 447.4 350.0 447.4 C351.9 447.4 354.2 449.2 356.4 448.6 C358.6 448.0 360.7 445.8 363.4 443.9 C366.1 441.9 370.1 438.3 372.7 436.9 C375.3 435.5 377.1 435.1 379.0 435.7 C380.9 436.3 382.3 438.1 384.4 440.4 C386.5 442.7 388.7 445.4 391.4 449.7 C394.1 454.0 397.7 464.2 400.8 466.1 C403.9 468.1 407.0 463.1 410.1 461.4 C413.2 459.6 416.4 457.6 419.5 455.6 C422.6 453.7 425.2 451.6 428.8 449.7 C432.4 447.8 439.0 444.9 441.0 443.9"/><path d="M340.0 454.4 C340.8 454.6 343.0 455.0 344.7 455.6 C346.4 456.2 347.7 458.3 350.0 457.9 C352.3 457.5 355.7 454.8 358.7 453.2 C361.7 451.6 364.6 449.8 368.0 448.6 C371.4 447.4 375.5 445.6 379.0 446.2 C382.5 446.8 385.9 450.2 389.1 452.1 C392.3 454.1 394.9 456.3 398.4 457.9 C401.9 459.4 407.0 460.0 410.1 461.4 C413.2 462.8 414.4 465.1 417.1 466.1 C419.8 467.1 423.8 468.1 426.5 467.3 C429.2 466.5 431.1 463.2 433.5 461.4 C435.9 459.6 439.8 457.5 441.0 456.7"/><path d="M340.0 475.4 C340.7 475.3 342.3 475.0 344.0 474.8 C345.7 474.6 347.6 473.8 350.0 474.3 C352.4 474.8 355.3 478.2 358.7 477.8 C362.1 477.4 367.0 472.9 370.4 471.9 C373.8 470.9 375.9 471.3 379.0 471.9 C382.1 472.5 386.2 474.0 389.1 475.4 C392.0 476.8 394.5 478.8 396.1 480.1 C397.8 481.4 398.5 482.5 399.0 483.0"/><path d="M396.1 480.1 C396.5 480.2 397.1 479.9 398.4 480.5 C399.7 481.1 402.1 482.6 404.0 484.0 C405.9 485.4 407.5 489.1 410.1 488.7 C412.7 488.3 416.4 484.0 419.5 481.7 C422.6 479.4 426.5 476.6 428.8 474.7 C431.1 472.8 432.1 471.6 433.5 470.0 C434.9 468.4 435.8 466.7 437.0 465.0 C438.2 463.3 440.3 460.8 441.0 460.0"/><path d="M340.0 488.7 C340.7 488.9 342.3 489.6 344.0 490.0 C345.7 490.4 347.6 491.6 350.0 491.0 C352.4 490.4 355.3 485.6 358.7 486.4 C362.1 487.2 367.0 494.5 370.4 495.7 C373.8 496.9 375.9 494.0 379.0 493.4 C382.1 492.8 385.5 493.4 389.1 492.2 C392.7 491.0 397.3 487.0 400.8 486.4 C404.3 485.8 407.8 488.1 410.1 488.7 C412.4 489.3 412.5 490.7 414.8 489.9 C417.1 489.1 421.0 484.4 424.1 484.0 C427.2 483.6 430.7 486.3 433.5 487.5 C436.3 488.7 439.8 490.4 441.0 491.0"/><path d="M340.0 479.0 C340.7 479.8 342.3 482.0 344.0 484.0 C345.7 486.0 349.0 489.8 350.0 491.0"/><path d="M340.0 512.1 C340.7 512.2 342.3 512.6 344.0 512.8 C345.7 513.0 347.6 513.7 350.0 513.2 C352.4 512.7 355.3 511.4 358.7 509.7 C362.1 507.9 367.0 503.3 370.4 502.7 C373.8 502.1 375.9 506.0 379.0 506.2 C382.1 506.4 385.5 504.5 389.1 503.9 C392.7 503.3 397.3 503.1 400.8 502.7 C404.3 502.3 407.0 500.7 410.1 501.5 C413.2 502.3 416.4 505.8 419.5 507.4 C422.6 509.0 425.2 510.1 428.8 510.9 C432.4 511.7 439.0 511.9 441.0 512.1"/><path d="M340.0 519.1 C340.7 518.7 342.3 517.3 344.0 516.5 C345.7 515.7 347.6 514.0 350.0 514.4 C352.4 514.8 355.3 518.1 358.7 519.1 C362.1 520.1 367.0 520.2 370.4 520.2 C373.8 520.2 375.9 519.5 379.0 519.1 C382.1 518.7 385.5 519.5 389.1 517.9 C392.7 516.3 397.3 512.4 400.8 509.7 C404.3 507.0 407.8 503.1 410.1 501.5 C412.4 499.9 412.5 499.2 414.8 500.4 C417.1 501.6 421.0 506.3 424.1 508.6 C427.2 510.9 430.7 513.2 433.5 514.4 C436.3 515.6 439.8 515.4 441.0 515.6"/><path d="M340.0 514.0 C340.7 514.1 342.3 514.1 344.0 514.5 C345.7 514.9 348.0 515.8 350.0 516.5 C352.0 517.2 355.0 518.2 356.0 518.5"/><path d="M342.0 542.0 C342.4 541.7 343.5 540.8 344.7 540.1 C345.9 539.4 347.8 538.0 349.3 537.8 C350.9 537.6 352.8 538.5 354.0 538.9 C355.2 539.3 355.7 539.6 356.4 540.1 C357.1 540.6 357.7 541.7 358.0 542.0"/><path d="M358.0 518.0 C358.5 518.3 359.7 519.5 361.0 520.0 C362.3 520.5 364.1 521.0 365.7 521.2 C367.3 521.4 368.8 521.4 370.4 521.2 C371.9 521.0 373.9 520.5 375.0 520.0 C376.1 519.5 376.7 518.3 377.0 518.0"/><path d="M344.0 539.1 C345.0 538.6 347.9 535.8 350.0 535.9 C352.1 536.0 354.2 537.5 356.4 539.9 C358.6 542.3 361.1 546.7 363.4 550.4 C365.7 554.1 367.8 557.9 370.4 562.1 C373.0 566.3 376.3 573.7 379.0 575.6 C381.7 577.5 383.8 574.9 386.7 573.8 C389.6 572.7 393.4 570.1 396.1 569.1 C398.8 568.1 400.8 567.9 403.1 567.9 C405.4 567.9 408.2 568.1 410.1 569.1 C412.1 570.1 413.1 572.2 414.8 573.8 C416.6 575.3 419.2 577.2 420.6 578.4 C422.0 579.6 422.6 580.6 423.0 581.0"/><path d="M344.0 540.2 C345.0 539.7 347.9 537.0 350.0 537.0 C352.1 537.0 354.2 538.2 356.4 540.5 C358.6 542.8 361.1 547.3 363.4 551.0 C365.7 554.7 367.8 558.5 370.4 562.7 C373.0 566.9 377.6 573.8 379.0 576.0"/><path d="M382.0 581.0 C382.4 580.6 382.4 579.4 384.4 578.4 C386.4 577.4 391.1 576.0 393.8 574.9 C396.5 573.8 398.1 572.9 400.8 571.9 C403.5 570.9 407.4 571.1 410.1 569.1 C412.8 567.1 414.8 562.6 417.1 559.7 C419.4 556.8 421.8 554.0 424.1 551.5 C426.4 549.0 428.3 546.0 431.1 544.5 C433.9 543.0 439.4 542.6 441.0 542.2"/><path d="M386.0 581.0 C387.3 580.4 391.1 578.7 393.8 577.5 C396.5 576.3 399.3 575.3 402.0 574.0 C404.7 572.7 408.8 570.3 410.1 569.6"/><path d="M64.9 6.0 C65.9 7.2 69.1 10.9 71.1 13.0 C73.1 15.1 74.8 16.7 76.7 18.6 C78.6 20.5 80.5 22.2 82.3 24.2 C84.1 26.1 85.2 29.2 87.4 30.3 C89.6 31.4 92.6 30.6 95.2 30.8 C97.8 31.0 101.2 31.2 103.1 31.4 C105.0 31.6 105.4 32.1 106.5 32.2 C107.6 32.3 108.8 32.4 109.8 32.0 C110.8 31.6 111.8 30.8 112.7 29.7 C113.6 28.6 114.2 26.9 114.9 25.2 C115.6 23.5 116.3 21.1 117.1 19.6 C117.8 18.1 118.7 16.9 119.4 16.2 C120.2 15.5 120.8 15.5 121.6 15.7 C122.3 15.9 123.1 16.8 123.9 17.4 C124.8 17.9 125.7 18.7 126.7 19.0 C127.7 19.3 128.8 19.0 130.1 19.2 C131.4 19.4 133.0 20.1 134.5 20.2 C136.0 20.3 137.3 19.9 139.0 19.6 C140.7 19.3 142.7 19.0 144.6 18.5 C146.5 18.0 148.3 17.1 150.2 16.8 C152.1 16.5 154.1 16.5 155.8 16.8 C157.5 17.1 159.0 17.6 160.3 18.5 C161.6 19.4 162.4 20.7 163.7 21.9 C165.0 23.1 166.7 24.8 168.2 25.8 C169.7 26.8 171.6 27.5 172.7 28.0 C173.8 28.5 173.6 28.8 175.0 28.6 C176.4 28.4 179.2 27.4 181.3 27.0 C183.4 26.6 185.5 26.4 187.6 26.2 C189.7 25.9 191.4 26.0 193.9 25.5 C196.4 25.0 200.0 24.0 202.5 23.1 C205.0 22.2 206.3 20.7 208.8 19.9 C211.3 19.1 215.3 19.0 217.5 18.4 C219.7 17.8 220.1 16.3 222.2 16.0 C224.3 15.7 227.5 16.5 230.1 16.8 C232.7 17.1 235.4 17.3 237.9 17.6 C240.4 17.9 243.8 18.3 245.0 18.4"/><path d="M45.0 21.4 C45.7 21.2 48.2 20.8 49.4 20.5 C50.6 20.2 51.3 19.7 52.1 19.5 C52.9 19.3 53.2 19.0 54.1 19.2 C55.0 19.4 56.5 19.9 57.5 20.5 C58.5 21.1 59.1 22.4 60.2 22.9 C61.3 23.3 63.0 22.9 64.2 23.2 C65.4 23.5 66.5 23.8 67.6 24.6 C68.7 25.4 69.8 26.6 71.0 27.9 C72.2 29.1 73.2 30.2 74.5 32.1 C75.8 34.0 77.5 37.5 78.8 39.5 C80.1 41.5 81.1 43.1 82.2 44.0 C83.3 44.9 84.6 45.1 85.6 45.1 C86.6 45.1 86.8 44.2 88.4 44.0 C90.0 43.8 92.7 44.1 95.2 43.8 C97.8 43.5 101.8 42.6 103.7 42.1 C105.6 41.6 105.3 41.6 106.5 41.0 C107.7 40.4 109.5 39.2 111.0 38.7 C112.5 38.2 113.8 38.3 115.5 38.1 C117.2 37.9 119.2 37.9 121.1 37.6 C123.0 37.3 125.3 36.7 126.9 36.2 C128.5 35.7 129.3 35.1 130.8 34.5 C132.3 33.9 134.0 33.4 135.8 32.8 C137.6 32.2 139.8 31.5 141.5 31.1 C143.2 30.7 144.9 30.8 146.0 30.6 C147.1 30.4 147.5 30.2 148.2 30.0 C148.9 29.8 149.1 30.0 150.2 29.2 C151.3 28.4 153.4 26.5 154.7 25.2 C156.0 23.9 157.1 22.3 158.1 21.3 C159.1 20.3 160.4 19.4 160.9 19.0"/><path d="M103.1 31.0 C104.2 30.7 107.9 29.6 109.8 29.2 C111.7 28.8 113.0 29.0 114.3 28.6 C115.6 28.2 116.6 27.6 117.7 26.9 C118.8 26.1 120.0 24.9 121.1 24.1 C122.2 23.4 123.3 22.5 124.4 22.4 C125.5 22.3 126.9 23.1 127.8 23.5 C128.7 23.9 128.9 24.7 130.0 25.0 C131.1 25.3 132.8 25.2 134.5 25.2 C136.2 25.2 138.2 25.5 140.1 25.2 C142.0 24.9 143.8 24.2 145.7 23.5 C147.6 22.8 149.6 21.7 151.3 20.7 C153.0 19.7 154.5 17.9 155.8 17.4 C157.1 16.8 158.1 17.0 159.2 17.4 C160.3 17.8 161.3 18.6 162.6 19.6 C163.9 20.6 165.6 22.3 167.1 23.5 C168.6 24.7 170.3 26.0 171.6 26.9 C172.9 27.8 173.4 28.2 175.0 28.8 C176.6 29.4 179.2 30.2 181.3 30.2 C183.4 30.2 185.5 29.3 187.6 28.6 C189.7 27.9 192.1 26.5 193.9 26.2 C195.7 25.9 196.9 26.3 198.6 27.0 C200.3 27.7 202.3 30.2 204.1 30.2 C205.9 30.2 207.4 27.8 209.6 27.0 C211.8 26.2 215.1 25.4 217.5 25.5 C219.9 25.6 221.7 27.4 223.8 27.8 C225.9 28.2 227.8 28.5 230.1 27.8 C232.4 27.1 235.4 25.3 237.9 23.9 C240.4 22.5 243.8 20.0 245.0 19.2"/><path d="M119.5 6.0 C119.8 6.5 120.4 7.5 121.0 9.0 C121.6 10.5 122.3 13.5 123.3 15.1 C124.2 16.7 125.6 18.1 126.7 18.5 C127.8 18.9 128.9 18.0 130.0 17.5 C131.1 17.0 132.3 16.7 133.4 15.7 C134.5 14.7 135.8 12.9 136.7 11.7 C137.6 10.5 138.3 9.3 139.0 8.4 C139.7 7.5 140.4 6.4 140.7 6.0"/><path d="M140.7 6.0 C141.2 6.7 142.5 9.2 143.5 10.0 C144.5 10.8 145.8 10.8 146.9 10.6 C148.0 10.4 149.4 9.7 150.2 8.9 C151.0 8.1 151.6 6.5 151.9 6.0"/><path d="M127.8 23.5 C128.2 23.8 129.1 25.3 130.0 25.2 C130.9 25.1 132.3 24.1 133.4 23.0 C134.5 21.9 135.6 19.9 136.7 18.5 C137.8 17.1 139.1 15.4 140.1 14.6 C141.1 13.8 142.0 13.7 142.9 13.8 C143.8 13.9 144.7 14.4 145.7 15.1 C146.7 15.8 148.0 16.7 149.1 17.9 C150.2 19.1 151.7 21.5 152.5 22.4 C153.3 23.3 153.5 23.5 154.2 23.5 C154.9 23.5 156.1 22.9 156.9 22.4 C157.7 21.9 158.5 21.2 159.2 20.7 C159.9 20.2 160.6 19.6 160.9 19.4"/><path d="M103.1 53.9 C103.8 52.8 105.8 49.4 107.0 47.5 C108.2 45.6 108.8 43.6 110.0 42.4 C111.2 41.2 112.6 40.8 114.5 40.1 C116.4 39.4 119.1 38.6 121.2 38.4 C123.3 38.2 125.3 38.8 126.9 39.0 C128.5 39.2 129.3 39.6 130.8 39.4 C132.3 39.1 134.1 38.4 135.8 37.5 C137.6 36.6 139.6 35.0 141.3 34.0 C143.1 33.0 145.0 31.2 146.3 31.4 C147.6 31.6 148.2 33.7 149.1 35.3 C150.0 36.9 151.1 39.1 151.9 41.0 C152.7 42.9 152.9 44.6 153.8 46.9 C154.7 49.2 156.2 52.6 157.2 54.7 C158.2 56.8 158.4 58.8 160.0 59.5 C161.6 60.2 164.4 59.4 166.9 59.2 C169.4 59.1 172.9 59.3 174.9 58.6 C176.9 57.9 177.7 56.1 179.2 55.2 C180.7 54.3 182.0 53.3 183.7 53.0 C185.4 52.7 187.4 53.2 189.3 53.5 C191.2 53.8 192.7 54.5 194.9 54.7 C197.1 54.9 200.1 54.2 202.5 54.6 C204.9 55.0 207.1 56.2 209.6 56.9 C212.1 57.5 215.1 58.5 217.5 58.5 C219.9 58.5 222.0 56.8 223.8 56.9 C225.6 57.0 227.2 58.8 228.5 59.3 C229.8 59.8 230.0 59.4 231.6 60.1 C233.2 60.8 235.8 62.6 238.0 63.5 C240.2 64.4 243.8 65.3 245.0 65.7"/><path d="M45.0 39.5 C45.6 40.2 47.2 42.1 48.5 44.0 C49.8 45.9 51.7 48.7 53.0 50.7 C54.3 52.8 55.1 54.4 56.4 56.3 C57.7 58.2 59.4 61.5 60.9 62.0 C62.4 62.5 63.8 60.7 65.3 59.2 C66.8 57.7 68.3 54.7 69.8 53.0 C71.3 51.3 73.0 49.8 74.3 49.0 C75.6 48.2 76.4 48.2 77.7 48.5 C79.0 48.8 80.9 49.6 82.2 50.7 C83.5 51.8 84.6 54.0 85.6 55.2 C86.6 56.4 86.8 57.8 88.4 58.0 C90.0 58.2 92.8 57.4 95.2 56.7 C97.7 56.0 101.3 55.2 103.1 53.9 C104.9 52.6 104.9 50.4 106.0 49.0 C107.1 47.6 108.6 46.2 109.5 45.8 C110.4 45.4 110.7 45.9 111.5 46.6 C112.3 47.3 113.3 48.6 114.3 49.9 C115.3 51.2 116.4 53.3 117.7 54.4 C119.0 55.5 120.7 56.1 122.2 56.7 C123.7 57.3 125.7 57.5 126.7 57.8 C127.8 58.1 127.7 57.7 128.5 58.5 C129.3 59.3 130.1 61.6 131.3 62.6 C132.5 63.6 134.3 64.0 135.8 64.8 C137.3 65.6 139.0 66.5 140.3 67.6 C141.6 68.7 142.8 70.6 143.7 71.6 C144.6 72.6 145.2 72.4 146.0 73.5 C146.8 74.6 148.2 77.6 148.6 78.4"/><path d="M45.0 53.0 C45.6 52.9 47.4 52.6 48.5 52.4 C49.6 52.2 51.1 51.8 51.9 51.9 C52.7 52.0 53.2 53.0 53.5 53.2"/><path d="M45.0 62.5 C45.8 63.1 48.1 64.7 49.6 65.9 C51.1 67.1 52.6 69.2 54.1 69.8 C55.6 70.4 57.3 69.3 58.6 69.3 C59.9 69.3 60.9 69.3 62.0 69.8 C63.1 70.3 64.3 71.2 65.3 72.1 C66.3 73.0 67.2 74.0 68.2 75.0 C69.2 76.0 69.8 77.0 71.0 77.8 C72.2 78.6 74.2 80.0 75.5 80.1 C76.8 80.2 77.7 79.1 78.8 78.4 C79.9 77.7 80.9 77.1 82.2 76.1 C83.5 75.0 85.4 73.1 86.7 72.1 C88.0 71.0 88.9 70.6 90.1 69.8 C91.3 69.0 92.7 68.8 94.0 67.5 C95.3 66.2 96.5 64.3 98.0 62.0 C99.5 59.7 102.2 55.2 103.1 53.9"/><path d="M45.0 63.8 C45.8 64.4 48.1 66.0 49.6 67.2 C51.1 68.4 52.6 70.5 54.1 71.0 C55.6 71.5 57.3 70.6 58.6 70.5 C59.9 70.4 61.4 70.6 62.0 70.6"/><path d="M103.1 53.9 C103.6 54.5 104.8 56.4 106.0 57.5 C107.2 58.6 108.6 59.6 110.0 60.3 C111.4 61.0 113.0 60.8 114.5 61.5 C116.0 62.2 117.9 64.0 119.0 64.8 C120.1 65.6 120.5 66.5 121.2 66.5 C122.0 66.5 122.8 65.8 123.5 64.8 C124.2 63.8 125.0 61.8 125.7 60.3 C126.5 58.8 127.2 56.6 128.0 55.5 C128.8 54.4 129.9 53.6 130.8 53.6 C131.7 53.6 132.6 54.0 133.6 55.3 C134.6 56.6 135.9 59.4 137.0 61.5 C138.1 63.6 139.2 66.2 140.3 68.2 C141.4 70.2 142.8 72.2 143.7 73.3 C144.6 74.4 145.6 74.7 146.0 75.0"/><path d="M103.1 53.9 C103.7 54.7 105.3 56.9 106.5 58.5 C107.7 60.1 109.0 62.3 110.0 63.7 C111.0 65.1 111.5 65.8 112.2 67.1 C113.0 68.4 113.9 70.3 114.5 71.6 C115.1 72.9 115.3 74.0 115.6 75.0 C115.9 76.0 116.1 77.0 116.5 77.3 C116.9 77.6 117.7 77.2 118.2 76.7 C118.7 76.2 118.8 75.5 119.5 74.5 C120.2 73.5 121.4 71.3 122.4 70.4 C123.4 69.5 124.4 70.2 125.7 69.3 C127.0 68.4 128.9 65.8 130.2 64.8 C131.5 63.8 132.5 63.1 133.6 63.1 C134.7 63.1 135.9 63.8 137.0 64.8 C138.1 65.8 139.2 68.0 140.3 69.3 C141.4 70.6 142.6 72.0 143.7 72.7 C144.8 73.4 146.0 73.4 147.1 73.3 C148.2 73.2 148.8 72.9 150.0 72.1 C151.2 71.3 152.8 70.1 154.5 68.7 C156.2 67.3 158.0 64.9 160.1 63.7 C162.2 62.5 164.4 62.2 166.9 61.4 C169.4 60.5 172.9 58.6 174.9 58.6 C176.9 58.6 177.9 60.8 179.2 61.4 C180.5 62.0 181.3 62.4 182.6 62.0 C183.9 61.6 185.7 60.4 187.1 59.2 C188.5 58.0 189.7 56.7 191.0 54.7 C192.3 52.7 193.7 49.8 194.9 47.4 C196.1 45.0 197.0 42.5 198.3 40.6 C199.6 38.7 200.9 36.1 202.5 35.7 C204.1 35.3 206.0 36.8 208.0 38.0 C210.0 39.2 212.2 41.5 214.3 42.8 C216.4 44.1 218.5 44.3 220.6 45.9 C222.7 47.5 224.8 51.0 226.9 52.2 C229.0 53.4 231.4 52.5 233.2 53.0 C235.0 53.5 235.9 54.5 237.9 55.5 C239.9 56.5 243.8 58.7 245.0 59.3"/><path d="M146.0 71.0 C146.7 69.9 149.0 66.1 150.0 64.2 C151.0 62.3 151.3 60.8 152.2 59.7 C153.0 58.6 154.2 57.9 155.1 57.5 C155.9 57.1 156.5 57.0 157.3 57.5 C158.1 58.0 158.5 59.7 160.1 60.3 C161.7 60.9 164.4 61.3 166.9 61.0 C169.4 60.7 173.6 59.0 174.9 58.6"/><path d="M193.9 6.0 C194.6 7.0 196.2 10.6 197.8 12.1 C199.4 13.6 201.6 14.5 203.3 15.2 C205.0 15.8 206.6 16.2 208.0 16.0 C209.4 15.8 210.7 14.6 212.0 13.7 C213.3 12.8 214.5 11.4 215.9 10.5 C217.3 9.6 219.6 8.8 220.6 8.1 C221.6 7.3 221.9 6.3 222.2 6.0"/><path d="M45.0 8.2 C45.5 8.6 47.0 9.7 48.0 10.4 C49.0 11.1 49.9 11.8 50.7 12.4 C51.5 13.0 52.2 13.5 52.8 13.8 C53.4 14.2 54.2 14.4 54.5 14.5"/><path d="M45.0 17.5 C45.5 17.5 47.0 17.7 48.0 17.5 C49.0 17.3 49.9 17.0 50.7 16.5 C51.5 16.0 52.1 15.3 52.8 14.4 C53.5 13.5 54.2 12.1 54.8 11.1 C55.3 10.1 55.8 9.2 56.1 8.4 C56.4 7.6 56.7 6.8 56.8 6.5"/><path d="M45.0 19.2 C45.5 19.2 47.0 19.4 48.0 19.2 C49.0 19.0 49.8 18.6 50.7 17.8 C51.6 17.0 52.6 15.6 53.4 14.4 C54.2 13.2 54.9 11.7 55.5 10.4 C56.1 9.1 57.0 7.2 57.3 6.5"/><path d="M45.0 25.6 C45.5 25.3 47.0 24.5 48.0 23.9 C49.0 23.3 49.9 22.6 50.7 21.9 C51.5 21.2 52.1 20.6 52.8 19.8 C53.5 19.0 54.1 18.3 54.8 17.1 C55.5 15.9 56.2 13.9 56.8 12.4 C57.4 10.9 57.9 9.4 58.2 8.4 C58.6 7.4 58.8 6.8 58.9 6.5"/><path d="M45.0 26.8 C45.7 26.5 48.0 25.6 49.4 25.2 C50.8 24.8 52.0 24.5 53.4 24.2 C54.8 23.9 56.2 23.7 57.5 23.5 C58.8 23.3 60.3 23.0 60.9 22.9"/><path d="M45.0 33.0 C45.5 32.1 47.1 29.4 48.0 27.9 C48.9 26.4 49.5 25.0 50.1 23.9 C50.7 22.8 51.0 22.0 51.4 21.2 C51.8 20.4 52.4 19.8 52.8 19.2 C53.2 18.6 53.8 17.8 54.0 17.5"/><path d="M104.0 203.8 C104.7 203.1 106.6 201.8 107.9 199.8 C109.2 197.8 110.6 194.4 111.9 191.9 C113.2 189.4 114.4 186.7 115.9 185.0 C117.4 183.3 119.3 181.8 120.8 181.5 C122.3 181.2 123.5 182.1 124.8 183.0 C126.1 183.9 127.8 185.9 128.8 186.9 C129.8 187.9 130.0 188.5 131.0 189.0 C132.0 189.5 133.5 189.4 135.0 189.9 C136.5 190.4 138.2 190.7 139.9 191.9 C141.6 193.1 143.2 194.9 144.9 196.9 C146.6 198.9 148.3 201.7 149.8 203.8 C151.3 206.0 152.5 207.8 153.8 209.8 C155.1 211.8 156.7 213.9 157.8 215.7 C158.9 217.5 158.9 220.1 160.2 220.6 C161.5 221.1 163.9 219.2 165.8 218.4 C167.7 217.7 170.0 217.0 171.5 216.1 C173.0 215.2 174.4 213.6 175.0 213.1"/><path d="M103.6 223.3 C104.2 222.5 106.2 220.2 107.5 218.4 C108.8 216.6 110.2 214.6 111.5 212.5 C112.8 210.4 113.8 208.2 115.0 206.0 C116.2 203.8 117.4 201.5 118.5 199.5 C119.6 197.5 120.6 195.6 121.5 194.0 C122.4 192.4 122.8 191.1 123.8 189.9 C124.8 188.7 126.3 187.7 127.8 186.9 C129.3 186.1 131.0 185.6 132.7 185.0 C134.3 184.4 136.2 183.8 137.7 183.5 C139.2 183.2 140.5 182.8 141.7 183.0 C142.9 183.2 143.6 183.5 144.9 184.5 C146.2 185.5 148.3 187.2 149.8 188.9 C151.3 190.6 152.5 192.9 153.8 194.9 C155.1 196.9 156.7 199.1 157.8 200.8 C158.9 202.5 159.3 204.4 160.3 205.3 C161.3 206.2 162.5 205.7 163.7 206.3 C164.9 206.9 166.4 208.1 167.7 208.8 C169.0 209.6 170.5 210.1 171.7 210.8 C172.9 211.5 173.6 213.1 175.0 213.1 C176.4 213.1 178.8 211.3 180.4 210.9 C182.1 210.5 183.6 210.4 184.9 210.6 C186.2 210.8 187.2 212.1 188.0 212.3 C188.8 212.5 189.7 212.1 190.0 212.0"/><path d="M100.0 223.7 C100.7 223.6 102.8 222.9 104.0 223.2 C105.2 223.5 105.9 224.7 106.9 225.6 C107.9 226.5 108.9 228.4 109.9 228.6 C110.9 228.8 111.7 228.4 112.9 226.6 C114.1 224.8 115.6 220.5 116.9 217.7 C118.2 214.9 119.5 212.1 120.8 209.8 C122.1 207.5 123.6 205.3 124.8 203.8 C126.0 202.3 126.8 201.4 127.8 200.8 C128.8 200.2 130.0 200.2 131.0 200.2 C132.0 200.2 133.2 200.5 134.0 200.8 C134.8 201.1 135.3 200.8 136.0 201.8 C136.7 202.8 137.1 204.5 137.9 206.8 C138.7 209.1 139.9 212.9 140.9 215.7 C141.9 218.5 142.9 221.2 143.9 223.7 C144.9 226.2 145.9 228.7 146.9 230.6 C147.9 232.5 148.8 233.9 149.8 235.1 C150.8 236.2 152.3 237.1 152.8 237.5"/><path d="M106.7 265.0 C107.2 263.9 108.5 260.6 109.4 258.1 C110.3 255.6 111.2 252.3 112.1 250.1 C113.0 247.9 114.3 246.7 115.0 245.0 C115.7 243.3 116.1 241.6 116.4 240.0 C116.7 238.4 116.7 237.3 116.9 235.6 C117.2 233.9 117.4 232.2 117.9 229.6 C118.4 226.9 119.0 223.0 119.8 219.7 C120.6 216.4 122.0 212.3 122.8 209.8 C123.6 207.3 124.0 206.6 124.8 204.8 C125.6 203.1 126.8 200.9 127.8 199.3 C128.8 197.7 130.1 196.0 131.0 195.4 C131.9 194.8 132.2 195.0 133.0 195.9 C133.8 196.8 134.8 199.5 136.0 200.8 C137.2 202.1 138.4 202.9 139.9 203.8 C141.4 204.7 143.2 205.5 144.9 206.3 C146.6 207.1 148.2 208.1 149.8 208.8 C151.5 209.5 153.5 210.3 154.8 210.3 C156.1 210.3 156.9 209.6 157.8 208.8 C158.7 208.1 159.9 206.3 160.3 205.8"/><path d="M106.7 262.0 C107.2 260.7 108.6 256.5 109.4 254.1 C110.2 251.7 110.8 249.6 111.5 247.4 C112.2 245.2 112.8 243.2 113.5 241.0 C114.2 238.8 115.1 236.2 116.0 234.0 C116.9 231.8 117.8 229.5 118.8 227.5 C119.8 225.5 120.6 223.7 121.8 222.0 C123.0 220.3 124.3 218.7 125.8 217.5 C127.3 216.3 129.6 215.0 131.0 214.7 C132.4 214.4 132.8 215.0 134.0 215.7 C135.2 216.4 136.6 217.4 137.9 218.7 C139.2 220.0 140.6 221.9 141.9 223.7 C143.2 225.5 144.8 227.9 145.9 229.6 C147.1 231.2 148.0 232.5 148.8 233.6 C149.6 234.7 150.0 236.0 150.8 236.0 C151.6 236.0 152.8 234.6 153.8 233.6 C154.8 232.6 155.8 230.8 156.8 230.1 C157.8 229.3 158.7 229.0 159.8 229.1 C161.0 229.2 162.4 229.8 163.7 230.6 C165.0 231.3 166.4 232.6 167.7 233.6 C169.0 234.6 170.5 235.8 171.7 236.5 C172.9 237.2 173.6 237.7 175.0 238.0 C176.4 238.3 178.8 238.4 180.4 238.6 C182.1 238.8 183.3 239.1 184.9 239.2 C186.5 239.3 189.2 239.2 190.0 239.2"/><path d="M146.0 75.0 C146.4 75.6 147.7 77.6 148.6 78.4 C149.5 79.2 150.5 80.1 151.4 80.1 C152.3 80.1 153.4 79.2 154.2 78.4 C154.9 77.6 155.3 76.4 155.9 75.0 C156.5 73.6 156.8 71.9 157.5 70.0 C158.2 68.1 159.7 64.8 160.1 63.7"/><path d="M143.0 125.0 C143.6 124.3 145.2 121.9 146.3 121.1 C147.4 120.2 148.4 119.7 149.7 119.9 C151.0 120.1 152.9 121.5 154.2 122.2 C155.5 123.0 156.6 123.9 157.6 124.4 C158.6 125.0 159.6 125.3 160.0 125.5"/>
</g>
<line x1="45.2" y1="416.4" x2="441.1" y2="416.4" stroke="#222" stroke-width="1" stroke-dasharray="3.4 2.6"/>
<rect x="115" y="389.5" width="51.5" height="14.5" fill="#fff"/>
<text x="140.6" y="402" text-anchor="middle" style="font-size:14px">1.76 eV</text>
<g stroke="#333" stroke-width="1" stroke-dasharray="1.2 1"><line x1="142.6" y1="387" x2="142.6" y2="391"/><line x1="142.6" y1="402.5" x2="142.6" y2="409.5"/></g>
<path d="M140.3 386.8 L142.6 382.5 L144.9 386.8 Z M140.3 409.6 L142.6 414 L144.9 409.6 Z" fill="#111" stroke="#555" stroke-width="0.5"/>
<g stroke="#111" stroke-width="1.4"><line x1="41" y1="6.4" x2="45.2" y2="6.4"/><line x1="41" y1="109.8" x2="45.2" y2="109.8"/><line x1="41" y1="211.9" x2="45.2" y2="211.9"/><line x1="41" y1="314.6" x2="45.2" y2="314.6"/><line x1="41" y1="416.4" x2="45.2" y2="416.4"/><line x1="41" y1="519.1" x2="45.2" y2="519.1"/></g>
<rect x="45.2" y="6.7" width="395.90000000000003" height="572.3" fill="none" stroke="#111" stroke-width="2"/>
<g style="font-size:14px"><text x="23.80" y="12.10">20</text><text x="23.40" y="114.80">15</text><text x="22.80" y="216.80">10</text><text x="27.50" y="319.20">5</text><text x="26.50" y="420.80">0</text><text x="29.30" y="524.20">5</text><rect x="15.9" y="519.0" width="8.3" height="1.4" fill="#111"/></g>
<g style="font-size:14.5px"><text x="44.6" y="598.4" text-anchor="middle">&#915;</text><text x="61.0" y="598.4" text-anchor="middle">X</text><text x="89.4" y="598.4" text-anchor="middle">S</text><text x="103.0" y="598.4" text-anchor="middle">Y</text><text x="130.4" y="598.4" text-anchor="middle">&#915;</text><text x="160.5" y="598.4" text-anchor="middle">Z</text><text x="175.2" y="598.4" text-anchor="middle">U</text><text x="203.2" y="598.4" text-anchor="middle">R</text><text x="218.2" y="598.4" text-anchor="middle">T</text><text x="245.1" y="598.4" text-anchor="middle">Z</text><text x="287.4" y="598.4" text-anchor="middle">S</text><text x="318.2" y="598.4" text-anchor="middle">R</text><text x="349.7" y="598.4" text-anchor="middle">Y</text><text x="379.0" y="598.4" text-anchor="middle">T</text><text x="410.2" y="598.4" text-anchor="middle">U</text><text x="439.0" y="598.4" text-anchor="middle">X</text></g>
<g style="font-size:13.4px"><text transform="translate(12.4,369) rotate(-90)">E</text><text transform="translate(12.4,346.5) rotate(-90)">E</text><text transform="translate(17.7,337) rotate(-90)">F</text><text transform="translate(12.4,320.8) rotate(-90)">(eV)</text></g><rect x="7.6" y="350.4" width="1.5" height="5.6" fill="#111"/>
</svg>
</body></html>
